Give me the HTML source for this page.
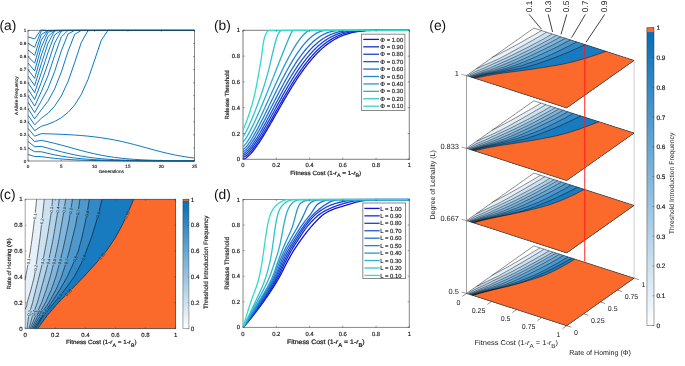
<!DOCTYPE html>
<html><head><meta charset="utf-8"><style>
html,body{margin:0;padding:0;background:#fff;}
svg{display:block;font-family:"Liberation Sans", sans-serif;will-change:transform;text-rendering:geometricPrecision;}
</style></head><body>
<svg width="685" height="366" viewBox="0 0 685 366" xmlns="http://www.w3.org/2000/svg">
<defs>
<clipPath id="clipa"><rect x="28" y="29.4" width="166.5" height="132.6"/></clipPath>
<clipPath id="clipb"><rect x="243" y="29.6" width="167" height="129.7"/></clipPath>
<clipPath id="clipd"><rect x="243" y="198.8" width="167" height="128.6"/></clipPath>
</defs>
<rect width="685" height="366" fill="#fff"/>
<text x="-0.5" y="29.8" font-size="13.8" text-anchor="start" fill="#111">(a)</text>
<g clip-path="url(#clipa)">
<path d="M28 154.47 L34.66 156.46 L41.32 156.62 L47.98 157.58 L54.64 158.36 L61.3 158.98 L67.96 159.46 L74.62 159.84 L81.28 160.13 L87.94 160.34 L94.6 160.51 L101.26 160.63 L107.92 160.73 L114.58 160.8 L121.24 160.85 L127.9 160.89 L134.56 160.92 L141.22 160.94 L147.88 160.95 L154.54 160.97 L161.2 160.97 L167.86 160.98 L174.52 160.99 L181.18 160.99 L187.84 160.99 L194.5 160.99" stroke="#0072bd" fill="none" stroke-width="0.95" stroke-linejoin="round"/>
<path d="M28 147.94 L34.66 151.7 L41.32 151.76 L47.98 153.38 L54.64 154.83 L61.3 156.09 L67.96 157.14 L74.62 158.01 L81.28 158.7 L87.94 159.25 L94.6 159.67 L101.26 160 L107.92 160.25 L114.58 160.44 L121.24 160.58 L127.9 160.69 L134.56 160.77 L141.22 160.83 L147.88 160.87 L154.54 160.9 L161.2 160.93 L167.86 160.95 L174.52 160.96 L181.18 160.97 L187.84 160.98 L194.5 160.98" stroke="#0072bd" fill="none" stroke-width="0.95" stroke-linejoin="round"/>
<path d="M28 141.41 L34.66 146.74 L41.32 146.35 L47.98 148.2 L54.64 150.02 L61.3 151.78 L67.96 153.4 L74.62 154.85 L81.28 156.1 L87.94 157.15 L94.6 158.02 L101.26 158.71 L107.92 159.25 L114.58 159.68 L121.24 160 L127.9 160.25 L134.56 160.44 L141.22 160.58 L147.88 160.69 L154.54 160.77 L161.2 160.83 L167.86 160.87 L174.52 160.9 L181.18 160.93 L187.84 160.95 L194.5 160.96" stroke="#0072bd" fill="none" stroke-width="0.95" stroke-linejoin="round"/>
<path d="M28 134.88 L34.66 141.57 L41.32 140.34 L47.98 141.77 L54.64 143.36 L61.3 145.08 L67.96 146.89 L74.62 148.73 L81.28 150.55 L87.94 152.27 L94.6 153.84 L101.26 155.23 L107.92 156.43 L114.58 157.42 L121.24 158.23 L127.9 158.88 L134.56 159.39 L141.22 159.78 L147.88 160.08 L154.54 160.31 L161.2 160.48 L167.86 160.61 L174.52 160.71 L181.18 160.79 L187.84 160.84 L194.5 160.88" stroke="#0072bd" fill="none" stroke-width="0.95" stroke-linejoin="round"/>
<path d="M28 128.35 L34.66 136.19 L41.32 133.65 L47.98 133.82 L54.64 134.04 L61.3 134.3 L67.96 134.63 L74.62 135.04 L81.28 135.53 L87.94 136.14 L94.6 136.87 L101.26 137.75 L107.92 138.79 L114.58 140 L121.24 141.39 L127.9 142.94 L134.56 144.63 L141.22 146.42 L147.88 148.26 L154.54 150.09 L161.2 151.84 L167.86 153.45 L174.52 154.9 L181.18 156.14 L187.84 157.19 L194.5 158.04" stroke="#0072bd" fill="none" stroke-width="0.95" stroke-linejoin="round"/>
<path d="M28 121.82 L34.66 130.6 L41.32 126.27 L47.98 124.23 L54.64 121.49 L61.3 117.73 L67.96 112.49 L74.62 105.07 L81.28 94.47 L87.94 79.56 L94.6 60.12 L101.26 40.27 L107.92 30.4 L114.58 30.4 L121.24 30.4 L127.9 30.4 L134.56 30.4 L141.22 30.4 L147.88 30.4 L154.54 30.4 L161.2 30.4 L167.86 30.4 L174.52 30.4 L181.18 30.4 L187.84 30.4 L194.5 30.4" stroke="#0072bd" fill="none" stroke-width="0.95" stroke-linejoin="round"/>
<path d="M28 115.29 L34.66 124.8 L41.32 118.28 L47.98 113.26 L54.64 106.17 L61.3 96.05 L67.96 81.74 L74.62 62.79 L81.28 42.5 L87.94 30.71 L94.6 30.4 L101.26 30.4 L107.92 30.4 L114.58 30.4 L121.24 30.4 L127.9 30.4 L134.56 30.4 L141.22 30.4 L147.88 30.4 L154.54 30.4 L161.2 30.4 L167.86 30.4 L174.52 30.4 L181.18 30.4 L187.84 30.4 L194.5 30.4" stroke="#0072bd" fill="none" stroke-width="0.95" stroke-linejoin="round"/>
<path d="M28 108.76 L34.66 118.79 L41.32 109.78 L47.98 101.21 L54.64 88.99 L61.3 72.12 L67.96 51.61 L74.62 34.45 L81.28 30.4 L87.94 30.4 L94.6 30.4 L101.26 30.4 L107.92 30.4 L114.58 30.4 L121.24 30.4 L127.9 30.4 L134.56 30.4 L141.22 30.4 L147.88 30.4 L154.54 30.4 L161.2 30.4 L167.86 30.4 L174.52 30.4 L181.18 30.4 L187.84 30.4 L194.5 30.4" stroke="#0072bd" fill="none" stroke-width="0.95" stroke-linejoin="round"/>
<path d="M28 102.23 L34.66 112.57 L41.32 100.87 L47.98 88.5 L54.64 71.47 L61.3 50.92 L67.96 34.07 L74.62 30.4 L81.28 30.4 L87.94 30.4 L94.6 30.4 L101.26 30.4 L107.92 30.4 L114.58 30.4 L121.24 30.4 L127.9 30.4 L134.56 30.4 L141.22 30.4 L147.88 30.4 L154.54 30.4 L161.2 30.4 L167.86 30.4 L174.52 30.4 L181.18 30.4 L187.84 30.4 L194.5 30.4" stroke="#0072bd" fill="none" stroke-width="0.95" stroke-linejoin="round"/>
<path d="M28 95.7 L34.66 106.15 L41.32 91.65 L47.98 75.69 L54.64 55.57 L61.3 36.9 L67.96 30.4 L74.62 30.4 L81.28 30.4 L87.94 30.4 L94.6 30.4 L101.26 30.4 L107.92 30.4 L114.58 30.4 L121.24 30.4 L127.9 30.4 L134.56 30.4 L141.22 30.4 L147.88 30.4 L154.54 30.4 L161.2 30.4 L167.86 30.4 L174.52 30.4 L181.18 30.4 L187.84 30.4 L194.5 30.4" stroke="#0072bd" fill="none" stroke-width="0.95" stroke-linejoin="round"/>
<path d="M28 89.17 L34.66 99.51 L41.32 82.26 L47.98 63.44 L54.64 43.07 L61.3 30.86 L67.96 30.4 L74.62 30.4 L81.28 30.4 L87.94 30.4 L94.6 30.4 L101.26 30.4 L107.92 30.4 L114.58 30.4 L121.24 30.4 L127.9 30.4 L134.56 30.4 L141.22 30.4 L147.88 30.4 L154.54 30.4 L161.2 30.4 L167.86 30.4 L174.52 30.4 L181.18 30.4 L187.84 30.4 L194.5 30.4" stroke="#0072bd" fill="none" stroke-width="0.95" stroke-linejoin="round"/>
<path d="M28 82.64 L34.66 92.67 L41.32 72.89 L47.98 52.44 L54.64 34.93 L61.3 30.4 L67.96 30.4 L74.62 30.4 L81.28 30.4 L87.94 30.4 L94.6 30.4 L101.26 30.4 L107.92 30.4 L114.58 30.4 L121.24 30.4 L127.9 30.4 L134.56 30.4 L141.22 30.4 L147.88 30.4 L154.54 30.4 L161.2 30.4 L167.86 30.4 L174.52 30.4 L181.18 30.4 L187.84 30.4 L194.5 30.4" stroke="#0072bd" fill="none" stroke-width="0.95" stroke-linejoin="round"/>
<path d="M28 76.11 L34.66 85.62 L41.32 63.73 L47.98 43.32 L54.64 30.93 L61.3 30.4 L67.96 30.4 L74.62 30.4 L81.28 30.4 L87.94 30.4 L94.6 30.4 L101.26 30.4 L107.92 30.4 L114.58 30.4 L121.24 30.4 L127.9 30.4 L134.56 30.4 L141.22 30.4 L147.88 30.4 L154.54 30.4 L161.2 30.4 L167.86 30.4 L174.52 30.4 L181.18 30.4 L187.84 30.4 L194.5 30.4" stroke="#0072bd" fill="none" stroke-width="0.95" stroke-linejoin="round"/>
<path d="M28 69.58 L34.66 78.36 L41.32 55.01 L47.98 36.53 L54.64 30.4 L61.3 30.4 L67.96 30.4 L74.62 30.4 L81.28 30.4 L87.94 30.4 L94.6 30.4 L101.26 30.4 L107.92 30.4 L114.58 30.4 L121.24 30.4 L127.9 30.4 L134.56 30.4 L141.22 30.4 L147.88 30.4 L154.54 30.4 L161.2 30.4 L167.86 30.4 L174.52 30.4 L181.18 30.4 L187.84 30.4 L194.5 30.4" stroke="#0072bd" fill="none" stroke-width="0.95" stroke-linejoin="round"/>
<path d="M28 63.05 L34.66 70.89 L41.32 47.02 L47.98 32.22 L54.64 30.4 L61.3 30.4 L67.96 30.4 L74.62 30.4 L81.28 30.4 L87.94 30.4 L94.6 30.4 L101.26 30.4 L107.92 30.4 L114.58 30.4 L121.24 30.4 L127.9 30.4 L134.56 30.4 L141.22 30.4 L147.88 30.4 L154.54 30.4 L161.2 30.4 L167.86 30.4 L174.52 30.4 L181.18 30.4 L187.84 30.4 L194.5 30.4" stroke="#0072bd" fill="none" stroke-width="0.95" stroke-linejoin="round"/>
<path d="M28 56.52 L34.66 63.21 L41.32 40.07 L47.98 30.4 L54.64 30.4 L61.3 30.4 L67.96 30.4 L74.62 30.4 L81.28 30.4 L87.94 30.4 L94.6 30.4 L101.26 30.4 L107.92 30.4 L114.58 30.4 L121.24 30.4 L127.9 30.4 L134.56 30.4 L141.22 30.4 L147.88 30.4 L154.54 30.4 L161.2 30.4 L167.86 30.4 L174.52 30.4 L181.18 30.4 L187.84 30.4 L194.5 30.4" stroke="#0072bd" fill="none" stroke-width="0.95" stroke-linejoin="round"/>
<path d="M28 49.99 L34.66 55.32 L41.32 34.5 L47.98 30.4 L54.64 30.4 L61.3 30.4 L67.96 30.4 L74.62 30.4 L81.28 30.4 L87.94 30.4 L94.6 30.4 L101.26 30.4 L107.92 30.4 L114.58 30.4 L121.24 30.4 L127.9 30.4 L134.56 30.4 L141.22 30.4 L147.88 30.4 L154.54 30.4 L161.2 30.4 L167.86 30.4 L174.52 30.4 L181.18 30.4 L187.84 30.4 L194.5 30.4" stroke="#0072bd" fill="none" stroke-width="0.95" stroke-linejoin="round"/>
<path d="M28 43.46 L34.66 47.22 L41.32 30.73 L47.98 30.4 L54.64 30.4 L61.3 30.4 L67.96 30.4 L74.62 30.4 L81.28 30.4 L87.94 30.4 L94.6 30.4 L101.26 30.4 L107.92 30.4 L114.58 30.4 L121.24 30.4 L127.9 30.4 L134.56 30.4 L141.22 30.4 L147.88 30.4 L154.54 30.4 L161.2 30.4 L167.86 30.4 L174.52 30.4 L181.18 30.4 L187.84 30.4 L194.5 30.4" stroke="#0072bd" fill="none" stroke-width="0.95" stroke-linejoin="round"/>
<path d="M28 36.93 L34.66 38.92 L41.32 29.2 L47.98 30.69 L54.64 30.4 L61.3 30.4 L67.96 30.4 L74.62 30.4 L81.28 30.4 L87.94 30.4 L94.6 30.4 L101.26 30.4 L107.92 30.4 L114.58 30.4 L121.24 30.4 L127.9 30.4 L134.56 30.4 L141.22 30.4 L147.88 30.4 L154.54 30.4 L161.2 30.4 L167.86 30.4 L174.52 30.4 L181.18 30.4 L187.84 30.4 L194.5 30.4" stroke="#0072bd" fill="none" stroke-width="0.95" stroke-linejoin="round"/>
</g>
<rect x="28" y="30.4" width="166.5" height="130.6" fill="none" stroke="#262626" stroke-opacity="0.55" stroke-width="1"/>
<line x1="28" y1="161" x2="28" y2="159.5" stroke="#262626" stroke-opacity="0.55" stroke-width="0.8"/>
<line x1="28" y1="30.4" x2="28" y2="31.9" stroke="#262626" stroke-opacity="0.55" stroke-width="0.8"/>
<text x="28" y="167.6" font-size="4.6" text-anchor="middle" fill="#1a1a1a" stroke="#1a1a1a" stroke-width="0.13">0</text>
<line x1="61.3" y1="161" x2="61.3" y2="159.5" stroke="#262626" stroke-opacity="0.55" stroke-width="0.8"/>
<line x1="61.3" y1="30.4" x2="61.3" y2="31.9" stroke="#262626" stroke-opacity="0.55" stroke-width="0.8"/>
<text x="61.3" y="167.6" font-size="4.6" text-anchor="middle" fill="#1a1a1a" stroke="#1a1a1a" stroke-width="0.13">5</text>
<line x1="94.6" y1="161" x2="94.6" y2="159.5" stroke="#262626" stroke-opacity="0.55" stroke-width="0.8"/>
<line x1="94.6" y1="30.4" x2="94.6" y2="31.9" stroke="#262626" stroke-opacity="0.55" stroke-width="0.8"/>
<text x="94.6" y="167.6" font-size="4.6" text-anchor="middle" fill="#1a1a1a" stroke="#1a1a1a" stroke-width="0.13">10</text>
<line x1="127.9" y1="161" x2="127.9" y2="159.5" stroke="#262626" stroke-opacity="0.55" stroke-width="0.8"/>
<line x1="127.9" y1="30.4" x2="127.9" y2="31.9" stroke="#262626" stroke-opacity="0.55" stroke-width="0.8"/>
<text x="127.9" y="167.6" font-size="4.6" text-anchor="middle" fill="#1a1a1a" stroke="#1a1a1a" stroke-width="0.13">15</text>
<line x1="161.2" y1="161" x2="161.2" y2="159.5" stroke="#262626" stroke-opacity="0.55" stroke-width="0.8"/>
<line x1="161.2" y1="30.4" x2="161.2" y2="31.9" stroke="#262626" stroke-opacity="0.55" stroke-width="0.8"/>
<text x="161.2" y="167.6" font-size="4.6" text-anchor="middle" fill="#1a1a1a" stroke="#1a1a1a" stroke-width="0.13">20</text>
<line x1="194.5" y1="161" x2="194.5" y2="159.5" stroke="#262626" stroke-opacity="0.55" stroke-width="0.8"/>
<line x1="194.5" y1="30.4" x2="194.5" y2="31.9" stroke="#262626" stroke-opacity="0.55" stroke-width="0.8"/>
<text x="194.5" y="167.6" font-size="4.6" text-anchor="middle" fill="#1a1a1a" stroke="#1a1a1a" stroke-width="0.13">25</text>
<line x1="28" y1="161" x2="29.5" y2="161" stroke="#262626" stroke-opacity="0.55" stroke-width="0.8"/>
<line x1="194.5" y1="161" x2="193" y2="161" stroke="#262626" stroke-opacity="0.55" stroke-width="0.8"/>
<text x="26.2" y="162.61" font-size="4.6" text-anchor="end" fill="#1a1a1a" stroke="#1a1a1a" stroke-width="0.13">0</text>
<line x1="28" y1="147.94" x2="29.5" y2="147.94" stroke="#262626" stroke-opacity="0.55" stroke-width="0.8"/>
<line x1="194.5" y1="147.94" x2="193" y2="147.94" stroke="#262626" stroke-opacity="0.55" stroke-width="0.8"/>
<text x="26.2" y="149.55" font-size="4.6" text-anchor="end" fill="#1a1a1a" stroke="#1a1a1a" stroke-width="0.13">0.1</text>
<line x1="28" y1="134.88" x2="29.5" y2="134.88" stroke="#262626" stroke-opacity="0.55" stroke-width="0.8"/>
<line x1="194.5" y1="134.88" x2="193" y2="134.88" stroke="#262626" stroke-opacity="0.55" stroke-width="0.8"/>
<text x="26.2" y="136.49" font-size="4.6" text-anchor="end" fill="#1a1a1a" stroke="#1a1a1a" stroke-width="0.13">0.2</text>
<line x1="28" y1="121.82" x2="29.5" y2="121.82" stroke="#262626" stroke-opacity="0.55" stroke-width="0.8"/>
<line x1="194.5" y1="121.82" x2="193" y2="121.82" stroke="#262626" stroke-opacity="0.55" stroke-width="0.8"/>
<text x="26.2" y="123.43" font-size="4.6" text-anchor="end" fill="#1a1a1a" stroke="#1a1a1a" stroke-width="0.13">0.3</text>
<line x1="28" y1="108.76" x2="29.5" y2="108.76" stroke="#262626" stroke-opacity="0.55" stroke-width="0.8"/>
<line x1="194.5" y1="108.76" x2="193" y2="108.76" stroke="#262626" stroke-opacity="0.55" stroke-width="0.8"/>
<text x="26.2" y="110.37" font-size="4.6" text-anchor="end" fill="#1a1a1a" stroke="#1a1a1a" stroke-width="0.13">0.4</text>
<line x1="28" y1="95.7" x2="29.5" y2="95.7" stroke="#262626" stroke-opacity="0.55" stroke-width="0.8"/>
<line x1="194.5" y1="95.7" x2="193" y2="95.7" stroke="#262626" stroke-opacity="0.55" stroke-width="0.8"/>
<text x="26.2" y="97.31" font-size="4.6" text-anchor="end" fill="#1a1a1a" stroke="#1a1a1a" stroke-width="0.13">0.5</text>
<line x1="28" y1="82.64" x2="29.5" y2="82.64" stroke="#262626" stroke-opacity="0.55" stroke-width="0.8"/>
<line x1="194.5" y1="82.64" x2="193" y2="82.64" stroke="#262626" stroke-opacity="0.55" stroke-width="0.8"/>
<text x="26.2" y="84.25" font-size="4.6" text-anchor="end" fill="#1a1a1a" stroke="#1a1a1a" stroke-width="0.13">0.6</text>
<line x1="28" y1="69.58" x2="29.5" y2="69.58" stroke="#262626" stroke-opacity="0.55" stroke-width="0.8"/>
<line x1="194.5" y1="69.58" x2="193" y2="69.58" stroke="#262626" stroke-opacity="0.55" stroke-width="0.8"/>
<text x="26.2" y="71.19" font-size="4.6" text-anchor="end" fill="#1a1a1a" stroke="#1a1a1a" stroke-width="0.13">0.7</text>
<line x1="28" y1="56.52" x2="29.5" y2="56.52" stroke="#262626" stroke-opacity="0.55" stroke-width="0.8"/>
<line x1="194.5" y1="56.52" x2="193" y2="56.52" stroke="#262626" stroke-opacity="0.55" stroke-width="0.8"/>
<text x="26.2" y="58.13" font-size="4.6" text-anchor="end" fill="#1a1a1a" stroke="#1a1a1a" stroke-width="0.13">0.8</text>
<line x1="28" y1="43.46" x2="29.5" y2="43.46" stroke="#262626" stroke-opacity="0.55" stroke-width="0.8"/>
<line x1="194.5" y1="43.46" x2="193" y2="43.46" stroke="#262626" stroke-opacity="0.55" stroke-width="0.8"/>
<text x="26.2" y="45.07" font-size="4.6" text-anchor="end" fill="#1a1a1a" stroke="#1a1a1a" stroke-width="0.13">0.9</text>
<line x1="28" y1="30.4" x2="29.5" y2="30.4" stroke="#262626" stroke-opacity="0.55" stroke-width="0.8"/>
<line x1="194.5" y1="30.4" x2="193" y2="30.4" stroke="#262626" stroke-opacity="0.55" stroke-width="0.8"/>
<text x="26.2" y="32.01" font-size="4.6" text-anchor="end" fill="#1a1a1a" stroke="#1a1a1a" stroke-width="0.13">1</text>
<text x="111.25" y="173.2" font-size="4.6" text-anchor="middle" fill="#1a1a1a" stroke="#1a1a1a" stroke-width="0.13">Generations</text>
<text x="17.6" y="95.7" font-size="4.7" text-anchor="middle" fill="#1a1a1a" transform="rotate(-90 17.6 95.7)" stroke="#1a1a1a" stroke-width="0.13">A Allele Frequency</text>
<text x="214" y="30" font-size="13.8" text-anchor="start" fill="#111">(b)</text>
<rect x="243" y="30.3" width="166.3" height="129" fill="none" stroke="#262626" stroke-opacity="0.6" stroke-width="1"/>
<g clip-path="url(#clipb)">
<path d="M243 159.28 L243.83 159.08 L244.66 158.73 L245.49 158.26 L246.33 157.7 L247.16 157.07 L247.99 156.36 L248.82 155.6 L249.65 154.78 L250.48 153.9 L251.31 152.98 L252.15 152.02 L252.98 151.01 L253.81 149.97 L254.64 148.89 L255.47 147.77 L256.3 146.63 L257.14 145.46 L257.97 144.25 L258.8 143.03 L259.63 141.78 L260.46 140.5 L261.29 139.21 L262.12 137.89 L262.96 136.56 L263.79 135.21 L264.62 133.85 L265.45 132.47 L266.28 131.08 L267.11 129.68 L267.94 128.26 L268.78 126.84 L269.61 125.41 L270.44 123.97 L271.27 122.52 L272.1 121.07 L272.93 119.62 L273.77 118.16 L274.6 116.7 L275.43 115.24 L276.26 113.77 L277.09 112.31 L277.92 110.85 L278.75 109.39 L279.59 107.93 L280.42 106.47 L281.25 105.02 L282.08 103.57 L282.91 102.13 L283.74 100.7 L284.57 99.27 L285.41 97.84 L286.24 96.43 L287.07 95.02 L287.9 93.62 L288.73 92.23 L289.56 90.86 L290.4 89.49 L291.23 88.13 L292.06 86.78 L292.89 85.45 L293.72 84.13 L294.55 82.82 L295.38 81.52 L296.22 80.24 L297.05 78.97 L297.88 77.71 L298.71 76.47 L299.54 75.25 L300.37 74.04 L301.21 72.85 L302.04 71.67 L302.87 70.5 L303.7 69.36 L304.53 68.23 L305.36 67.12 L306.19 66.02 L307.03 64.94 L307.86 63.88 L308.69 62.84 L309.52 61.81 L310.35 60.8 L311.18 59.81 L312.01 58.84 L312.85 57.89 L313.68 56.95 L314.51 56.03 L315.34 55.14 L316.17 54.25 L317 53.39 L317.84 52.55 L318.67 51.72 L319.5 50.92 L320.33 50.13 L321.16 49.36 L321.99 48.61 L322.82 47.88 L323.66 47.16 L324.49 46.47 L325.32 45.79 L326.15 45.13 L326.98 44.48 L327.81 43.86 L328.64 43.25 L329.48 42.66 L330.31 42.09 L331.14 41.54 L331.97 41 L332.8 40.48 L333.63 39.98 L334.47 39.49 L335.3 39.02 L336.13 38.56 L336.96 38.12 L337.79 37.7 L338.62 37.29 L339.45 36.9 L340.29 36.52 L341.12 36.16 L341.95 35.81 L342.78 35.48 L343.61 35.16 L344.44 34.85 L345.27 34.56 L346.11 34.28 L346.94 34.01 L347.77 33.76 L348.6 33.52 L349.43 33.29 L350.26 33.07 L351.1 32.86 L351.93 32.67 L352.76 32.48 L353.59 32.31 L354.42 32.14 L355.25 31.99 L356.08 31.84 L356.92 31.7 L357.75 31.58 L358.58 31.46 L359.41 31.35 L360.24 31.24 L361.07 31.15 L361.9 31.06 L362.74 30.98 L363.57 30.9 L364.4 30.83 L365.23 30.77 L366.06 30.71 L366.89 30.66 L367.73 30.61 L368.56 30.57 L369.39 30.53 L370.22 30.5 L371.05 30.47 L371.88 30.44 L372.71 30.42 L373.55 30.39 L374.38 30.38 L375.21 30.36 L376.04 30.35 L376.87 30.34 L377.7 30.33 L378.53 30.32 L379.37 30.32 L380.2 30.31 L381.03 30.31 L381.86 30.31 L382.69 30.3 L383.52 30.3 L384.36 30.3 L409.3 30.3" stroke="#1414d2" fill="none" stroke-width="1.3" stroke-linejoin="round"/>
<path d="M243 157.21 L243.83 157.01 L244.66 156.66 L245.49 156.19 L246.33 155.62 L247.16 154.98 L247.99 154.27 L248.82 153.49 L249.65 152.66 L250.48 151.77 L251.31 150.84 L252.15 149.86 L252.98 148.83 L253.81 147.77 L254.64 146.67 L255.47 145.54 L256.3 144.38 L257.14 143.18 L257.97 141.96 L258.8 140.71 L259.63 139.43 L260.46 138.14 L261.29 136.82 L262.12 135.48 L262.96 134.12 L263.79 132.75 L264.62 131.36 L265.45 129.96 L266.28 128.54 L267.11 127.11 L267.94 125.67 L268.78 124.22 L269.61 122.77 L270.44 121.3 L271.27 119.83 L272.1 118.36 L272.93 116.88 L273.77 115.4 L274.6 113.91 L275.43 112.42 L276.26 110.94 L277.09 109.45 L277.92 107.97 L278.75 106.48 L279.59 105 L280.42 103.53 L281.25 102.06 L282.08 100.59 L282.91 99.13 L283.74 97.68 L284.57 96.23 L285.41 94.79 L286.24 93.36 L287.07 91.94 L287.9 90.53 L288.73 89.12 L289.56 87.73 L290.4 86.36 L291.23 84.99 L292.06 83.63 L292.89 82.29 L293.72 80.96 L294.55 79.65 L295.38 78.35 L296.22 77.06 L297.05 75.79 L297.88 74.54 L298.71 73.3 L299.54 72.07 L300.37 70.87 L301.21 69.68 L302.04 68.5 L302.87 67.35 L303.7 66.21 L304.53 65.09 L305.36 63.99 L306.19 62.91 L307.03 61.84 L307.86 60.79 L308.69 59.77 L309.52 58.76 L310.35 57.77 L311.18 56.8 L312.01 55.85 L312.85 54.91 L313.68 54 L314.51 53.11 L315.34 52.24 L316.17 51.38 L317 50.55 L317.84 49.74 L318.67 48.94 L319.5 48.17 L320.33 47.41 L321.16 46.68 L321.99 45.96 L322.82 45.27 L323.66 44.59 L324.49 43.93 L325.32 43.29 L326.15 42.67 L326.98 42.07 L327.81 41.49 L328.64 40.92 L329.48 40.38 L330.31 39.85 L331.14 39.34 L331.97 38.85 L332.8 38.38 L333.63 37.92 L334.47 37.48 L335.3 37.06 L336.13 36.65 L336.96 36.27 L337.79 35.89 L338.62 35.53 L339.45 35.19 L340.29 34.87 L341.12 34.55 L341.95 34.26 L342.78 33.97 L343.61 33.7 L344.44 33.45 L345.27 33.21 L346.11 32.98 L346.94 32.76 L347.77 32.56 L348.6 32.37 L349.43 32.19 L350.26 32.02 L351.1 31.86 L351.93 31.71 L352.76 31.57 L353.59 31.44 L354.42 31.32 L355.25 31.21 L356.08 31.11 L356.92 31.02 L357.75 30.93 L358.58 30.86 L359.41 30.78 L360.24 30.72 L361.07 30.66 L361.9 30.61 L362.74 30.56 L363.57 30.52 L364.4 30.49 L365.23 30.45 L366.06 30.43 L366.89 30.4 L367.73 30.38 L368.56 30.36 L369.39 30.35 L370.22 30.34 L371.05 30.33 L371.88 30.32 L372.71 30.31 L373.55 30.31 L374.38 30.31 L375.21 30.3 L376.04 30.3 L376.87 30.3 L377.7 30.3 L378.53 30.3 L379.37 30.3 L380.2 30.3 L381.03 30.3 L381.86 30.3 L382.69 30.3 L383.52 30.3 L384.36 30.3 L409.3 30.3" stroke="#172ad2" fill="none" stroke-width="1.3" stroke-linejoin="round"/>
<path d="M243 155.27 L243.83 155.06 L244.66 154.68 L245.49 154.18 L246.33 153.57 L247.16 152.89 L247.99 152.13 L248.82 151.31 L249.65 150.43 L250.48 149.49 L251.31 148.51 L252.15 147.48 L252.98 146.4 L253.81 145.29 L254.64 144.14 L255.47 142.95 L256.3 141.73 L257.14 140.48 L257.97 139.21 L258.8 137.9 L259.63 136.58 L260.46 135.23 L261.29 133.86 L262.12 132.46 L262.96 131.06 L263.79 129.63 L264.62 128.19 L265.45 126.74 L266.28 125.27 L267.11 123.8 L267.94 122.31 L268.78 120.82 L269.61 119.31 L270.44 117.81 L271.27 116.29 L272.1 114.78 L272.93 113.26 L273.77 111.73 L274.6 110.21 L275.43 108.69 L276.26 107.17 L277.09 105.65 L277.92 104.13 L278.75 102.61 L279.59 101.11 L280.42 99.6 L281.25 98.1 L282.08 96.61 L282.91 95.13 L283.74 93.65 L284.57 92.18 L285.41 90.73 L286.24 89.28 L287.07 87.84 L287.9 86.42 L288.73 85.01 L289.56 83.61 L290.4 82.22 L291.23 80.85 L292.06 79.49 L292.89 78.14 L293.72 76.82 L294.55 75.5 L295.38 74.21 L296.22 72.92 L297.05 71.66 L297.88 70.41 L298.71 69.19 L299.54 67.97 L300.37 66.78 L301.21 65.61 L302.04 64.45 L302.87 63.32 L303.7 62.2 L304.53 61.1 L305.36 60.03 L306.19 58.97 L307.03 57.93 L307.86 56.92 L308.69 55.92 L309.52 54.94 L310.35 53.99 L311.18 53.06 L312.01 52.14 L312.85 51.25 L313.68 50.38 L314.51 49.53 L315.34 48.7 L316.17 47.9 L317 47.11 L317.84 46.35 L318.67 45.6 L319.5 44.88 L320.33 44.18 L321.16 43.5 L321.99 42.84 L322.82 42.2 L323.66 41.58 L324.49 40.98 L325.32 40.4 L326.15 39.84 L326.98 39.3 L327.81 38.78 L328.64 38.28 L329.48 37.8 L330.31 37.34 L331.14 36.9 L331.97 36.47 L332.8 36.06 L333.63 35.67 L334.47 35.3 L335.3 34.95 L336.13 34.61 L336.96 34.29 L337.79 33.98 L338.62 33.69 L339.45 33.42 L340.29 33.16 L341.12 32.92 L341.95 32.69 L342.78 32.47 L343.61 32.27 L344.44 32.08 L345.27 31.9 L346.11 31.74 L346.94 31.59 L347.77 31.45 L348.6 31.32 L349.43 31.2 L350.26 31.09 L351.1 30.99 L351.93 30.9 L352.76 30.81 L353.59 30.74 L354.42 30.67 L355.25 30.61 L356.08 30.56 L356.92 30.52 L357.75 30.48 L358.58 30.44 L359.41 30.41 L360.24 30.39 L361.07 30.37 L361.9 30.35 L362.74 30.34 L363.57 30.33 L364.4 30.32 L365.23 30.31 L366.06 30.31 L366.89 30.3 L367.73 30.3 L368.56 30.3 L369.39 30.3 L370.22 30.3 L371.05 30.3 L371.88 30.3 L372.71 30.3 L373.55 30.3 L374.38 30.3 L375.21 30.3 L376.04 30.3 L376.87 30.3 L377.7 30.3 L378.53 30.3 L379.37 30.3 L380.2 30.3 L381.03 30.3 L381.86 30.3 L382.69 30.3 L383.52 30.3 L384.36 30.3 L409.3 30.3" stroke="#1b40d1" fill="none" stroke-width="1.3" stroke-linejoin="round"/>
<path d="M243 153.47 L243.83 153.22 L244.66 152.8 L245.49 152.25 L246.33 151.59 L247.16 150.85 L247.99 150.03 L248.82 149.14 L249.65 148.19 L250.48 147.18 L251.31 146.13 L252.15 145.03 L252.98 143.88 L253.81 142.69 L254.64 141.46 L255.47 140.2 L256.3 138.91 L257.14 137.59 L257.97 136.24 L258.8 134.86 L259.63 133.46 L260.46 132.04 L261.29 130.59 L262.12 129.13 L262.96 127.65 L263.79 126.16 L264.62 124.65 L265.45 123.13 L266.28 121.6 L267.11 120.06 L267.94 118.51 L268.78 116.95 L269.61 115.39 L270.44 113.83 L271.27 112.26 L272.1 110.68 L272.93 109.11 L273.77 107.53 L274.6 105.96 L275.43 104.39 L276.26 102.82 L277.09 101.26 L277.92 99.7 L278.75 98.14 L279.59 96.59 L280.42 95.05 L281.25 93.52 L282.08 92 L282.91 90.48 L283.74 88.98 L284.57 87.48 L285.41 86 L286.24 84.53 L287.07 83.08 L287.9 81.64 L288.73 80.21 L289.56 78.8 L290.4 77.4 L291.23 76.02 L292.06 74.66 L292.89 73.31 L293.72 71.98 L294.55 70.67 L295.38 69.37 L296.22 68.1 L297.05 66.85 L297.88 65.61 L298.71 64.4 L299.54 63.2 L300.37 62.03 L301.21 60.87 L302.04 59.74 L302.87 58.63 L303.7 57.54 L304.53 56.48 L305.36 55.43 L306.19 54.41 L307.03 53.41 L307.86 52.44 L308.69 51.48 L309.52 50.55 L310.35 49.65 L311.18 48.76 L312.01 47.9 L312.85 47.06 L313.68 46.25 L314.51 45.46 L315.34 44.69 L316.17 43.94 L317 43.22 L317.84 42.52 L318.67 41.85 L319.5 41.19 L320.33 40.56 L321.16 39.95 L321.99 39.37 L322.82 38.8 L323.66 38.26 L324.49 37.74 L325.32 37.24 L326.15 36.76 L326.98 36.31 L327.81 35.87 L328.64 35.46 L329.48 35.06 L330.31 34.69 L331.14 34.33 L331.97 33.99 L332.8 33.67 L333.63 33.37 L334.47 33.09 L335.3 32.82 L336.13 32.58 L336.96 32.34 L337.79 32.13 L338.62 31.93 L339.45 31.74 L340.29 31.57 L341.12 31.41 L341.95 31.27 L342.78 31.14 L343.61 31.02 L344.44 30.91 L345.27 30.82 L346.11 30.73 L346.94 30.66 L347.77 30.59 L348.6 30.53 L349.43 30.48 L350.26 30.44 L351.1 30.41 L351.93 30.38 L352.76 30.36 L353.59 30.34 L354.42 30.33 L355.25 30.32 L356.08 30.31 L356.92 30.3 L357.75 30.3 L358.58 30.3 L359.41 30.3 L360.24 30.3 L361.07 30.3 L361.9 30.3 L362.74 30.3 L363.57 30.3 L364.4 30.3 L365.23 30.3 L366.06 30.3 L366.89 30.3 L367.73 30.3 L368.56 30.3 L369.39 30.3 L370.22 30.3 L371.05 30.3 L371.88 30.3 L372.71 30.3 L373.55 30.3 L374.38 30.3 L375.21 30.3 L376.04 30.3 L376.87 30.3 L377.7 30.3 L378.53 30.3 L379.37 30.3 L380.2 30.3 L381.03 30.3 L381.86 30.3 L382.69 30.3 L383.52 30.3 L384.36 30.3 L409.3 30.3" stroke="#1e56d1" fill="none" stroke-width="1.3" stroke-linejoin="round"/>
<path d="M243 151.52 L243.83 151.21 L244.66 150.7 L245.49 150.04 L246.33 149.27 L247.16 148.41 L247.99 147.48 L248.82 146.48 L249.65 145.41 L250.48 144.3 L251.31 143.13 L252.15 141.92 L252.98 140.66 L253.81 139.37 L254.64 138.04 L255.47 136.68 L256.3 135.29 L257.14 133.87 L257.97 132.43 L258.8 130.96 L259.63 129.48 L260.46 127.97 L261.29 126.44 L262.12 124.9 L262.96 123.34 L263.79 121.78 L264.62 120.2 L265.45 118.61 L266.28 117.01 L267.11 115.4 L267.94 113.79 L268.78 112.17 L269.61 110.55 L270.44 108.93 L271.27 107.3 L272.1 105.68 L272.93 104.06 L273.77 102.43 L274.6 100.82 L275.43 99.2 L276.26 97.59 L277.09 95.99 L277.92 94.39 L278.75 92.8 L279.59 91.22 L280.42 89.64 L281.25 88.08 L282.08 86.53 L282.91 84.99 L283.74 83.46 L284.57 81.94 L285.41 80.44 L286.24 78.96 L287.07 77.48 L287.9 76.03 L288.73 74.59 L289.56 73.16 L290.4 71.76 L291.23 70.37 L292.06 69 L292.89 67.65 L293.72 66.32 L294.55 65.01 L295.38 63.72 L296.22 62.45 L297.05 61.21 L297.88 59.98 L298.71 58.78 L299.54 57.6 L300.37 56.44 L301.21 55.31 L302.04 54.2 L302.87 53.12 L303.7 52.05 L304.53 51.02 L305.36 50.01 L306.19 49.02 L307.03 48.06 L307.86 47.13 L308.69 46.22 L309.52 45.34 L310.35 44.48 L311.18 43.65 L312.01 42.85 L312.85 42.07 L313.68 41.32 L314.51 40.59 L315.34 39.89 L316.17 39.22 L317 38.58 L317.84 37.96 L318.67 37.37 L319.5 36.8 L320.33 36.26 L321.16 35.75 L321.99 35.26 L322.82 34.8 L323.66 34.37 L324.49 33.96 L325.32 33.57 L326.15 33.21 L326.98 32.87 L327.81 32.56 L328.64 32.27 L329.48 32 L330.31 31.76 L331.14 31.54 L331.97 31.34 L332.8 31.16 L333.63 31 L334.47 30.86 L335.3 30.73 L336.13 30.63 L336.96 30.54 L337.79 30.47 L338.62 30.41 L339.45 30.37 L340.29 30.34 L341.12 30.32 L341.95 30.31 L342.78 30.3 L343.61 30.3 L344.44 30.3 L345.27 30.3 L346.11 30.3 L346.94 30.3 L347.77 30.3 L348.6 30.3 L349.43 30.3 L350.26 30.3 L351.1 30.3 L351.93 30.3 L352.76 30.3 L353.59 30.3 L354.42 30.3 L355.25 30.3 L356.08 30.3 L356.92 30.3 L357.75 30.3 L358.58 30.3 L359.41 30.3 L360.24 30.3 L361.07 30.3 L361.9 30.3 L362.74 30.3 L363.57 30.3 L364.4 30.3 L365.23 30.3 L366.06 30.3 L366.89 30.3 L367.73 30.3 L368.56 30.3 L369.39 30.3 L370.22 30.3 L371.05 30.3 L371.88 30.3 L372.71 30.3 L373.55 30.3 L374.38 30.3 L375.21 30.3 L376.04 30.3 L376.87 30.3 L377.7 30.3 L378.53 30.3 L379.37 30.3 L380.2 30.3 L381.03 30.3 L381.86 30.3 L382.69 30.3 L383.52 30.3 L384.36 30.3 L409.3 30.3" stroke="#216cd0" fill="none" stroke-width="1.3" stroke-linejoin="round"/>
<path d="M243 149.32 L243.83 148.93 L244.66 148.31 L245.49 147.53 L246.33 146.64 L247.16 145.65 L247.99 144.59 L248.82 143.46 L249.65 142.27 L250.48 141.03 L251.31 139.74 L252.15 138.4 L252.98 137.02 L253.81 135.61 L254.64 134.16 L255.47 132.68 L256.3 131.17 L257.14 129.64 L257.97 128.08 L258.8 126.5 L259.63 124.9 L260.46 123.28 L261.29 121.65 L262.12 120 L262.96 118.34 L263.79 116.67 L264.62 114.99 L265.45 113.3 L266.28 111.61 L267.11 109.91 L267.94 108.2 L268.78 106.49 L269.61 104.78 L270.44 103.07 L271.27 101.36 L272.1 99.65 L272.93 97.94 L273.77 96.24 L274.6 94.54 L275.43 92.85 L276.26 91.16 L277.09 89.48 L277.92 87.81 L278.75 86.15 L279.59 84.5 L280.42 82.86 L281.25 81.24 L282.08 79.62 L282.91 78.02 L283.74 76.44 L284.57 74.86 L285.41 73.31 L286.24 71.77 L287.07 70.26 L287.9 68.75 L288.73 67.27 L289.56 65.81 L290.4 64.37 L291.23 62.95 L292.06 61.56 L292.89 60.18 L293.72 58.83 L294.55 57.5 L295.38 56.2 L296.22 54.93 L297.05 53.68 L297.88 52.45 L298.71 51.26 L299.54 50.09 L300.37 48.95 L301.21 47.84 L302.04 46.76 L302.87 45.71 L303.7 44.69 L304.53 43.7 L305.36 42.74 L306.19 41.82 L307.03 40.93 L307.86 40.07 L308.69 39.24 L309.52 38.45 L310.35 37.7 L311.18 36.98 L312.01 36.29 L312.85 35.64 L313.68 35.03 L314.51 34.45 L315.34 33.91 L316.17 33.41 L317 32.94 L317.84 32.52 L318.67 32.13 L319.5 31.77 L320.33 31.46 L321.16 31.18 L321.99 30.95 L322.82 30.75 L323.66 30.59 L324.49 30.46 L325.32 30.37 L326.15 30.32 L326.98 30.3 L327.81 30.3 L328.64 30.3 L329.48 30.3 L330.31 30.3 L331.14 30.3 L331.97 30.3 L332.8 30.3 L333.63 30.3 L334.47 30.3 L335.3 30.3 L336.13 30.3 L336.96 30.3 L337.79 30.3 L338.62 30.3 L339.45 30.3 L340.29 30.3 L341.12 30.3 L341.95 30.3 L342.78 30.3 L343.61 30.3 L344.44 30.3 L345.27 30.3 L346.11 30.3 L346.94 30.3 L347.77 30.3 L348.6 30.3 L349.43 30.3 L350.26 30.3 L351.1 30.3 L351.93 30.3 L352.76 30.3 L353.59 30.3 L354.42 30.3 L355.25 30.3 L356.08 30.3 L356.92 30.3 L357.75 30.3 L358.58 30.3 L359.41 30.3 L360.24 30.3 L361.07 30.3 L361.9 30.3 L362.74 30.3 L363.57 30.3 L364.4 30.3 L365.23 30.3 L366.06 30.3 L366.89 30.3 L367.73 30.3 L368.56 30.3 L369.39 30.3 L370.22 30.3 L371.05 30.3 L371.88 30.3 L372.71 30.3 L373.55 30.3 L374.38 30.3 L375.21 30.3 L376.04 30.3 L376.87 30.3 L377.7 30.3 L378.53 30.3 L379.37 30.3 L380.2 30.3 L381.03 30.3 L381.86 30.3 L382.69 30.3 L383.52 30.3 L384.36 30.3 L409.3 30.3" stroke="#2582d0" fill="none" stroke-width="1.3" stroke-linejoin="round"/>
<path d="M243 146.48 L243.83 145.94 L244.66 145.13 L245.49 144.17 L246.33 143.1 L247.16 141.94 L247.99 140.7 L248.82 139.4 L249.65 138.04 L250.48 136.63 L251.31 135.18 L252.15 133.68 L252.98 132.15 L253.81 130.59 L254.64 128.99 L255.47 127.37 L256.3 125.72 L257.14 124.05 L257.97 122.36 L258.8 120.65 L259.63 118.92 L260.46 117.17 L261.29 115.42 L262.12 113.64 L262.96 111.86 L263.79 110.07 L264.62 108.27 L265.45 106.46 L266.28 104.64 L267.11 102.83 L267.94 101 L268.78 99.18 L269.61 97.35 L270.44 95.52 L271.27 93.7 L272.1 91.87 L272.93 90.05 L273.77 88.23 L274.6 86.42 L275.43 84.61 L276.26 82.81 L277.09 81.02 L277.92 79.23 L278.75 77.46 L279.59 75.7 L280.42 73.95 L281.25 72.21 L282.08 70.48 L282.91 68.77 L283.74 67.08 L284.57 65.4 L285.41 63.75 L286.24 62.11 L287.07 60.49 L287.9 58.89 L288.73 57.32 L289.56 55.77 L290.4 54.24 L291.23 52.74 L292.06 51.27 L292.89 49.83 L293.72 48.42 L294.55 47.04 L295.38 45.69 L296.22 44.38 L297.05 43.11 L297.88 41.87 L298.71 40.68 L299.54 39.53 L300.37 38.42 L301.21 37.36 L302.04 36.35 L302.87 35.4 L303.7 34.5 L304.53 33.67 L305.36 32.9 L306.19 32.21 L307.03 31.6 L307.86 31.07 L308.69 30.66 L309.52 30.4 L310.35 30.31 L311.18 30.3 L312.01 30.3 L312.85 30.3 L313.68 30.3 L314.51 30.3 L315.34 30.3 L316.17 30.3 L317 30.3 L317.84 30.3 L318.67 30.3 L319.5 30.3 L320.33 30.3 L321.16 30.3 L321.99 30.3 L322.82 30.3 L323.66 30.3 L324.49 30.3 L325.32 30.3 L326.15 30.3 L326.98 30.3 L327.81 30.3 L328.64 30.3 L329.48 30.3 L330.31 30.3 L331.14 30.3 L331.97 30.3 L332.8 30.3 L333.63 30.3 L334.47 30.3 L335.3 30.3 L336.13 30.3 L336.96 30.3 L337.79 30.3 L338.62 30.3 L339.45 30.3 L340.29 30.3 L341.12 30.3 L341.95 30.3 L342.78 30.3 L343.61 30.3 L344.44 30.3 L345.27 30.3 L346.11 30.3 L346.94 30.3 L347.77 30.3 L348.6 30.3 L349.43 30.3 L350.26 30.3 L351.1 30.3 L351.93 30.3 L352.76 30.3 L353.59 30.3 L354.42 30.3 L355.25 30.3 L356.08 30.3 L356.92 30.3 L357.75 30.3 L358.58 30.3 L359.41 30.3 L360.24 30.3 L361.07 30.3 L361.9 30.3 L362.74 30.3 L363.57 30.3 L364.4 30.3 L365.23 30.3 L366.06 30.3 L366.89 30.3 L367.73 30.3 L368.56 30.3 L369.39 30.3 L370.22 30.3 L371.05 30.3 L371.88 30.3 L372.71 30.3 L373.55 30.3 L374.38 30.3 L375.21 30.3 L376.04 30.3 L376.87 30.3 L377.7 30.3 L378.53 30.3 L379.37 30.3 L380.2 30.3 L381.03 30.3 L381.86 30.3 L382.69 30.3 L383.52 30.3 L384.36 30.3 L409.3 30.3" stroke="#2898cf" fill="none" stroke-width="1.3" stroke-linejoin="round"/>
<path d="M243 141.82 L243.83 141.08 L244.66 140.06 L245.49 138.89 L246.33 137.61 L247.16 136.25 L247.99 134.82 L248.82 133.33 L249.65 131.79 L250.48 130.2 L251.31 128.58 L252.15 126.91 L252.98 125.21 L253.81 123.47 L254.64 121.71 L255.47 119.91 L256.3 118.09 L257.14 116.25 L257.97 114.38 L258.8 112.5 L259.63 110.59 L260.46 108.66 L261.29 106.71 L262.12 104.75 L262.96 102.77 L263.79 100.78 L264.62 98.77 L265.45 96.75 L266.28 94.72 L267.11 92.68 L267.94 90.62 L268.78 88.56 L269.61 86.48 L270.44 84.4 L271.27 82.31 L272.1 80.22 L272.93 78.12 L273.77 76.01 L274.6 73.9 L275.43 71.79 L276.26 69.67 L277.09 67.56 L277.92 65.44 L278.75 63.32 L279.59 61.21 L280.42 59.1 L281.25 56.99 L282.08 54.89 L282.91 52.8 L283.74 50.71 L284.57 48.64 L285.41 46.58 L286.24 44.54 L287.07 42.52 L287.9 40.52 L288.73 38.56 L289.56 36.63 L290.4 34.76 L291.23 32.97 L292.06 31.37 L292.89 30.45 L293.72 30.3 L294.55 30.3 L295.38 30.3 L296.22 30.3 L297.05 30.3 L297.88 30.3 L298.71 30.3 L299.54 30.3 L300.37 30.3 L301.21 30.3 L302.04 30.3 L302.87 30.3 L303.7 30.3 L304.53 30.3 L305.36 30.3 L306.19 30.3 L307.03 30.3 L307.86 30.3 L308.69 30.3 L309.52 30.3 L310.35 30.3 L311.18 30.3 L312.01 30.3 L312.85 30.3 L313.68 30.3 L314.51 30.3 L315.34 30.3 L316.17 30.3 L317 30.3 L317.84 30.3 L318.67 30.3 L319.5 30.3 L320.33 30.3 L321.16 30.3 L321.99 30.3 L322.82 30.3 L323.66 30.3 L324.49 30.3 L325.32 30.3 L326.15 30.3 L326.98 30.3 L327.81 30.3 L328.64 30.3 L329.48 30.3 L330.31 30.3 L331.14 30.3 L331.97 30.3 L332.8 30.3 L333.63 30.3 L334.47 30.3 L335.3 30.3 L336.13 30.3 L336.96 30.3 L337.79 30.3 L338.62 30.3 L339.45 30.3 L340.29 30.3 L341.12 30.3 L341.95 30.3 L342.78 30.3 L343.61 30.3 L344.44 30.3 L345.27 30.3 L346.11 30.3 L346.94 30.3 L347.77 30.3 L348.6 30.3 L349.43 30.3 L350.26 30.3 L351.1 30.3 L351.93 30.3 L352.76 30.3 L353.59 30.3 L354.42 30.3 L355.25 30.3 L356.08 30.3 L356.92 30.3 L357.75 30.3 L358.58 30.3 L359.41 30.3 L360.24 30.3 L361.07 30.3 L361.9 30.3 L362.74 30.3 L363.57 30.3 L364.4 30.3 L365.23 30.3 L366.06 30.3 L366.89 30.3 L367.73 30.3 L368.56 30.3 L369.39 30.3 L370.22 30.3 L371.05 30.3 L371.88 30.3 L372.71 30.3 L373.55 30.3 L374.38 30.3 L375.21 30.3 L376.04 30.3 L376.87 30.3 L377.7 30.3 L378.53 30.3 L379.37 30.3 L380.2 30.3 L381.03 30.3 L381.86 30.3 L382.69 30.3 L383.52 30.3 L384.36 30.3 L409.3 30.3" stroke="#2baecf" fill="none" stroke-width="1.3" stroke-linejoin="round"/>
<path d="M243 136.69 L243.83 135.51 L244.66 134.22 L245.49 132.81 L246.33 131.27 L247.16 129.6 L247.99 127.83 L248.82 125.98 L249.65 124.08 L250.48 122.15 L251.31 120.2 L252.15 118.24 L252.98 116.25 L253.81 114.23 L254.64 112.18 L255.47 110.09 L256.3 107.97 L257.14 105.8 L257.97 103.59 L258.8 101.34 L259.63 99.04 L260.46 96.68 L261.29 94.28 L262.12 91.82 L262.96 89.3 L263.79 86.72 L264.62 84.07 L265.45 81.35 L266.28 78.54 L267.11 75.64 L267.94 72.64 L268.78 69.48 L269.61 66.14 L270.44 62.63 L271.27 59.03 L272.1 55.46 L272.93 51.95 L273.77 48.53 L274.6 45.21 L275.43 42.03 L276.26 39.11 L277.09 36.61 L277.92 34.59 L278.75 33.01 L279.59 31.8 L280.42 30.96 L281.25 30.51 L282.08 30.34 L282.91 30.31 L283.74 30.3 L284.57 30.3 L285.41 30.3 L286.24 30.3 L287.07 30.3 L287.9 30.3 L288.73 30.3 L289.56 30.3 L290.4 30.3 L291.23 30.3 L292.06 30.3 L292.89 30.3 L293.72 30.3 L294.55 30.3 L295.38 30.3 L296.22 30.3 L297.05 30.3 L297.88 30.3 L298.71 30.3 L299.54 30.3 L300.37 30.3 L301.21 30.3 L302.04 30.3 L302.87 30.3 L303.7 30.3 L304.53 30.3 L305.36 30.3 L306.19 30.3 L307.03 30.3 L307.86 30.3 L308.69 30.3 L309.52 30.3 L310.35 30.3 L311.18 30.3 L312.01 30.3 L312.85 30.3 L313.68 30.3 L314.51 30.3 L315.34 30.3 L316.17 30.3 L317 30.3 L317.84 30.3 L318.67 30.3 L319.5 30.3 L320.33 30.3 L321.16 30.3 L321.99 30.3 L322.82 30.3 L323.66 30.3 L324.49 30.3 L325.32 30.3 L326.15 30.3 L326.98 30.3 L327.81 30.3 L328.64 30.3 L329.48 30.3 L330.31 30.3 L331.14 30.3 L331.97 30.3 L332.8 30.3 L333.63 30.3 L334.47 30.3 L335.3 30.3 L336.13 30.3 L336.96 30.3 L337.79 30.3 L338.62 30.3 L339.45 30.3 L340.29 30.3 L341.12 30.3 L341.95 30.3 L342.78 30.3 L343.61 30.3 L344.44 30.3 L345.27 30.3 L346.11 30.3 L346.94 30.3 L347.77 30.3 L348.6 30.3 L349.43 30.3 L350.26 30.3 L351.1 30.3 L351.93 30.3 L352.76 30.3 L353.59 30.3 L354.42 30.3 L355.25 30.3 L356.08 30.3 L356.92 30.3 L357.75 30.3 L358.58 30.3 L359.41 30.3 L360.24 30.3 L361.07 30.3 L361.9 30.3 L362.74 30.3 L363.57 30.3 L364.4 30.3 L365.23 30.3 L366.06 30.3 L366.89 30.3 L367.73 30.3 L368.56 30.3 L369.39 30.3 L370.22 30.3 L371.05 30.3 L371.88 30.3 L372.71 30.3 L373.55 30.3 L374.38 30.3 L375.21 30.3 L376.04 30.3 L376.87 30.3 L377.7 30.3 L378.53 30.3 L379.37 30.3 L380.2 30.3 L381.03 30.3 L381.86 30.3 L382.69 30.3 L383.52 30.3 L384.36 30.3 L409.3 30.3" stroke="#2fc4ce" fill="none" stroke-width="1.3" stroke-linejoin="round"/>
<path d="M243 130.25 L243.83 128.29 L244.66 126.25 L245.49 124.13 L246.33 121.92 L247.16 119.62 L247.99 117.25 L248.82 114.82 L249.65 112.32 L250.48 109.72 L251.31 107.02 L252.15 104.18 L252.98 101.18 L253.81 97.98 L254.64 94.53 L255.47 90.73 L256.3 86.56 L257.14 82.09 L257.97 77.46 L258.8 72.83 L259.63 68.27 L260.46 63.59 L261.29 58.21 L262.12 51.85 L262.96 45.5 L263.79 40.54 L264.62 37.2 L265.45 34.9 L266.28 33.16 L267.11 31.85 L267.94 30.96 L268.78 30.5 L269.61 30.34 L270.44 30.3 L271.27 30.3 L272.1 30.3 L272.93 30.3 L273.77 30.3 L274.6 30.3 L275.43 30.3 L276.26 30.3 L277.09 30.3 L277.92 30.3 L278.75 30.3 L279.59 30.3 L280.42 30.3 L281.25 30.3 L282.08 30.3 L282.91 30.3 L283.74 30.3 L284.57 30.3 L285.41 30.3 L286.24 30.3 L287.07 30.3 L287.9 30.3 L288.73 30.3 L289.56 30.3 L290.4 30.3 L291.23 30.3 L292.06 30.3 L292.89 30.3 L293.72 30.3 L294.55 30.3 L295.38 30.3 L296.22 30.3 L297.05 30.3 L297.88 30.3 L298.71 30.3 L299.54 30.3 L300.37 30.3 L301.21 30.3 L302.04 30.3 L302.87 30.3 L303.7 30.3 L304.53 30.3 L305.36 30.3 L306.19 30.3 L307.03 30.3 L307.86 30.3 L308.69 30.3 L309.52 30.3 L310.35 30.3 L311.18 30.3 L312.01 30.3 L312.85 30.3 L313.68 30.3 L314.51 30.3 L315.34 30.3 L316.17 30.3 L317 30.3 L317.84 30.3 L318.67 30.3 L319.5 30.3 L320.33 30.3 L321.16 30.3 L321.99 30.3 L322.82 30.3 L323.66 30.3 L324.49 30.3 L325.32 30.3 L326.15 30.3 L326.98 30.3 L327.81 30.3 L328.64 30.3 L329.48 30.3 L330.31 30.3 L331.14 30.3 L331.97 30.3 L332.8 30.3 L333.63 30.3 L334.47 30.3 L335.3 30.3 L336.13 30.3 L336.96 30.3 L337.79 30.3 L338.62 30.3 L339.45 30.3 L340.29 30.3 L341.12 30.3 L341.95 30.3 L342.78 30.3 L343.61 30.3 L344.44 30.3 L345.27 30.3 L346.11 30.3 L346.94 30.3 L347.77 30.3 L348.6 30.3 L349.43 30.3 L350.26 30.3 L351.1 30.3 L351.93 30.3 L352.76 30.3 L353.59 30.3 L354.42 30.3 L355.25 30.3 L356.08 30.3 L356.92 30.3 L357.75 30.3 L358.58 30.3 L359.41 30.3 L360.24 30.3 L361.07 30.3 L361.9 30.3 L362.74 30.3 L363.57 30.3 L364.4 30.3 L365.23 30.3 L366.06 30.3 L366.89 30.3 L367.73 30.3 L368.56 30.3 L369.39 30.3 L370.22 30.3 L371.05 30.3 L371.88 30.3 L372.71 30.3 L373.55 30.3 L374.38 30.3 L375.21 30.3 L376.04 30.3 L376.87 30.3 L377.7 30.3 L378.53 30.3 L379.37 30.3 L380.2 30.3 L381.03 30.3 L381.86 30.3 L382.69 30.3 L383.52 30.3 L384.36 30.3 L409.3 30.3" stroke="#32dace" fill="none" stroke-width="1.3" stroke-linejoin="round"/>
</g>
<line x1="243" y1="159.3" x2="243" y2="157.7" stroke="#262626" stroke-opacity="0.6" stroke-width="0.8"/>
<line x1="243" y1="30.3" x2="243" y2="31.9" stroke="#262626" stroke-opacity="0.6" stroke-width="0.8"/>
<text x="243" y="166.6" font-size="5.9" text-anchor="middle" fill="#1a1a1a" stroke="#1a1a1a" stroke-width="0.17">0</text>
<line x1="276.26" y1="159.3" x2="276.26" y2="157.7" stroke="#262626" stroke-opacity="0.6" stroke-width="0.8"/>
<line x1="276.26" y1="30.3" x2="276.26" y2="31.9" stroke="#262626" stroke-opacity="0.6" stroke-width="0.8"/>
<text x="276.26" y="166.6" font-size="5.9" text-anchor="middle" fill="#1a1a1a" stroke="#1a1a1a" stroke-width="0.17">0.2</text>
<line x1="309.52" y1="159.3" x2="309.52" y2="157.7" stroke="#262626" stroke-opacity="0.6" stroke-width="0.8"/>
<line x1="309.52" y1="30.3" x2="309.52" y2="31.9" stroke="#262626" stroke-opacity="0.6" stroke-width="0.8"/>
<text x="309.52" y="166.6" font-size="5.9" text-anchor="middle" fill="#1a1a1a" stroke="#1a1a1a" stroke-width="0.17">0.4</text>
<line x1="342.78" y1="159.3" x2="342.78" y2="157.7" stroke="#262626" stroke-opacity="0.6" stroke-width="0.8"/>
<line x1="342.78" y1="30.3" x2="342.78" y2="31.9" stroke="#262626" stroke-opacity="0.6" stroke-width="0.8"/>
<text x="342.78" y="166.6" font-size="5.9" text-anchor="middle" fill="#1a1a1a" stroke="#1a1a1a" stroke-width="0.17">0.6</text>
<line x1="376.04" y1="159.3" x2="376.04" y2="157.7" stroke="#262626" stroke-opacity="0.6" stroke-width="0.8"/>
<line x1="376.04" y1="30.3" x2="376.04" y2="31.9" stroke="#262626" stroke-opacity="0.6" stroke-width="0.8"/>
<text x="376.04" y="166.6" font-size="5.9" text-anchor="middle" fill="#1a1a1a" stroke="#1a1a1a" stroke-width="0.17">0.8</text>
<line x1="409.3" y1="159.3" x2="409.3" y2="157.7" stroke="#262626" stroke-opacity="0.6" stroke-width="0.8"/>
<line x1="409.3" y1="30.3" x2="409.3" y2="31.9" stroke="#262626" stroke-opacity="0.6" stroke-width="0.8"/>
<text x="409.3" y="166.6" font-size="5.9" text-anchor="middle" fill="#1a1a1a" stroke="#1a1a1a" stroke-width="0.17">1</text>
<line x1="243" y1="159.3" x2="244.6" y2="159.3" stroke="#262626" stroke-opacity="0.6" stroke-width="0.8"/>
<line x1="409.3" y1="159.3" x2="407.7" y2="159.3" stroke="#262626" stroke-opacity="0.6" stroke-width="0.8"/>
<text x="240" y="161.37" font-size="5.9" text-anchor="end" fill="#1a1a1a" stroke="#1a1a1a" stroke-width="0.17">0</text>
<line x1="243" y1="133.5" x2="244.6" y2="133.5" stroke="#262626" stroke-opacity="0.6" stroke-width="0.8"/>
<line x1="409.3" y1="133.5" x2="407.7" y2="133.5" stroke="#262626" stroke-opacity="0.6" stroke-width="0.8"/>
<text x="240" y="135.56" font-size="5.9" text-anchor="end" fill="#1a1a1a" stroke="#1a1a1a" stroke-width="0.17">0.2</text>
<line x1="243" y1="107.7" x2="244.6" y2="107.7" stroke="#262626" stroke-opacity="0.6" stroke-width="0.8"/>
<line x1="409.3" y1="107.7" x2="407.7" y2="107.7" stroke="#262626" stroke-opacity="0.6" stroke-width="0.8"/>
<text x="240" y="109.77" font-size="5.9" text-anchor="end" fill="#1a1a1a" stroke="#1a1a1a" stroke-width="0.17">0.4</text>
<line x1="243" y1="81.9" x2="244.6" y2="81.9" stroke="#262626" stroke-opacity="0.6" stroke-width="0.8"/>
<line x1="409.3" y1="81.9" x2="407.7" y2="81.9" stroke="#262626" stroke-opacity="0.6" stroke-width="0.8"/>
<text x="240" y="83.97" font-size="5.9" text-anchor="end" fill="#1a1a1a" stroke="#1a1a1a" stroke-width="0.17">0.6</text>
<line x1="243" y1="56.1" x2="244.6" y2="56.1" stroke="#262626" stroke-opacity="0.6" stroke-width="0.8"/>
<line x1="409.3" y1="56.1" x2="407.7" y2="56.1" stroke="#262626" stroke-opacity="0.6" stroke-width="0.8"/>
<text x="240" y="58.17" font-size="5.9" text-anchor="end" fill="#1a1a1a" stroke="#1a1a1a" stroke-width="0.17">0.8</text>
<line x1="243" y1="30.3" x2="244.6" y2="30.3" stroke="#262626" stroke-opacity="0.6" stroke-width="0.8"/>
<line x1="409.3" y1="30.3" x2="407.7" y2="30.3" stroke="#262626" stroke-opacity="0.6" stroke-width="0.8"/>
<text x="240" y="32.37" font-size="5.9" text-anchor="end" fill="#1a1a1a" stroke="#1a1a1a" stroke-width="0.17">1</text>
<rect x="361.6" y="34.2" width="43.3" height="76.3" fill="#fff" stroke="#262626" stroke-opacity="0.6" stroke-width="0.9"/>
<line x1="363.3" y1="39.4" x2="379" y2="39.4" stroke="#1414d2" stroke-width="1.3"/>
<text x="380.3" y="41.52" font-size="5.9" text-anchor="start" fill="#222" stroke="#222" stroke-width="0.17">&#934; = 1.00</text>
<line x1="363.3" y1="46.82" x2="379" y2="46.82" stroke="#172ad2" stroke-width="1.3"/>
<text x="380.3" y="48.94" font-size="5.9" text-anchor="start" fill="#222" stroke="#222" stroke-width="0.17">&#934; = 0.90</text>
<line x1="363.3" y1="54.24" x2="379" y2="54.24" stroke="#1b40d1" stroke-width="1.3"/>
<text x="380.3" y="56.36" font-size="5.9" text-anchor="start" fill="#222" stroke="#222" stroke-width="0.17">&#934; = 0.80</text>
<line x1="363.3" y1="61.66" x2="379" y2="61.66" stroke="#1e56d1" stroke-width="1.3"/>
<text x="380.3" y="63.78" font-size="5.9" text-anchor="start" fill="#222" stroke="#222" stroke-width="0.17">&#934; = 0.70</text>
<line x1="363.3" y1="69.08" x2="379" y2="69.08" stroke="#216cd0" stroke-width="1.3"/>
<text x="380.3" y="71.2" font-size="5.9" text-anchor="start" fill="#222" stroke="#222" stroke-width="0.17">&#934; = 0.60</text>
<line x1="363.3" y1="76.5" x2="379" y2="76.5" stroke="#2582d0" stroke-width="1.3"/>
<text x="380.3" y="78.62" font-size="5.9" text-anchor="start" fill="#222" stroke="#222" stroke-width="0.17">&#934; = 0.50</text>
<line x1="363.3" y1="83.92" x2="379" y2="83.92" stroke="#2898cf" stroke-width="1.3"/>
<text x="380.3" y="86.04" font-size="5.9" text-anchor="start" fill="#222" stroke="#222" stroke-width="0.17">&#934; = 0.40</text>
<line x1="363.3" y1="91.34" x2="379" y2="91.34" stroke="#2baecf" stroke-width="1.3"/>
<text x="380.3" y="93.46" font-size="5.9" text-anchor="start" fill="#222" stroke="#222" stroke-width="0.17">&#934; = 0.30</text>
<line x1="363.3" y1="98.76" x2="379" y2="98.76" stroke="#2fc4ce" stroke-width="1.3"/>
<text x="380.3" y="100.88" font-size="5.9" text-anchor="start" fill="#222" stroke="#222" stroke-width="0.17">&#934; = 0.20</text>
<line x1="363.3" y1="106.18" x2="379" y2="106.18" stroke="#32dace" stroke-width="1.3"/>
<text x="380.3" y="108.3" font-size="5.9" text-anchor="start" fill="#222" stroke="#222" stroke-width="0.17">&#934; = 0.10</text>
<text x="228.8" y="94.8" font-size="5.9" text-anchor="middle" fill="#1a1a1a" transform="rotate(-90 228.8 94.8)" stroke="#1a1a1a" stroke-width="0.17">Release Threshold</text>
<text x="325.75" y="174.9" font-size="5.9" text-anchor="middle" fill="#1a1a1a" textLength="71" lengthAdjust="spacingAndGlyphs" stroke="#1a1a1a" stroke-width="0.21">Fitness Cost (1-<tspan font-style="italic">r</tspan><tspan font-size="5.02" dy="2.48">A</tspan><tspan dy="-2.48"> = 1-<tspan font-style="italic">r</tspan></tspan><tspan font-size="5.02" dy="2.48">B</tspan><tspan dy="-2.48">)</tspan></text>
<text x="-0.5" y="199" font-size="13.8" text-anchor="start" fill="#111">(c)</text>
<g transform="matrix(0.15040 0 0 0.12930 25.2 199.3)">
<rect x="0" y="0" width="1000" height="1000" fill="#ffffff"/>
<path d="M0 1000 L0 975 L0 950 L0 925 L0 900 L0 875 L0 850 L0 825 L0 800 L0 775 L0 750 L0 725 L0 700 L0 675 L0 650 L0 625 L1.3 600 L7 575 L11 550 L15 525 L19 500 L22.75 475 L26.5 450 L30.25 425 L34 400 L37 375 L40 350 L43 325 L46 300 L48.75 275 L51.5 250 L54.25 225 L57 200 L59.5 175 L62 150 L64.5 125 L67 100 L69.25 75 L71.5 50 L73.75 25 L76 0 L1000 0 L1000 1000Z" fill="#e6f0f8"/>
<path d="M0 1000 L0 975 L0 950 L0 925 L0 900 L0 875 L0 850 L9.75 825 L13 800 L19.25 775 L25.5 750 L31.75 725 L38 700 L43.5 675 L49 650 L54.5 625 L60 600 L63.5 575 L67 550 L70.5 525 L74 500 L77 475 L80 450 L83 425 L86 400 L89 375 L92 350 L95 325 L98 300 L100.5 275 L103 250 L105.5 225 L108 200 L110.5 175 L113 150 L115.5 125 L118 100 L120.25 75 L122.5 50 L124.75 25 L127 0 L1000 0 L1000 1000Z" fill="#cce2f1"/>
<path d="M12 1000 L14.75 975 L17.5 950 L20.25 925 L23 900 L29.5 875 L36 850 L42.5 825 L49 800 L54.25 775 L59.5 750 L64.75 725 L70 700 L75.5 675 L81 650 L86.5 625 L92 600 L97.25 575 L102.5 550 L107.75 525 L113 500 L117.25 475 L121.5 450 L125.75 425 L130 400 L134 375 L138 350 L142 325 L146 300 L149.5 275 L153 250 L156.5 225 L160 200 L163.25 175 L166.5 150 L169.75 125 L173 100 L175.25 75 L177.5 50 L179.75 25 L182 0 L1000 0 L1000 1000Z" fill="#b2d3ea"/>
<path d="M23.94 1000 L30.31 975 L36.59 950 L42.8 925 L48.93 900 L56.98 875 L65 850 L72.52 825 L80.69 800 L86.79 775 L92.87 750 L98.93 725 L104.95 700 L110.75 675 L116.55 650 L122.35 625 L128.16 600 L133.73 575 L139.29 550 L144.82 525 L150.35 500 L155.07 475 L159.79 450 L164.51 425 L169.22 400 L173.54 375 L177.86 350 L182.18 325 L186.49 300 L190.14 275 L193.78 250 L197.43 225 L201.07 200 L204.63 175 L208.19 150 L211.75 125 L215.31 100 L218.07 75 L220.83 50 L223.59 25 L226.35 0 L1000 0 L1000 1000Z" fill="#99c4e3"/>
<path d="M33 1000 L42.25 975 L51.5 950 L60.75 925 L70 900 L79.75 875 L89.5 850 L99.25 825 L109 800 L116.75 775 L124.5 750 L132.25 725 L140 700 L146.5 675 L153 650 L159.5 625 L166 600 L171.5 575 L177 550 L182.5 525 L188 500 L193 475 L198 450 L203 425 L208 400 L212.5 375 L217 350 L221.5 325 L226 300 L229.75 275 L233.5 250 L237.25 225 L241 200 L244.75 175 L248.5 150 L252.25 125 L256 100 L259.25 75 L262.5 50 L265.75 25 L269 0 L1000 0 L1000 1000Z" fill="#80b6dc"/>
<path d="M41.64 1000 L52.58 975 L63.5 950 L74.42 925 L85.33 900 L97.52 875 L109.71 850 L121.91 825 L134.11 800 L143.92 775 L153.73 750 L163.54 725 L173.33 700 L180.81 675 L188.31 650 L195.83 625 L203.37 600 L209.28 575 L215.2 550 L221.14 525 L227.1 500 L232.36 475 L237.63 450 L242.92 425 L248.22 400 L253.06 375 L257.91 350 L262.75 325 L267.6 300 L272.1 275 L276.6 250 L281.11 225 L285.62 200 L289.48 175 L293.34 150 L297.2 125 L301.06 100 L304.39 75 L307.71 50 L311.04 25 L314.36 0 L1000 0 L1000 1000Z" fill="#66a7d4"/>
<path d="M50 1000 L62.25 975 L74.5 950 L86.75 925 L99 900 L113.25 875 L127.5 850 L141.75 825 L156 800 L168 775 L180 750 L192 725 L204 700 L213.25 675 L222.5 650 L231.75 625 L241 600 L248 575 L255 550 L262 525 L269 500 L275 475 L281 450 L287 425 L293 400 L298.25 375 L303.5 350 L308.75 325 L314 300 L319.25 275 L324.5 250 L329.75 225 L335 200 L339 175 L343 150 L347 125 L351 100 L354.25 75 L357.5 50 L360.75 25 L364 0 L1000 0 L1000 1000Z" fill="#4d98cd"/>
<path d="M59 1000 L72.5 975 L86 950 L99.5 925 L113 900 L128.25 875 L143.5 850 L158.75 825 L174 800 L188 775 L202 750 L216 725 L230 700 L242.25 675 L254.5 650 L266.75 625 L279 600 L288.75 575 L298.5 550 L308.25 525 L318 500 L326.75 475 L335.5 450 L344.25 425 L353 400 L358.75 375 L364.5 350 L370.25 325 L376 300 L380.75 275 L385.5 250 L390.25 225 L395 200 L399.5 175 L404 150 L408.5 125 L413 100 L416.25 75 L419.5 50 L422.75 25 L426 0 L1000 0 L1000 1000Z" fill="#3389c6"/>
<path d="M68 1000 L81 975 L94 950 L107 925 L120 900 L138.25 875 L156.5 850 L174.75 825 L193 800 L210.5 775 L228 750 L245.5 725 L263 700 L278.5 675 L294 650 L309.5 625 L325 600 L336.5 575 L348 550 L359.5 525 L371 500 L379.75 475 L388.5 450 L397.25 425 L406 400 L414.25 375 L422.5 350 L430.75 325 L439 300 L445.75 275 L452.5 250 L459.25 225 L466 200 L472 175 L478 150 L484 125 L490 100 L495.25 75 L500.5 50 L505.75 25 L511 0 L1000 0 L1000 1000Z" fill="#197bbf"/>
<path d="M83 1000 L98.5 975 L114 950 L129.5 925 L145 900 L163.75 875 L182.5 850 L201.25 825 L220 800 L241.25 775 L262.5 750 L283.75 725 L305 700 L325.75 675 L346.5 650 L367.25 625 L388 600 L407.75 575 L427.5 550 L447.25 525 L467 500 L485.25 475 L503.5 450 L521.75 425 L540 400 L554.5 375 L569 350 L583.5 325 L598 300 L609.75 275 L621.5 250 L633.25 225 L645 200 L655 175 L665 150 L675 125 L685 100 L694 75 L703 50 L712 25 L721 0 L1000 0 L1000 1000Z" fill="#fb6a2a"/>
</g>
<defs><mask id="cmask" maskUnits="userSpaceOnUse" x="0" y="180" width="200" height="170"><rect x="0" y="180" width="200" height="170" fill="#fff"/><rect x="31.41" y="214.51" width="6.84" height="3.2" fill="#000" transform="rotate(-83.37 34.83 216.11)"/><rect x="38.48" y="219.68" width="6.84" height="3.2" fill="#000" transform="rotate(-83.37 41.89 221.28)"/><rect x="48.07" y="208.04" width="6.84" height="3.2" fill="#000" transform="rotate(-84.02 51.49 209.64)"/><rect x="54.5" y="208.04" width="6.84" height="3.2" fill="#000" transform="rotate(-82.68 57.91 209.64)"/><rect x="60.67" y="208.04" width="6.84" height="3.2" fill="#000" transform="rotate(-81.4 64.09 209.64)"/><rect x="67.26" y="209.34" width="6.84" height="3.2" fill="#000" transform="rotate(-80.86 70.68 210.94)"/><rect x="74.57" y="210.63" width="6.84" height="3.2" fill="#000" transform="rotate(-80.43 77.99 212.23)"/><rect x="83.63" y="211.92" width="6.84" height="3.2" fill="#000" transform="rotate(-78.97 87.04 213.52)"/><rect x="94.76" y="213.22" width="6.84" height="3.2" fill="#000" transform="rotate(-74.4 98.17 214.82)"/><rect x="122.43" y="213.22" width="9.17" height="3.2" fill="#000" transform="rotate(-65.05 127.02 214.82)"/><rect x="25.09" y="259.76" width="6.84" height="3.2" fill="#000" transform="rotate(-80.1 28.51 261.36)"/><rect x="32.28" y="266.23" width="6.84" height="3.2" fill="#000" transform="rotate(-80.75 35.7 267.83)"/><rect x="39.29" y="259.76" width="6.84" height="3.2" fill="#000" transform="rotate(-78.81 42.71 261.36)"/><rect x="44.96" y="259.76" width="6.84" height="3.2" fill="#000" transform="rotate(-77.61 48.38 261.36)"/><rect x="50.66" y="259.76" width="6.84" height="3.2" fill="#000" transform="rotate(-76.9 54.08 261.36)"/><rect x="56.57" y="259.76" width="6.84" height="3.2" fill="#000" transform="rotate(-76.23 59.99 261.36)"/><rect x="62.96" y="259.76" width="6.84" height="3.2" fill="#000" transform="rotate(-74.4 66.38 261.36)"/><rect x="71.71" y="257.18" width="6.84" height="3.2" fill="#000" transform="rotate(-67.85 75.13 258.78)"/><rect x="80.21" y="255.89" width="6.84" height="3.2" fill="#000" transform="rotate(-67.85 83.63 257.49)"/><rect x="97.44" y="254.59" width="9.17" height="3.2" fill="#000" transform="rotate(-49.66 102.02 256.19)"/><rect x="26.02" y="311.48" width="6.84" height="3.2" fill="#000" transform="rotate(-73.17 29.44 313.08)"/><rect x="30.11" y="311.48" width="6.84" height="3.2" fill="#000" transform="rotate(-69.49 33.53 313.08)"/><rect x="33.48" y="311.48" width="6.84" height="3.2" fill="#000" transform="rotate(-65.6 36.9 313.08)"/><rect x="36.08" y="311.48" width="6.84" height="3.2" fill="#000" transform="rotate(-60.44 39.5 313.08)"/><rect x="38.39" y="311.48" width="6.84" height="3.2" fill="#000" transform="rotate(-56.45 41.8 313.08)"/><rect x="41.53" y="310.19" width="6.84" height="3.2" fill="#000" transform="rotate(-54.64 44.95 311.79)"/><rect x="56.07" y="294.68" width="6.84" height="3.2" fill="#000" transform="rotate(-50.85 59.49 296.28)"/><rect x="63.93" y="290.8" width="9.17" height="3.2" fill="#000" transform="rotate(-45.33 68.52 292.4)"/></mask></defs>
<g mask="url(#cmask)"><g transform="matrix(0.15040 0 0 0.12930 25.2 199.3)">
<path d="M0 625 L1.3 600 L7 575 L11 550 L15 525 L19 500 L22.75 475 L26.5 450 L30.25 425 L34 400 L37 375 L40 350 L43 325 L46 300 L48.75 275 L51.5 250 L54.25 225 L57 200 L59.5 175 L62 150 L64.5 125 L67 100 L69.25 75 L71.5 50 L73.75 25 L76 0" fill="none" stroke="#000" stroke-width="0.55" vector-effect="non-scaling-stroke"/>
<path d="M0 850 L9.75 825 L13 800 L19.25 775 L25.5 750 L31.75 725 L38 700 L43.5 675 L49 650 L54.5 625 L60 600 L63.5 575 L67 550 L70.5 525 L74 500 L77 475 L80 450 L83 425 L86 400 L89 375 L92 350 L95 325 L98 300 L100.5 275 L103 250 L105.5 225 L108 200 L110.5 175 L113 150 L115.5 125 L118 100 L120.25 75 L122.5 50 L124.75 25 L127 0" fill="none" stroke="#000" stroke-width="0.55" vector-effect="non-scaling-stroke"/>
<path d="M12 1000 L14.75 975 L17.5 950 L20.25 925 L23 900 L29.5 875 L36 850 L42.5 825 L49 800 L54.25 775 L59.5 750 L64.75 725 L70 700 L75.5 675 L81 650 L86.5 625 L92 600 L97.25 575 L102.5 550 L107.75 525 L113 500 L117.25 475 L121.5 450 L125.75 425 L130 400 L134 375 L138 350 L142 325 L146 300 L149.5 275 L153 250 L156.5 225 L160 200 L163.25 175 L166.5 150 L169.75 125 L173 100 L175.25 75 L177.5 50 L179.75 25 L182 0" fill="none" stroke="#000" stroke-width="0.55" vector-effect="non-scaling-stroke"/>
<path d="M23.94 1000 L30.31 975 L36.59 950 L42.8 925 L48.93 900 L56.98 875 L65 850 L72.52 825 L80.69 800 L86.79 775 L92.87 750 L98.93 725 L104.95 700 L110.75 675 L116.55 650 L122.35 625 L128.16 600 L133.73 575 L139.29 550 L144.82 525 L150.35 500 L155.07 475 L159.79 450 L164.51 425 L169.22 400 L173.54 375 L177.86 350 L182.18 325 L186.49 300 L190.14 275 L193.78 250 L197.43 225 L201.07 200 L204.63 175 L208.19 150 L211.75 125 L215.31 100 L218.07 75 L220.83 50 L223.59 25 L226.35 0" fill="none" stroke="#000" stroke-width="0.55" vector-effect="non-scaling-stroke"/>
<path d="M33 1000 L42.25 975 L51.5 950 L60.75 925 L70 900 L79.75 875 L89.5 850 L99.25 825 L109 800 L116.75 775 L124.5 750 L132.25 725 L140 700 L146.5 675 L153 650 L159.5 625 L166 600 L171.5 575 L177 550 L182.5 525 L188 500 L193 475 L198 450 L203 425 L208 400 L212.5 375 L217 350 L221.5 325 L226 300 L229.75 275 L233.5 250 L237.25 225 L241 200 L244.75 175 L248.5 150 L252.25 125 L256 100 L259.25 75 L262.5 50 L265.75 25 L269 0" fill="none" stroke="#000" stroke-width="0.55" vector-effect="non-scaling-stroke"/>
<path d="M41.64 1000 L52.58 975 L63.5 950 L74.42 925 L85.33 900 L97.52 875 L109.71 850 L121.91 825 L134.11 800 L143.92 775 L153.73 750 L163.54 725 L173.33 700 L180.81 675 L188.31 650 L195.83 625 L203.37 600 L209.28 575 L215.2 550 L221.14 525 L227.1 500 L232.36 475 L237.63 450 L242.92 425 L248.22 400 L253.06 375 L257.91 350 L262.75 325 L267.6 300 L272.1 275 L276.6 250 L281.11 225 L285.62 200 L289.48 175 L293.34 150 L297.2 125 L301.06 100 L304.39 75 L307.71 50 L311.04 25 L314.36 0" fill="none" stroke="#000" stroke-width="0.55" vector-effect="non-scaling-stroke"/>
<path d="M50 1000 L62.25 975 L74.5 950 L86.75 925 L99 900 L113.25 875 L127.5 850 L141.75 825 L156 800 L168 775 L180 750 L192 725 L204 700 L213.25 675 L222.5 650 L231.75 625 L241 600 L248 575 L255 550 L262 525 L269 500 L275 475 L281 450 L287 425 L293 400 L298.25 375 L303.5 350 L308.75 325 L314 300 L319.25 275 L324.5 250 L329.75 225 L335 200 L339 175 L343 150 L347 125 L351 100 L354.25 75 L357.5 50 L360.75 25 L364 0" fill="none" stroke="#000" stroke-width="0.55" vector-effect="non-scaling-stroke"/>
<path d="M59 1000 L72.5 975 L86 950 L99.5 925 L113 900 L128.25 875 L143.5 850 L158.75 825 L174 800 L188 775 L202 750 L216 725 L230 700 L242.25 675 L254.5 650 L266.75 625 L279 600 L288.75 575 L298.5 550 L308.25 525 L318 500 L326.75 475 L335.5 450 L344.25 425 L353 400 L358.75 375 L364.5 350 L370.25 325 L376 300 L380.75 275 L385.5 250 L390.25 225 L395 200 L399.5 175 L404 150 L408.5 125 L413 100 L416.25 75 L419.5 50 L422.75 25 L426 0" fill="none" stroke="#000" stroke-width="0.55" vector-effect="non-scaling-stroke"/>
<path d="M68 1000 L81 975 L94 950 L107 925 L120 900 L138.25 875 L156.5 850 L174.75 825 L193 800 L210.5 775 L228 750 L245.5 725 L263 700 L278.5 675 L294 650 L309.5 625 L325 600 L336.5 575 L348 550 L359.5 525 L371 500 L379.75 475 L388.5 450 L397.25 425 L406 400 L414.25 375 L422.5 350 L430.75 325 L439 300 L445.75 275 L452.5 250 L459.25 225 L466 200 L472 175 L478 150 L484 125 L490 100 L495.25 75 L500.5 50 L505.75 25 L511 0" fill="none" stroke="#000" stroke-width="0.55" vector-effect="non-scaling-stroke"/>
<path d="M83 1000 L98.5 975 L114 950 L129.5 925 L145 900 L163.75 875 L182.5 850 L201.25 825 L220 800 L241.25 775 L262.5 750 L283.75 725 L305 700 L325.75 675 L346.5 650 L367.25 625 L388 600 L407.75 575 L427.5 550 L447.25 525 L467 500 L485.25 475 L503.5 450 L521.75 425 L540 400 L554.5 375 L569 350 L583.5 325 L598 300 L609.75 275 L621.5 250 L633.25 225 L645 200 L655 175 L665 150 L675 125 L685 100 L694 75 L703 50 L712 25 L721 0" fill="none" stroke="#000" stroke-width="0.55" vector-effect="non-scaling-stroke"/>
</g></g>
<text x="34.83" y="217.62" font-size="4.2" text-anchor="middle" fill="#1a1a1a" transform="rotate(-83.37 34.83 216.11)">0.1</text>
<text x="41.89" y="222.79" font-size="4.2" text-anchor="middle" fill="#1a1a1a" transform="rotate(-83.37 41.89 221.28)">0.2</text>
<text x="51.49" y="211.16" font-size="4.2" text-anchor="middle" fill="#1a1a1a" transform="rotate(-84.02 51.49 209.64)">0.3</text>
<text x="57.91" y="211.16" font-size="4.2" text-anchor="middle" fill="#1a1a1a" transform="rotate(-82.68 57.91 209.64)">0.4</text>
<text x="64.09" y="211.16" font-size="4.2" text-anchor="middle" fill="#1a1a1a" transform="rotate(-81.4 64.09 209.64)">0.5</text>
<text x="70.68" y="212.45" font-size="4.2" text-anchor="middle" fill="#1a1a1a" transform="rotate(-80.86 70.68 210.94)">0.6</text>
<text x="77.99" y="213.74" font-size="4.2" text-anchor="middle" fill="#1a1a1a" transform="rotate(-80.43 77.99 212.23)">0.7</text>
<text x="87.04" y="215.04" font-size="4.2" text-anchor="middle" fill="#1a1a1a" transform="rotate(-78.97 87.04 213.52)">0.8</text>
<text x="98.17" y="216.33" font-size="4.2" text-anchor="middle" fill="#1a1a1a" transform="rotate(-74.4 98.17 214.82)">0.9</text>
<text x="127.02" y="216.33" font-size="4.2" text-anchor="middle" fill="#1a1a1a" transform="rotate(-65.05 127.02 214.82)">0.99</text>
<text x="28.51" y="262.88" font-size="4.2" text-anchor="middle" fill="#1a1a1a" transform="rotate(-80.1 28.51 261.36)">0.1</text>
<text x="35.7" y="269.34" font-size="4.2" text-anchor="middle" fill="#1a1a1a" transform="rotate(-80.75 35.7 267.83)">0.2</text>
<text x="42.71" y="262.88" font-size="4.2" text-anchor="middle" fill="#1a1a1a" transform="rotate(-78.81 42.71 261.36)">0.3</text>
<text x="48.38" y="262.88" font-size="4.2" text-anchor="middle" fill="#1a1a1a" transform="rotate(-77.61 48.38 261.36)">0.4</text>
<text x="54.08" y="262.88" font-size="4.2" text-anchor="middle" fill="#1a1a1a" transform="rotate(-76.9 54.08 261.36)">0.5</text>
<text x="59.99" y="262.88" font-size="4.2" text-anchor="middle" fill="#1a1a1a" transform="rotate(-76.23 59.99 261.36)">0.6</text>
<text x="66.38" y="262.88" font-size="4.2" text-anchor="middle" fill="#1a1a1a" transform="rotate(-74.4 66.38 261.36)">0.7</text>
<text x="75.13" y="260.29" font-size="4.2" text-anchor="middle" fill="#1a1a1a" transform="rotate(-67.85 75.13 258.78)">0.8</text>
<text x="83.63" y="259" font-size="4.2" text-anchor="middle" fill="#1a1a1a" transform="rotate(-67.85 83.63 257.49)">0.9</text>
<text x="102.02" y="257.7" font-size="4.2" text-anchor="middle" fill="#1a1a1a" transform="rotate(-49.66 102.02 256.19)">0.99</text>
<text x="29.44" y="314.6" font-size="4.2" text-anchor="middle" fill="#1a1a1a" transform="rotate(-73.17 29.44 313.08)">0.3</text>
<text x="33.53" y="314.6" font-size="4.2" text-anchor="middle" fill="#1a1a1a" transform="rotate(-69.49 33.53 313.08)">0.4</text>
<text x="36.9" y="314.6" font-size="4.2" text-anchor="middle" fill="#1a1a1a" transform="rotate(-65.6 36.9 313.08)">0.5</text>
<text x="39.5" y="314.6" font-size="4.2" text-anchor="middle" fill="#1a1a1a" transform="rotate(-60.44 39.5 313.08)">0.6</text>
<text x="41.8" y="314.6" font-size="4.2" text-anchor="middle" fill="#1a1a1a" transform="rotate(-56.45 41.8 313.08)">0.7</text>
<text x="44.95" y="313.3" font-size="4.2" text-anchor="middle" fill="#1a1a1a" transform="rotate(-54.64 44.95 311.79)">0.8</text>
<text x="59.49" y="297.79" font-size="4.2" text-anchor="middle" fill="#1a1a1a" transform="rotate(-50.85 59.49 296.28)">0.9</text>
<text x="68.52" y="293.91" font-size="4.2" text-anchor="middle" fill="#1a1a1a" transform="rotate(-45.33 68.52 292.4)">0.99</text>
<rect x="25.2" y="199.3" width="150.4" height="129.3" fill="none" stroke="#262626" stroke-opacity="0.42" stroke-width="1"/>
<line x1="25.2" y1="328.6" x2="25.2" y2="327.1" stroke="#262626" stroke-opacity="0.42" stroke-width="0.8"/>
<line x1="25.2" y1="199.3" x2="25.2" y2="200.8" stroke="#262626" stroke-opacity="0.42" stroke-width="0.8"/>
<text x="25.2" y="337" font-size="6" text-anchor="middle" fill="#1a1a1a" stroke="#1a1a1a" stroke-width="0.17">0</text>
<line x1="55.28" y1="328.6" x2="55.28" y2="327.1" stroke="#262626" stroke-opacity="0.42" stroke-width="0.8"/>
<line x1="55.28" y1="199.3" x2="55.28" y2="200.8" stroke="#262626" stroke-opacity="0.42" stroke-width="0.8"/>
<text x="55.28" y="337" font-size="6" text-anchor="middle" fill="#1a1a1a" stroke="#1a1a1a" stroke-width="0.17">0.2</text>
<line x1="85.36" y1="328.6" x2="85.36" y2="327.1" stroke="#262626" stroke-opacity="0.42" stroke-width="0.8"/>
<line x1="85.36" y1="199.3" x2="85.36" y2="200.8" stroke="#262626" stroke-opacity="0.42" stroke-width="0.8"/>
<text x="85.36" y="337" font-size="6" text-anchor="middle" fill="#1a1a1a" stroke="#1a1a1a" stroke-width="0.17">0.4</text>
<line x1="115.44" y1="328.6" x2="115.44" y2="327.1" stroke="#262626" stroke-opacity="0.42" stroke-width="0.8"/>
<line x1="115.44" y1="199.3" x2="115.44" y2="200.8" stroke="#262626" stroke-opacity="0.42" stroke-width="0.8"/>
<text x="115.44" y="337" font-size="6" text-anchor="middle" fill="#1a1a1a" stroke="#1a1a1a" stroke-width="0.17">0.6</text>
<line x1="145.52" y1="328.6" x2="145.52" y2="327.1" stroke="#262626" stroke-opacity="0.42" stroke-width="0.8"/>
<line x1="145.52" y1="199.3" x2="145.52" y2="200.8" stroke="#262626" stroke-opacity="0.42" stroke-width="0.8"/>
<text x="145.52" y="337" font-size="6" text-anchor="middle" fill="#1a1a1a" stroke="#1a1a1a" stroke-width="0.17">0.8</text>
<line x1="175.6" y1="328.6" x2="175.6" y2="327.1" stroke="#262626" stroke-opacity="0.42" stroke-width="0.8"/>
<line x1="175.6" y1="199.3" x2="175.6" y2="200.8" stroke="#262626" stroke-opacity="0.42" stroke-width="0.8"/>
<text x="175.6" y="337" font-size="6" text-anchor="middle" fill="#1a1a1a" stroke="#1a1a1a" stroke-width="0.17">1</text>
<line x1="25.2" y1="328.6" x2="26.7" y2="328.6" stroke="#262626" stroke-opacity="0.42" stroke-width="0.8"/>
<line x1="175.6" y1="328.6" x2="174.1" y2="328.6" stroke="#262626" stroke-opacity="0.42" stroke-width="0.8"/>
<text x="22.6" y="330.7" font-size="6" text-anchor="end" fill="#1a1a1a" stroke="#1a1a1a" stroke-width="0.17">0</text>
<line x1="25.2" y1="302.74" x2="26.7" y2="302.74" stroke="#262626" stroke-opacity="0.42" stroke-width="0.8"/>
<line x1="175.6" y1="302.74" x2="174.1" y2="302.74" stroke="#262626" stroke-opacity="0.42" stroke-width="0.8"/>
<text x="22.6" y="304.84" font-size="6" text-anchor="end" fill="#1a1a1a" stroke="#1a1a1a" stroke-width="0.17">0.2</text>
<line x1="25.2" y1="276.88" x2="26.7" y2="276.88" stroke="#262626" stroke-opacity="0.42" stroke-width="0.8"/>
<line x1="175.6" y1="276.88" x2="174.1" y2="276.88" stroke="#262626" stroke-opacity="0.42" stroke-width="0.8"/>
<text x="22.6" y="278.98" font-size="6" text-anchor="end" fill="#1a1a1a" stroke="#1a1a1a" stroke-width="0.17">0.4</text>
<line x1="25.2" y1="251.02" x2="26.7" y2="251.02" stroke="#262626" stroke-opacity="0.42" stroke-width="0.8"/>
<line x1="175.6" y1="251.02" x2="174.1" y2="251.02" stroke="#262626" stroke-opacity="0.42" stroke-width="0.8"/>
<text x="22.6" y="253.12" font-size="6" text-anchor="end" fill="#1a1a1a" stroke="#1a1a1a" stroke-width="0.17">0.6</text>
<line x1="25.2" y1="225.16" x2="26.7" y2="225.16" stroke="#262626" stroke-opacity="0.42" stroke-width="0.8"/>
<line x1="175.6" y1="225.16" x2="174.1" y2="225.16" stroke="#262626" stroke-opacity="0.42" stroke-width="0.8"/>
<text x="22.6" y="227.26" font-size="6" text-anchor="end" fill="#1a1a1a" stroke="#1a1a1a" stroke-width="0.17">0.8</text>
<line x1="25.2" y1="199.3" x2="26.7" y2="199.3" stroke="#262626" stroke-opacity="0.42" stroke-width="0.8"/>
<line x1="175.6" y1="199.3" x2="174.1" y2="199.3" stroke="#262626" stroke-opacity="0.42" stroke-width="0.8"/>
<text x="22.6" y="201.4" font-size="6" text-anchor="end" fill="#1a1a1a" stroke="#1a1a1a" stroke-width="0.17">1</text>
<text x="10.8" y="263.95" font-size="5.9" text-anchor="middle" fill="#1a1a1a" transform="rotate(-90 10.8 263.95)" stroke="#1a1a1a" stroke-width="0.17">Rate of Homing (&#934;)</text>
<text x="101.25" y="344.4" font-size="5.95" text-anchor="middle" fill="#1a1a1a" textLength="70.7" lengthAdjust="spacingAndGlyphs" stroke="#1a1a1a" stroke-width="0.21">Fitness Cost (1-<tspan font-style="italic">r</tspan><tspan font-size="5.06" dy="2.5">A</tspan><tspan dy="-2.5"> = 1-<tspan font-style="italic">r</tspan></tspan><tspan font-size="5.06" dy="2.5">B</tspan><tspan dy="-2.5">)</tspan></text>
<defs><linearGradient id="cbg" x1="0" y1="1" x2="0" y2="0"><stop offset="0" stop-color="#ffffff"/><stop offset="1" stop-color="#006cb8"/></linearGradient></defs>
<rect x="182.9" y="199.3" width="6" height="129.3" fill="url(#cbg)"/>
<rect x="182.9" y="199.3" width="6" height="1.6" fill="#fb6a2a"/>
<rect x="182.9" y="199.3" width="6" height="129.3" fill="none" stroke="#262626" stroke-opacity="0.45" stroke-width="0.9"/>
<line x1="188.9" y1="328.6" x2="187.7" y2="328.6" stroke="#262626" stroke-opacity="0.42" stroke-width="0.8"/>
<text x="190.8" y="330.83" font-size="6.2" text-anchor="start" fill="#1a1a1a" stroke="#1a1a1a" stroke-width="0.17">0</text>
<line x1="188.9" y1="302.74" x2="187.7" y2="302.74" stroke="#262626" stroke-opacity="0.42" stroke-width="0.8"/>
<text x="190.8" y="304.97" font-size="6.2" text-anchor="start" fill="#1a1a1a" stroke="#1a1a1a" stroke-width="0.17">0.2</text>
<line x1="188.9" y1="276.88" x2="187.7" y2="276.88" stroke="#262626" stroke-opacity="0.42" stroke-width="0.8"/>
<text x="190.8" y="279.11" font-size="6.2" text-anchor="start" fill="#1a1a1a" stroke="#1a1a1a" stroke-width="0.17">0.4</text>
<line x1="188.9" y1="251.02" x2="187.7" y2="251.02" stroke="#262626" stroke-opacity="0.42" stroke-width="0.8"/>
<text x="190.8" y="253.25" font-size="6.2" text-anchor="start" fill="#1a1a1a" stroke="#1a1a1a" stroke-width="0.17">0.6</text>
<line x1="188.9" y1="225.16" x2="187.7" y2="225.16" stroke="#262626" stroke-opacity="0.42" stroke-width="0.8"/>
<text x="190.8" y="227.39" font-size="6.2" text-anchor="start" fill="#1a1a1a" stroke="#1a1a1a" stroke-width="0.17">0.8</text>
<line x1="188.9" y1="199.3" x2="187.7" y2="199.3" stroke="#262626" stroke-opacity="0.42" stroke-width="0.8"/>
<text x="190.8" y="201.53" font-size="6.2" text-anchor="start" fill="#1a1a1a" stroke="#1a1a1a" stroke-width="0.17">1</text>
<text x="207.6" y="262.3" font-size="6.25" text-anchor="middle" fill="#1a1a1a" transform="rotate(-90 207.6 262.3)" stroke="#1a1a1a" stroke-width="0.18">Threshold Introduction Frequency</text>
<text x="214" y="198.9" font-size="13.8" text-anchor="start" fill="#111">(d)</text>
<rect x="243" y="199.5" width="166.3" height="127.9" fill="none" stroke="#262626" stroke-opacity="0.55" stroke-width="1"/>
<g clip-path="url(#clipd)">
<path d="M243 327.39 L243.83 326.48 L244.65 325.56 L245.48 324.63 L246.31 323.69 L247.13 322.74 L247.96 321.78 L248.79 320.81 L249.61 319.82 L250.44 318.82 L251.27 317.81 L252.09 316.79 L252.92 315.77 L253.75 314.72 L254.57 313.67 L255.4 312.61 L256.23 311.54 L257.05 310.46 L257.88 309.38 L258.71 308.28 L259.53 307.17 L260.36 306.06 L261.18 304.93 L262.01 303.8 L262.84 302.66 L263.66 301.51 L264.49 300.35 L265.32 299.18 L266.14 298 L266.97 296.81 L267.8 295.61 L268.62 294.4 L269.45 293.17 L270.28 291.93 L271.1 290.67 L271.93 289.4 L272.76 288.11 L273.58 286.81 L274.41 285.49 L275.24 284.15 L276.06 282.79 L276.89 281.41 L277.72 280.01 L278.54 278.59 L279.37 277.13 L280.2 275.63 L281.02 274.09 L281.85 272.5 L282.68 270.88 L283.5 269.23 L284.33 267.58 L285.16 265.94 L285.98 264.33 L286.81 262.74 L287.64 261.18 L288.46 259.64 L289.29 258.12 L290.12 256.62 L290.94 255.16 L291.77 253.72 L292.59 252.32 L293.42 250.95 L294.25 249.63 L295.07 248.33 L295.9 247.07 L296.73 245.83 L297.55 244.61 L298.38 243.42 L299.21 242.25 L300.03 241.09 L300.86 239.94 L301.69 238.81 L302.51 237.68 L303.34 236.57 L304.17 235.45 L304.99 234.35 L305.82 233.26 L306.65 232.17 L307.47 231.11 L308.3 230.06 L309.13 229.04 L309.95 228.04 L310.78 227.07 L311.61 226.13 L312.43 225.21 L313.26 224.3 L314.09 223.41 L314.91 222.53 L315.74 221.66 L316.57 220.8 L317.39 219.96 L318.22 219.13 L319.05 218.31 L319.87 217.53 L320.7 216.77 L321.53 216.03 L322.35 215.34 L323.18 214.68 L324 214.06 L324.83 213.48 L325.66 212.95 L326.48 212.45 L327.31 211.99 L328.14 211.56 L328.96 211.16 L329.79 210.77 L330.62 210.39 L331.44 210.03 L332.27 209.69 L333.1 209.35 L333.92 209.03 L334.75 208.72 L335.58 208.42 L336.4 208.12 L337.23 207.84 L338.06 207.56 L338.88 207.29 L339.71 207.03 L340.54 206.77 L341.36 206.52 L342.19 206.27 L343.02 206.02 L343.84 205.77 L344.67 205.53 L345.5 205.29 L346.32 205.04 L347.15 204.8 L347.98 204.55 L348.8 204.31 L349.63 204.06 L350.46 203.81 L351.28 203.57 L352.11 203.33 L352.94 203.09 L353.76 202.85 L354.59 202.62 L355.41 202.39 L356.24 202.18 L357.07 201.96 L357.89 201.76 L358.72 201.57 L359.55 201.39 L360.37 201.22 L361.2 201.06 L362.03 200.91 L362.85 200.77 L363.68 200.64 L364.51 200.51 L365.33 200.38 L366.16 200.26 L366.99 200.14 L367.81 200.03 L368.64 199.93 L369.47 199.83 L370.29 199.75 L371.12 199.67 L371.95 199.61 L372.77 199.57 L373.6 199.54 L374.43 199.52 L375.25 199.51 L376.08 199.5 L376.91 199.5 L377.73 199.5 L378.56 199.5 L379.39 199.5 L380.21 199.5 L381.04 199.5 L381.87 199.5 L382.69 199.5 L409.3 199.5" stroke="#1414d2" fill="none" stroke-width="1.3" stroke-linejoin="round"/>
<path d="M243 327.39 L243.78 326.51 L244.55 325.62 L245.33 324.72 L246.11 323.82 L246.89 322.9 L247.66 321.97 L248.44 321.02 L249.22 320.07 L250 319.1 L250.77 318.13 L251.55 317.14 L252.33 316.14 L253.11 315.13 L253.88 314.12 L254.66 313.09 L255.44 312.05 L256.22 311 L256.99 309.95 L257.77 308.88 L258.55 307.81 L259.32 306.73 L260.1 305.64 L260.88 304.54 L261.66 303.43 L262.43 302.31 L263.21 301.19 L263.99 300.06 L264.77 298.92 L265.54 297.77 L266.32 296.61 L267.1 295.44 L267.88 294.26 L268.65 293.06 L269.43 291.85 L270.21 290.62 L270.99 289.38 L271.76 288.12 L272.54 286.84 L273.32 285.55 L274.1 284.23 L274.87 282.89 L275.65 281.53 L276.43 280.14 L277.2 278.73 L277.98 277.27 L278.76 275.77 L279.54 274.22 L280.31 272.62 L281.09 270.97 L281.87 269.3 L282.65 267.62 L283.42 265.96 L284.2 264.31 L284.98 262.7 L285.76 261.11 L286.53 259.55 L287.31 258.02 L288.09 256.51 L288.87 255.03 L289.64 253.59 L290.42 252.18 L291.2 250.8 L291.97 249.46 L292.75 248.15 L293.53 246.88 L294.31 245.63 L295.08 244.4 L295.86 243.19 L296.64 242 L297.42 240.82 L298.19 239.64 L298.97 238.47 L299.75 237.3 L300.53 236.12 L301.3 234.94 L302.08 233.77 L302.86 232.6 L303.64 231.45 L304.41 230.33 L305.19 229.23 L305.97 228.17 L306.75 227.15 L307.52 226.17 L308.3 225.23 L309.08 224.33 L309.85 223.46 L310.63 222.61 L311.41 221.78 L312.19 220.97 L312.96 220.18 L313.74 219.4 L314.52 218.65 L315.3 217.91 L316.07 217.2 L316.85 216.52 L317.63 215.85 L318.41 215.22 L319.18 214.61 L319.96 214.03 L320.74 213.48 L321.52 212.96 L322.29 212.47 L323.07 211.99 L323.85 211.54 L324.62 211.11 L325.4 210.69 L326.18 210.29 L326.96 209.89 L327.73 209.51 L328.51 209.14 L329.29 208.78 L330.07 208.44 L330.84 208.1 L331.62 207.77 L332.4 207.45 L333.18 207.14 L333.95 206.84 L334.73 206.54 L335.51 206.25 L336.29 205.97 L337.06 205.7 L337.84 205.43 L338.62 205.17 L339.39 204.91 L340.17 204.66 L340.95 204.41 L341.73 204.17 L342.5 203.93 L343.28 203.69 L344.06 203.46 L344.84 203.23 L345.61 203 L346.39 202.79 L347.17 202.57 L347.95 202.37 L348.72 202.17 L349.5 201.97 L350.28 201.79 L351.06 201.61 L351.83 201.44 L352.61 201.28 L353.39 201.13 L354.17 200.98 L354.94 200.84 L355.72 200.71 L356.5 200.58 L357.27 200.45 L358.05 200.33 L358.83 200.21 L359.61 200.09 L360.38 199.98 L361.16 199.88 L361.94 199.79 L362.72 199.71 L363.49 199.64 L364.27 199.59 L365.05 199.55 L365.83 199.53 L366.6 199.51 L367.38 199.51 L368.16 199.5 L368.94 199.5 L369.71 199.5 L370.49 199.5 L371.27 199.5 L372.04 199.5 L372.82 199.5 L373.6 199.5 L374.38 199.5 L409.3 199.5" stroke="#172ad2" fill="none" stroke-width="1.3" stroke-linejoin="round"/>
<path d="M243 327.39 L243.72 326.53 L244.44 325.66 L245.16 324.78 L245.87 323.9 L246.59 323 L247.31 322.1 L248.03 321.18 L248.75 320.26 L249.47 319.33 L250.18 318.39 L250.9 317.44 L251.62 316.48 L252.34 315.51 L253.06 314.54 L253.78 313.55 L254.49 312.56 L255.21 311.56 L255.93 310.55 L256.65 309.53 L257.37 308.51 L258.09 307.48 L258.8 306.44 L259.52 305.4 L260.24 304.35 L260.96 303.29 L261.68 302.23 L262.4 301.16 L263.11 300.08 L263.83 299 L264.55 297.92 L265.27 296.83 L265.99 295.73 L266.71 294.62 L267.42 293.5 L268.14 292.37 L268.86 291.23 L269.58 290.07 L270.3 288.9 L271.02 287.71 L271.73 286.51 L272.45 285.28 L273.17 284.03 L273.89 282.77 L274.61 281.47 L275.33 280.15 L276.04 278.79 L276.76 277.4 L277.48 275.95 L278.2 274.46 L278.92 272.91 L279.64 271.31 L280.35 269.68 L281.07 268.05 L281.79 266.42 L282.51 264.82 L283.23 263.25 L283.95 261.71 L284.66 260.21 L285.38 258.74 L286.1 257.29 L286.82 255.88 L287.54 254.49 L288.26 253.14 L288.97 251.82 L289.69 250.53 L290.41 249.27 L291.13 248.04 L291.85 246.84 L292.57 245.67 L293.28 244.52 L294 243.38 L294.72 242.25 L295.44 241.13 L296.16 240.01 L296.88 238.9 L297.59 237.77 L298.31 236.65 L299.03 235.52 L299.75 234.39 L300.47 233.26 L301.19 232.14 L301.9 231.03 L302.62 229.94 L303.34 228.87 L304.06 227.83 L304.78 226.83 L305.5 225.86 L306.21 224.92 L306.93 224 L307.65 223.11 L308.37 222.23 L309.09 221.37 L309.81 220.53 L310.52 219.7 L311.24 218.89 L311.96 218.1 L312.68 217.34 L313.4 216.59 L314.12 215.87 L314.83 215.18 L315.55 214.52 L316.27 213.89 L316.99 213.29 L317.71 212.71 L318.43 212.16 L319.14 211.63 L319.86 211.12 L320.58 210.62 L321.3 210.14 L322.02 209.67 L322.74 209.22 L323.45 208.78 L324.17 208.35 L324.89 207.94 L325.61 207.54 L326.33 207.15 L327.05 206.78 L327.76 206.43 L328.48 206.08 L329.2 205.76 L329.92 205.45 L330.64 205.16 L331.36 204.88 L332.07 204.61 L332.79 204.36 L333.51 204.11 L334.23 203.88 L334.95 203.65 L335.67 203.43 L336.38 203.22 L337.1 203.01 L337.82 202.81 L338.54 202.62 L339.26 202.43 L339.98 202.25 L340.69 202.08 L341.41 201.91 L342.13 201.75 L342.85 201.59 L343.57 201.44 L344.29 201.29 L345 201.15 L345.72 201.01 L346.44 200.87 L347.16 200.74 L347.88 200.6 L348.6 200.47 L349.31 200.34 L350.03 200.21 L350.75 200.09 L351.47 199.97 L352.19 199.86 L352.91 199.77 L353.62 199.69 L354.34 199.62 L355.06 199.58 L355.78 199.54 L356.5 199.52 L357.22 199.51 L357.93 199.5 L358.65 199.5 L359.37 199.5 L360.09 199.5 L360.81 199.5 L361.53 199.5 L362.24 199.5 L362.96 199.5 L363.68 199.5 L364.4 199.5 L409.3 199.5" stroke="#1b40d1" fill="none" stroke-width="1.3" stroke-linejoin="round"/>
<path d="M243 327.39 L243.62 326.57 L244.25 325.75 L244.87 324.93 L245.5 324.1 L246.12 323.27 L246.75 322.43 L247.37 321.58 L248 320.73 L248.62 319.87 L249.25 319 L249.87 318.13 L250.5 317.25 L251.12 316.37 L251.75 315.49 L252.37 314.59 L253 313.69 L253.62 312.79 L254.25 311.88 L254.87 310.97 L255.5 310.05 L256.12 309.12 L256.75 308.19 L257.37 307.26 L258 306.32 L258.62 305.38 L259.25 304.43 L259.87 303.48 L260.5 302.53 L261.12 301.57 L261.75 300.62 L262.37 299.66 L263 298.7 L263.62 297.74 L264.25 296.78 L264.87 295.82 L265.49 294.85 L266.12 293.88 L266.74 292.9 L267.37 291.91 L267.99 290.92 L268.62 289.91 L269.24 288.89 L269.87 287.85 L270.49 286.8 L271.12 285.73 L271.74 284.65 L272.37 283.54 L272.99 282.42 L273.62 281.27 L274.24 280.09 L274.87 278.87 L275.49 277.62 L276.12 276.32 L276.74 274.97 L277.37 273.57 L277.99 272.13 L278.62 270.65 L279.24 269.14 L279.87 267.64 L280.49 266.15 L281.12 264.68 L281.74 263.25 L282.37 261.85 L282.99 260.49 L283.62 259.15 L284.24 257.85 L284.87 256.57 L285.49 255.32 L286.11 254.1 L286.74 252.91 L287.36 251.74 L287.99 250.61 L288.61 249.5 L289.24 248.42 L289.86 247.36 L290.49 246.32 L291.11 245.31 L291.74 244.31 L292.36 243.32 L292.99 242.34 L293.61 241.37 L294.24 240.4 L294.86 239.44 L295.49 238.47 L296.11 237.5 L296.74 236.52 L297.36 235.55 L297.99 234.57 L298.61 233.59 L299.24 232.62 L299.86 231.66 L300.49 230.7 L301.11 229.76 L301.74 228.84 L302.36 227.93 L302.99 227.04 L303.61 226.17 L304.24 225.32 L304.86 224.48 L305.49 223.66 L306.11 222.86 L306.74 222.06 L307.36 221.28 L307.98 220.51 L308.61 219.75 L309.23 219.01 L309.86 218.27 L310.48 217.55 L311.11 216.85 L311.73 216.16 L312.36 215.49 L312.98 214.83 L313.61 214.19 L314.23 213.56 L314.86 212.96 L315.48 212.37 L316.11 211.79 L316.73 211.23 L317.36 210.68 L317.98 210.15 L318.61 209.63 L319.23 209.12 L319.86 208.62 L320.48 208.13 L321.11 207.66 L321.73 207.19 L322.36 206.74 L322.98 206.3 L323.61 205.87 L324.23 205.45 L324.86 205.04 L325.48 204.64 L326.11 204.24 L326.73 203.85 L327.36 203.47 L327.98 203.1 L328.61 202.73 L329.23 202.39 L329.85 202.06 L330.48 201.76 L331.1 201.48 L331.73 201.23 L332.35 201 L332.98 200.8 L333.6 200.62 L334.23 200.45 L334.85 200.3 L335.48 200.16 L336.1 200.03 L336.73 199.91 L337.35 199.81 L337.98 199.73 L338.6 199.65 L339.23 199.6 L339.85 199.56 L340.48 199.53 L341.1 199.52 L341.73 199.51 L342.35 199.5 L342.98 199.5 L343.6 199.5 L344.23 199.5 L344.85 199.5 L345.48 199.5 L346.1 199.5 L346.73 199.5 L347.35 199.5 L347.98 199.5 L348.6 199.5 L409.3 199.5" stroke="#1e56d1" fill="none" stroke-width="1.3" stroke-linejoin="round"/>
<path d="M243 327.39 L243.56 326.62 L244.12 325.85 L244.68 325.08 L245.24 324.3 L245.8 323.52 L246.37 322.73 L246.93 321.94 L247.49 321.14 L248.05 320.34 L248.61 319.53 L249.17 318.73 L249.73 317.91 L250.29 317.09 L250.85 316.27 L251.41 315.44 L251.97 314.61 L252.54 313.77 L253.1 312.93 L253.66 312.09 L254.22 311.24 L254.78 310.39 L255.34 309.53 L255.9 308.67 L256.46 307.81 L257.02 306.94 L257.58 306.07 L258.14 305.2 L258.71 304.32 L259.27 303.44 L259.83 302.56 L260.39 301.68 L260.95 300.8 L261.51 299.92 L262.07 299.04 L262.63 298.16 L263.19 297.28 L263.75 296.4 L264.31 295.52 L264.87 294.64 L265.44 293.76 L266 292.86 L266.56 291.97 L267.12 291.06 L267.68 290.14 L268.24 289.21 L268.8 288.27 L269.36 287.32 L269.92 286.35 L270.48 285.37 L271.04 284.36 L271.61 283.34 L272.17 282.3 L272.73 281.23 L273.29 280.13 L273.85 279 L274.41 277.83 L274.97 276.62 L275.53 275.36 L276.09 274.06 L276.65 272.7 L277.21 271.31 L277.78 269.88 L278.34 268.45 L278.9 267.01 L279.46 265.59 L280.02 264.18 L280.58 262.81 L281.14 261.46 L281.7 260.13 L282.26 258.84 L282.82 257.57 L283.38 256.33 L283.95 255.12 L284.51 253.94 L285.07 252.79 L285.63 251.68 L286.19 250.6 L286.75 249.55 L287.31 248.54 L287.87 247.55 L288.43 246.59 L288.99 245.65 L289.55 244.72 L290.12 243.82 L290.68 242.92 L291.24 242.03 L291.8 241.15 L292.36 240.26 L292.92 239.38 L293.48 238.49 L294.04 237.6 L294.6 236.7 L295.16 235.8 L295.72 234.9 L296.28 234 L296.85 233.1 L297.41 232.2 L297.97 231.31 L298.53 230.42 L299.09 229.55 L299.65 228.68 L300.21 227.83 L300.77 226.99 L301.33 226.17 L301.89 225.37 L302.45 224.58 L303.02 223.82 L303.58 223.07 L304.14 222.33 L304.7 221.61 L305.26 220.9 L305.82 220.2 L306.38 219.5 L306.94 218.81 L307.5 218.12 L308.06 217.42 L308.62 216.72 L309.19 216.01 L309.75 215.28 L310.31 214.53 L310.87 213.75 L311.43 212.95 L311.99 212.11 L312.55 211.24 L313.11 210.35 L313.67 209.44 L314.23 208.54 L314.79 207.67 L315.36 206.85 L315.92 206.1 L316.48 205.43 L317.04 204.83 L317.6 204.31 L318.16 203.85 L318.72 203.45 L319.28 203.09 L319.84 202.77 L320.4 202.47 L320.96 202.19 L321.53 201.94 L322.09 201.7 L322.65 201.47 L323.21 201.25 L323.77 201.05 L324.33 200.85 L324.89 200.65 L325.45 200.47 L326.01 200.29 L326.57 200.13 L327.13 199.98 L327.69 199.85 L328.26 199.75 L328.82 199.67 L329.38 199.6 L329.94 199.56 L330.5 199.53 L331.06 199.52 L331.62 199.51 L332.18 199.5 L332.74 199.5 L333.3 199.5 L333.86 199.5 L334.43 199.5 L334.99 199.5 L335.55 199.5 L336.11 199.5 L336.67 199.5 L337.23 199.5 L337.79 199.5 L409.3 199.5" stroke="#216cd0" fill="none" stroke-width="1.3" stroke-linejoin="round"/>
<path d="M243 327.39 L243.51 326.65 L244.01 325.91 L244.52 325.16 L245.03 324.41 L245.53 323.66 L246.04 322.91 L246.55 322.15 L247.05 321.39 L247.56 320.63 L248.07 319.86 L248.57 319.09 L249.08 318.32 L249.59 317.54 L250.09 316.76 L250.6 315.98 L251.11 315.19 L251.62 314.4 L252.12 313.61 L252.63 312.81 L253.14 312.01 L253.64 311.21 L254.15 310.41 L254.66 309.6 L255.16 308.79 L255.67 307.98 L256.18 307.16 L256.68 306.35 L257.19 305.53 L257.7 304.7 L258.2 303.88 L258.71 303.06 L259.22 302.23 L259.72 301.41 L260.23 300.59 L260.74 299.77 L261.24 298.96 L261.75 298.15 L262.26 297.34 L262.76 296.53 L263.27 295.72 L263.78 294.91 L264.28 294.1 L264.79 293.28 L265.3 292.46 L265.8 291.64 L266.31 290.81 L266.82 289.96 L267.33 289.11 L267.83 288.25 L268.34 287.37 L268.85 286.48 L269.35 285.58 L269.86 284.65 L270.37 283.71 L270.87 282.75 L271.38 281.76 L271.89 280.75 L272.39 279.71 L272.9 278.63 L273.41 277.51 L273.91 276.35 L274.42 275.14 L274.93 273.89 L275.43 272.58 L275.94 271.25 L276.45 269.88 L276.95 268.5 L277.46 267.12 L277.97 265.74 L278.47 264.39 L278.98 263.06 L279.49 261.76 L279.99 260.48 L280.5 259.24 L281.01 258.02 L281.51 256.82 L282.02 255.65 L282.53 254.5 L283.04 253.38 L283.54 252.28 L284.05 251.21 L284.56 250.16 L285.06 249.14 L285.57 248.14 L286.08 247.16 L286.58 246.21 L287.09 245.26 L287.6 244.33 L288.1 243.42 L288.61 242.51 L289.12 241.6 L289.62 240.71 L290.13 239.81 L290.64 238.92 L291.14 238.03 L291.65 237.14 L292.16 236.25 L292.66 235.37 L293.17 234.49 L293.68 233.61 L294.18 232.74 L294.69 231.86 L295.2 230.98 L295.7 230.1 L296.21 229.21 L296.72 228.32 L297.22 227.42 L297.73 226.51 L298.24 225.59 L298.74 224.66 L299.25 223.73 L299.76 222.78 L300.27 221.83 L300.77 220.86 L301.28 219.88 L301.79 218.89 L302.29 217.88 L302.8 216.85 L303.31 215.8 L303.81 214.71 L304.32 213.6 L304.83 212.46 L305.33 211.3 L305.84 210.14 L306.35 209 L306.85 207.91 L307.36 206.9 L307.87 205.98 L308.37 205.17 L308.88 204.46 L309.39 203.86 L309.89 203.34 L310.4 202.89 L310.91 202.51 L311.41 202.17 L311.92 201.87 L312.43 201.6 L312.93 201.35 L313.44 201.14 L313.95 200.94 L314.45 200.75 L314.96 200.58 L315.47 200.43 L315.98 200.28 L316.48 200.15 L316.99 200.03 L317.5 199.92 L318 199.82 L318.51 199.74 L319.02 199.67 L319.52 199.62 L320.03 199.58 L320.54 199.55 L321.04 199.53 L321.55 199.52 L322.06 199.51 L322.56 199.5 L323.07 199.5 L323.58 199.5 L324.08 199.5 L324.59 199.5 L325.1 199.5 L325.6 199.5 L326.11 199.5 L326.62 199.5 L327.12 199.5 L327.63 199.5 L328.14 199.5 L328.64 199.5 L409.3 199.5" stroke="#2582d0" fill="none" stroke-width="1.3" stroke-linejoin="round"/>
<path d="M243 327.39 L243.45 326.68 L243.91 325.97 L244.36 325.26 L244.81 324.55 L245.26 323.83 L245.72 323.12 L246.17 322.4 L246.62 321.68 L247.07 320.95 L247.53 320.23 L247.98 319.5 L248.43 318.77 L248.88 318.04 L249.34 317.31 L249.79 316.57 L250.24 315.83 L250.7 315.09 L251.15 314.35 L251.6 313.61 L252.05 312.86 L252.51 312.12 L252.96 311.37 L253.41 310.61 L253.86 309.86 L254.32 309.11 L254.77 308.35 L255.22 307.59 L255.67 306.83 L256.13 306.07 L256.58 305.3 L257.03 304.54 L257.48 303.77 L257.94 303.01 L258.39 302.25 L258.84 301.49 L259.3 300.73 L259.75 299.98 L260.2 299.23 L260.65 298.49 L261.11 297.75 L261.56 297.01 L262.01 296.27 L262.46 295.54 L262.92 294.8 L263.37 294.07 L263.82 293.33 L264.27 292.59 L264.73 291.85 L265.18 291.09 L265.63 290.34 L266.09 289.57 L266.54 288.79 L266.99 288 L267.44 287.2 L267.9 286.39 L268.35 285.56 L268.8 284.72 L269.25 283.85 L269.71 282.97 L270.16 282.07 L270.61 281.14 L271.06 280.18 L271.52 279.19 L271.97 278.17 L272.42 277.11 L272.87 276 L273.33 274.85 L273.78 273.65 L274.23 272.41 L274.69 271.14 L275.14 269.83 L275.59 268.51 L276.04 267.18 L276.5 265.85 L276.95 264.53 L277.4 263.23 L277.85 261.94 L278.31 260.67 L278.76 259.42 L279.21 258.19 L279.66 256.98 L280.12 255.78 L280.57 254.6 L281.02 253.43 L281.48 252.28 L281.93 251.14 L282.38 250.02 L282.83 248.92 L283.29 247.82 L283.74 246.74 L284.19 245.67 L284.64 244.61 L285.1 243.56 L285.55 242.52 L286 241.48 L286.45 240.46 L286.91 239.44 L287.36 238.44 L287.81 237.44 L288.27 236.46 L288.72 235.48 L289.17 234.5 L289.62 233.52 L290.08 232.52 L290.53 231.5 L290.98 230.44 L291.43 229.31 L291.89 228.12 L292.34 226.85 L292.79 225.48 L293.24 224.01 L293.7 222.44 L294.15 220.8 L294.6 219.09 L295.05 217.35 L295.51 215.61 L295.96 213.9 L296.41 212.26 L296.87 210.73 L297.32 209.31 L297.77 208.04 L298.22 206.92 L298.68 205.96 L299.13 205.13 L299.58 204.45 L300.03 203.87 L300.49 203.39 L300.94 202.99 L301.39 202.65 L301.84 202.35 L302.3 202.08 L302.75 201.85 L303.2 201.64 L303.66 201.44 L304.11 201.26 L304.56 201.09 L305.01 200.93 L305.47 200.78 L305.92 200.63 L306.37 200.49 L306.82 200.36 L307.28 200.23 L307.73 200.11 L308.18 200 L308.63 199.91 L309.09 199.82 L309.54 199.74 L309.99 199.68 L310.44 199.63 L310.9 199.59 L311.35 199.56 L311.8 199.54 L312.26 199.52 L312.71 199.51 L313.16 199.51 L313.61 199.5 L314.07 199.5 L314.52 199.5 L314.97 199.5 L315.42 199.5 L315.88 199.5 L316.33 199.5 L316.78 199.5 L317.23 199.5 L317.69 199.5 L318.14 199.5 L318.59 199.5 L319.05 199.5 L319.5 199.5 L409.3 199.5" stroke="#2898cf" fill="none" stroke-width="1.3" stroke-linejoin="round"/>
<path d="M243 327.39 L243.38 326.72 L243.76 326.05 L244.14 325.38 L244.52 324.71 L244.89 324.04 L245.27 323.36 L245.65 322.68 L246.03 322.01 L246.41 321.33 L246.79 320.65 L247.17 319.96 L247.55 319.28 L247.93 318.6 L248.3 317.91 L248.68 317.22 L249.06 316.53 L249.44 315.84 L249.82 315.15 L250.2 314.45 L250.58 313.76 L250.96 313.06 L251.33 312.36 L251.71 311.66 L252.09 310.96 L252.47 310.26 L252.85 309.55 L253.23 308.85 L253.61 308.14 L253.99 307.43 L254.37 306.72 L254.74 306.01 L255.12 305.3 L255.5 304.59 L255.88 303.88 L256.26 303.17 L256.64 302.46 L257.02 301.75 L257.4 301.04 L257.78 300.34 L258.15 299.63 L258.53 298.93 L258.91 298.24 L259.29 297.54 L259.67 296.84 L260.05 296.15 L260.43 295.46 L260.81 294.77 L261.18 294.07 L261.56 293.38 L261.94 292.68 L262.32 291.98 L262.7 291.28 L263.08 290.57 L263.46 289.85 L263.84 289.14 L264.22 288.41 L264.59 287.67 L264.97 286.93 L265.35 286.18 L265.73 285.42 L266.11 284.65 L266.49 283.86 L266.87 283.06 L267.25 282.25 L267.63 281.42 L268 280.58 L268.38 279.72 L268.76 278.83 L269.14 277.92 L269.52 276.99 L269.9 276.04 L270.28 275.05 L270.66 274.04 L271.03 273.01 L271.41 271.95 L271.79 270.87 L272.17 269.77 L272.55 268.66 L272.93 267.54 L273.31 266.42 L273.69 265.29 L274.07 264.17 L274.44 263.05 L274.82 261.94 L275.2 260.82 L275.58 259.71 L275.96 258.58 L276.34 257.45 L276.72 256.29 L277.1 255.11 L277.48 253.89 L277.85 252.64 L278.23 251.33 L278.61 249.97 L278.99 248.55 L279.37 247.06 L279.75 245.49 L280.13 243.85 L280.51 242.12 L280.88 240.31 L281.26 238.42 L281.64 236.46 L282.02 234.45 L282.4 232.41 L282.78 230.35 L283.16 228.31 L283.54 226.3 L283.92 224.34 L284.29 222.47 L284.67 220.69 L285.05 219.01 L285.43 217.44 L285.81 215.98 L286.19 214.63 L286.57 213.39 L286.95 212.26 L287.33 211.22 L287.7 210.26 L288.08 209.39 L288.46 208.59 L288.84 207.85 L289.22 207.17 L289.6 206.55 L289.98 205.96 L290.36 205.43 L290.73 204.93 L291.11 204.46 L291.49 204.03 L291.87 203.62 L292.25 203.25 L292.63 202.89 L293.01 202.56 L293.39 202.25 L293.77 201.96 L294.14 201.68 L294.52 201.42 L294.9 201.18 L295.28 200.96 L295.66 200.75 L296.04 200.55 L296.42 200.38 L296.8 200.22 L297.18 200.07 L297.55 199.95 L297.93 199.85 L298.31 199.76 L298.69 199.69 L299.07 199.63 L299.45 199.59 L299.83 199.56 L300.21 199.54 L300.59 199.52 L300.96 199.51 L301.34 199.51 L301.72 199.5 L302.1 199.5 L302.48 199.5 L302.86 199.5 L303.24 199.5 L303.62 199.5 L303.99 199.5 L304.37 199.5 L304.75 199.5 L305.13 199.5 L305.51 199.5 L305.89 199.5 L306.27 199.5 L306.65 199.5 L307.03 199.5 L409.3 199.5" stroke="#2baecf" fill="none" stroke-width="1.3" stroke-linejoin="round"/>
<path d="M243 327.38 L243.34 326.71 L243.69 326.03 L244.03 325.35 L244.38 324.67 L244.72 323.99 L245.07 323.3 L245.41 322.61 L245.76 321.92 L246.1 321.23 L246.44 320.53 L246.79 319.83 L247.13 319.13 L247.48 318.43 L247.82 317.72 L248.17 317.02 L248.51 316.31 L248.85 315.59 L249.2 314.88 L249.54 314.16 L249.89 313.44 L250.23 312.71 L250.58 311.99 L250.92 311.26 L251.27 310.53 L251.61 309.8 L251.95 309.06 L252.3 308.33 L252.64 307.59 L252.99 306.85 L253.33 306.11 L253.68 305.36 L254.02 304.62 L254.37 303.88 L254.71 303.13 L255.05 302.39 L255.4 301.65 L255.74 300.91 L256.09 300.17 L256.43 299.43 L256.78 298.7 L257.12 297.96 L257.47 297.23 L257.81 296.5 L258.15 295.77 L258.5 295.04 L258.84 294.31 L259.19 293.57 L259.53 292.83 L259.88 292.09 L260.22 291.34 L260.56 290.58 L260.91 289.81 L261.25 289.04 L261.6 288.25 L261.94 287.46 L262.29 286.65 L262.63 285.82 L262.98 284.98 L263.32 284.12 L263.66 283.24 L264.01 282.34 L264.35 281.42 L264.7 280.48 L265.04 279.5 L265.39 278.49 L265.73 277.46 L266.08 276.38 L266.42 275.27 L266.76 274.12 L267.11 272.94 L267.45 271.71 L267.8 270.46 L268.14 269.16 L268.49 267.83 L268.83 266.46 L269.18 265.05 L269.52 263.6 L269.86 262.08 L270.21 260.49 L270.55 258.81 L270.9 257.03 L271.24 255.12 L271.59 253.09 L271.93 250.91 L272.27 248.61 L272.62 246.19 L272.96 243.68 L273.31 241.1 L273.65 238.49 L274 235.88 L274.34 233.32 L274.69 230.84 L275.03 228.45 L275.37 226.19 L275.72 224.06 L276.06 222.08 L276.41 220.24 L276.75 218.55 L277.1 217.01 L277.44 215.61 L277.79 214.34 L278.13 213.2 L278.47 212.17 L278.82 211.24 L279.16 210.41 L279.51 209.65 L279.85 208.97 L280.2 208.34 L280.54 207.77 L280.88 207.25 L281.23 206.76 L281.57 206.31 L281.92 205.89 L282.26 205.5 L282.61 205.12 L282.95 204.77 L283.3 204.44 L283.64 204.12 L283.98 203.82 L284.33 203.54 L284.67 203.26 L285.02 203 L285.36 202.76 L285.71 202.52 L286.05 202.29 L286.4 202.08 L286.74 201.87 L287.08 201.67 L287.43 201.48 L287.77 201.3 L288.12 201.13 L288.46 200.97 L288.81 200.81 L289.15 200.66 L289.5 200.52 L289.84 200.39 L290.18 200.26 L290.53 200.14 L290.87 200.04 L291.22 199.94 L291.56 199.86 L291.91 199.78 L292.25 199.72 L292.59 199.66 L292.94 199.62 L293.28 199.59 L293.63 199.56 L293.97 199.54 L294.32 199.53 L294.66 199.52 L295.01 199.51 L295.35 199.51 L295.69 199.5 L296.04 199.5 L296.38 199.5 L296.73 199.5 L297.07 199.5 L297.42 199.5 L297.76 199.5 L298.11 199.5 L298.45 199.5 L298.79 199.5 L299.14 199.5 L299.48 199.5 L299.83 199.5 L300.17 199.5 L300.52 199.5 L300.86 199.5 L301.2 199.5 L409.3 199.5" stroke="#2fc4ce" fill="none" stroke-width="1.3" stroke-linejoin="round"/>
<path d="M243 327.43 L243.31 326.37 L243.62 325.31 L243.93 324.26 L244.24 323.21 L244.55 322.16 L244.86 321.12 L245.17 320.08 L245.48 319.04 L245.79 318.01 L246.1 316.98 L246.41 315.95 L246.72 314.93 L247.03 313.92 L247.34 312.91 L247.65 311.9 L247.96 310.9 L248.27 309.91 L248.58 308.92 L248.89 307.94 L249.2 306.96 L249.51 306 L249.82 305.04 L250.13 304.09 L250.44 303.15 L250.75 302.23 L251.06 301.31 L251.37 300.41 L251.68 299.52 L251.99 298.65 L252.3 297.78 L252.61 296.93 L252.92 296.09 L253.23 295.25 L253.54 294.43 L253.85 293.6 L254.16 292.78 L254.47 291.96 L254.78 291.13 L255.09 290.3 L255.4 289.46 L255.71 288.6 L256.02 287.73 L256.33 286.84 L256.64 285.93 L256.95 284.99 L257.26 284.01 L257.57 283.01 L257.88 281.96 L258.19 280.87 L258.5 279.73 L258.81 278.53 L259.12 277.27 L259.43 275.95 L259.74 274.56 L260.05 273.1 L260.36 271.57 L260.67 269.97 L260.98 268.29 L261.29 266.53 L261.6 264.71 L261.91 262.82 L262.22 260.87 L262.53 258.86 L262.84 256.79 L263.15 254.68 L263.46 252.53 L263.77 250.35 L264.08 248.14 L264.39 245.93 L264.7 243.72 L265.01 241.51 L265.32 239.34 L265.63 237.2 L265.94 235.11 L266.25 233.09 L266.56 231.13 L266.87 229.26 L267.18 227.48 L267.49 225.8 L267.8 224.21 L268.11 222.72 L268.42 221.33 L268.73 220.03 L269.04 218.81 L269.35 217.69 L269.66 216.65 L269.97 215.68 L270.28 214.79 L270.59 213.96 L270.9 213.19 L271.21 212.47 L271.52 211.81 L271.83 211.19 L272.14 210.62 L272.45 210.08 L272.76 209.57 L273.07 209.1 L273.38 208.64 L273.69 208.22 L274 207.81 L274.31 207.43 L274.62 207.06 L274.93 206.7 L275.24 206.36 L275.55 206.04 L275.86 205.73 L276.17 205.43 L276.48 205.13 L276.79 204.85 L277.1 204.58 L277.41 204.32 L277.72 204.06 L278.03 203.82 L278.34 203.58 L278.65 203.34 L278.96 203.12 L279.27 202.9 L279.58 202.69 L279.89 202.49 L280.2 202.29 L280.51 202.1 L280.82 201.92 L281.13 201.74 L281.44 201.57 L281.75 201.41 L282.06 201.25 L282.37 201.1 L282.68 200.95 L282.99 200.81 L283.3 200.68 L283.61 200.55 L283.92 200.43 L284.23 200.31 L284.54 200.2 L284.85 200.1 L285.16 200.01 L285.47 199.92 L285.78 199.85 L286.09 199.78 L286.4 199.72 L286.71 199.67 L287.02 199.63 L287.33 199.6 L287.64 199.57 L287.95 199.55 L288.26 199.54 L288.57 199.53 L288.88 199.52 L289.19 199.51 L289.5 199.51 L289.81 199.5 L290.12 199.5 L290.43 199.5 L290.73 199.5 L291.04 199.5 L291.35 199.5 L291.66 199.5 L291.97 199.5 L292.28 199.5 L292.59 199.5 L292.9 199.5 L293.21 199.5 L293.52 199.5 L293.83 199.5 L294.14 199.5 L294.45 199.5 L294.76 199.5 L295.07 199.5 L295.38 199.5 L409.3 199.5" stroke="#32dace" fill="none" stroke-width="1.3" stroke-linejoin="round"/>
</g>
<line x1="243" y1="327.4" x2="243" y2="325.8" stroke="#262626" stroke-opacity="0.55" stroke-width="0.8"/>
<line x1="243" y1="199.5" x2="243" y2="201.1" stroke="#262626" stroke-opacity="0.55" stroke-width="0.8"/>
<text x="243" y="335.6" font-size="5.9" text-anchor="middle" fill="#1a1a1a" stroke="#1a1a1a" stroke-width="0.17">0</text>
<line x1="276.26" y1="327.4" x2="276.26" y2="325.8" stroke="#262626" stroke-opacity="0.55" stroke-width="0.8"/>
<line x1="276.26" y1="199.5" x2="276.26" y2="201.1" stroke="#262626" stroke-opacity="0.55" stroke-width="0.8"/>
<text x="276.26" y="335.6" font-size="5.9" text-anchor="middle" fill="#1a1a1a" stroke="#1a1a1a" stroke-width="0.17">0.2</text>
<line x1="309.52" y1="327.4" x2="309.52" y2="325.8" stroke="#262626" stroke-opacity="0.55" stroke-width="0.8"/>
<line x1="309.52" y1="199.5" x2="309.52" y2="201.1" stroke="#262626" stroke-opacity="0.55" stroke-width="0.8"/>
<text x="309.52" y="335.6" font-size="5.9" text-anchor="middle" fill="#1a1a1a" stroke="#1a1a1a" stroke-width="0.17">0.4</text>
<line x1="342.78" y1="327.4" x2="342.78" y2="325.8" stroke="#262626" stroke-opacity="0.55" stroke-width="0.8"/>
<line x1="342.78" y1="199.5" x2="342.78" y2="201.1" stroke="#262626" stroke-opacity="0.55" stroke-width="0.8"/>
<text x="342.78" y="335.6" font-size="5.9" text-anchor="middle" fill="#1a1a1a" stroke="#1a1a1a" stroke-width="0.17">0.6</text>
<line x1="376.04" y1="327.4" x2="376.04" y2="325.8" stroke="#262626" stroke-opacity="0.55" stroke-width="0.8"/>
<line x1="376.04" y1="199.5" x2="376.04" y2="201.1" stroke="#262626" stroke-opacity="0.55" stroke-width="0.8"/>
<text x="376.04" y="335.6" font-size="5.9" text-anchor="middle" fill="#1a1a1a" stroke="#1a1a1a" stroke-width="0.17">0.8</text>
<line x1="409.3" y1="327.4" x2="409.3" y2="325.8" stroke="#262626" stroke-opacity="0.55" stroke-width="0.8"/>
<line x1="409.3" y1="199.5" x2="409.3" y2="201.1" stroke="#262626" stroke-opacity="0.55" stroke-width="0.8"/>
<text x="409.3" y="335.6" font-size="5.9" text-anchor="middle" fill="#1a1a1a" stroke="#1a1a1a" stroke-width="0.17">1</text>
<line x1="243" y1="327.4" x2="244.6" y2="327.4" stroke="#262626" stroke-opacity="0.55" stroke-width="0.8"/>
<line x1="409.3" y1="327.4" x2="407.7" y2="327.4" stroke="#262626" stroke-opacity="0.55" stroke-width="0.8"/>
<text x="240" y="329.46" font-size="5.9" text-anchor="end" fill="#1a1a1a" stroke="#1a1a1a" stroke-width="0.17">0</text>
<line x1="243" y1="301.82" x2="244.6" y2="301.82" stroke="#262626" stroke-opacity="0.55" stroke-width="0.8"/>
<line x1="409.3" y1="301.82" x2="407.7" y2="301.82" stroke="#262626" stroke-opacity="0.55" stroke-width="0.8"/>
<text x="240" y="303.88" font-size="5.9" text-anchor="end" fill="#1a1a1a" stroke="#1a1a1a" stroke-width="0.17">0.2</text>
<line x1="243" y1="276.24" x2="244.6" y2="276.24" stroke="#262626" stroke-opacity="0.55" stroke-width="0.8"/>
<line x1="409.3" y1="276.24" x2="407.7" y2="276.24" stroke="#262626" stroke-opacity="0.55" stroke-width="0.8"/>
<text x="240" y="278.31" font-size="5.9" text-anchor="end" fill="#1a1a1a" stroke="#1a1a1a" stroke-width="0.17">0.4</text>
<line x1="243" y1="250.66" x2="244.6" y2="250.66" stroke="#262626" stroke-opacity="0.55" stroke-width="0.8"/>
<line x1="409.3" y1="250.66" x2="407.7" y2="250.66" stroke="#262626" stroke-opacity="0.55" stroke-width="0.8"/>
<text x="240" y="252.72" font-size="5.9" text-anchor="end" fill="#1a1a1a" stroke="#1a1a1a" stroke-width="0.17">0.6</text>
<line x1="243" y1="225.08" x2="244.6" y2="225.08" stroke="#262626" stroke-opacity="0.55" stroke-width="0.8"/>
<line x1="409.3" y1="225.08" x2="407.7" y2="225.08" stroke="#262626" stroke-opacity="0.55" stroke-width="0.8"/>
<text x="240" y="227.14" font-size="5.9" text-anchor="end" fill="#1a1a1a" stroke="#1a1a1a" stroke-width="0.17">0.8</text>
<line x1="243" y1="199.5" x2="244.6" y2="199.5" stroke="#262626" stroke-opacity="0.55" stroke-width="0.8"/>
<line x1="409.3" y1="199.5" x2="407.7" y2="199.5" stroke="#262626" stroke-opacity="0.55" stroke-width="0.8"/>
<text x="240" y="201.56" font-size="5.9" text-anchor="end" fill="#1a1a1a" stroke="#1a1a1a" stroke-width="0.17">1</text>
<rect x="362.8" y="203" width="42.8" height="75.5" fill="#fff" stroke="#262626" stroke-opacity="0.6" stroke-width="0.9"/>
<line x1="364.4" y1="208.4" x2="379.7" y2="208.4" stroke="#1414d2" stroke-width="1.3"/>
<text x="380.3" y="210.52" font-size="5.9" text-anchor="start" fill="#222" stroke="#222" stroke-width="0.17">L = 1.00</text>
<line x1="364.4" y1="215.85" x2="379.7" y2="215.85" stroke="#172ad2" stroke-width="1.3"/>
<text x="380.3" y="217.97" font-size="5.9" text-anchor="start" fill="#222" stroke="#222" stroke-width="0.17">L = 0.90</text>
<line x1="364.4" y1="223.3" x2="379.7" y2="223.3" stroke="#1b40d1" stroke-width="1.3"/>
<text x="380.3" y="225.42" font-size="5.9" text-anchor="start" fill="#222" stroke="#222" stroke-width="0.17">L = 0.80</text>
<line x1="364.4" y1="230.75" x2="379.7" y2="230.75" stroke="#1e56d1" stroke-width="1.3"/>
<text x="380.3" y="232.87" font-size="5.9" text-anchor="start" fill="#222" stroke="#222" stroke-width="0.17">L = 0.70</text>
<line x1="364.4" y1="238.2" x2="379.7" y2="238.2" stroke="#216cd0" stroke-width="1.3"/>
<text x="380.3" y="240.32" font-size="5.9" text-anchor="start" fill="#222" stroke="#222" stroke-width="0.17">L = 0.60</text>
<line x1="364.4" y1="245.65" x2="379.7" y2="245.65" stroke="#2582d0" stroke-width="1.3"/>
<text x="380.3" y="247.77" font-size="5.9" text-anchor="start" fill="#222" stroke="#222" stroke-width="0.17">L = 0.50</text>
<line x1="364.4" y1="253.1" x2="379.7" y2="253.1" stroke="#2898cf" stroke-width="1.3"/>
<text x="380.3" y="255.22" font-size="5.9" text-anchor="start" fill="#222" stroke="#222" stroke-width="0.17">L = 0.40</text>
<line x1="364.4" y1="260.55" x2="379.7" y2="260.55" stroke="#2baecf" stroke-width="1.3"/>
<text x="380.3" y="262.67" font-size="5.9" text-anchor="start" fill="#222" stroke="#222" stroke-width="0.17">L = 0.30</text>
<line x1="364.4" y1="268" x2="379.7" y2="268" stroke="#2fc4ce" stroke-width="1.3"/>
<text x="380.3" y="270.12" font-size="5.9" text-anchor="start" fill="#222" stroke="#222" stroke-width="0.17">L = 0.20</text>
<line x1="364.4" y1="275.45" x2="379.7" y2="275.45" stroke="#32dace" stroke-width="1.3"/>
<text x="380.3" y="277.57" font-size="5.9" text-anchor="start" fill="#222" stroke="#222" stroke-width="0.17">L = 0.10</text>
<text x="228.8" y="263.45" font-size="6.3" text-anchor="middle" fill="#1a1a1a" transform="rotate(-90 228.8 263.45)" stroke="#1a1a1a" stroke-width="0.18">Release Threshold</text>
<text x="325.85" y="344.2" font-size="6.5" text-anchor="middle" fill="#1a1a1a" textLength="77.7" lengthAdjust="spacingAndGlyphs" stroke="#1a1a1a" stroke-width="0.23">Fitness Cost (1-<tspan font-style="italic">r</tspan><tspan font-size="5.52" dy="2.73">A</tspan><tspan dy="-2.73"> = 1-<tspan font-style="italic">r</tspan></tspan><tspan font-size="5.52" dy="2.73">B</tspan><tspan dy="-2.73">)</tspan></text>
<text x="429.3" y="29.9" font-size="13.8" text-anchor="start" fill="#111">(e)</text>
<line x1="466.5" y1="75.6" x2="466.5" y2="293.4" stroke="#777" stroke-width="0.7"/>
<line x1="634.1" y1="60.4" x2="634.1" y2="278.2" stroke="#bbb" stroke-width="0.7"/>
<g transform="matrix(0.10020 0.03230 -0.06740 0.04750 533.90000 245.90000)">
<rect x="0" y="0" width="1000" height="1000" fill="#ffffff"/>
<path d="M0 1000 L0 975 L0 950 L0 925 L0 900 L0 875 L0 850 L0 825 L0 800 L0 775 L0 750 L0 725 L0 700 L0 675 L0 650 L0 625 L1.05 600 L5.67 575 L8.91 550 L12.15 525 L15.38 500 L18.41 475 L21.44 450 L24.47 425 L27.49 400 L29.91 375 L32.32 350 L34.74 325 L37.15 300 L39.36 275 L41.57 250 L43.78 225 L45.98 200 L47.99 175 L49.99 150 L51.99 125 L53.99 100 L55.79 75 L57.58 50 L59.38 25 L61.17 0 L1000 0 L1000 1000Z" fill="#e6f0f8"/>
<path d="M0 1000 L0 975 L0 950 L0 925 L0 900 L0 875 L0 850 L7.99 825 L10.65 800 L15.77 775 L20.88 750 L25.98 725 L31.07 700 L35.55 675 L40.02 650 L44.49 625 L48.95 600 L51.78 575 L54.6 550 L57.42 525 L60.24 500 L62.65 475 L65.05 450 L67.45 425 L69.85 400 L72.25 375 L74.64 350 L77.03 325 L79.42 300 L81.4 275 L83.37 250 L85.35 225 L87.32 200 L89.29 175 L91.26 150 L93.23 125 L95.19 100 L96.95 75 L98.71 50 L100.47 25 L102.22 0 L1000 0 L1000 1000Z" fill="#cce2f1"/>
<path d="M10.24 1000 L12.57 975 L14.91 950 L17.24 925 L19.57 900 L25.08 875 L30.58 850 L36.08 825 L41.57 800 L45.99 775 L50.4 750 L54.81 725 L59.21 700 L63.82 675 L68.42 650 L73.01 625 L77.6 600 L81.97 575 L86.33 550 L90.69 525 L95.04 500 L98.54 475 L102.04 450 L105.53 425 L109.02 400 L112.3 375 L115.56 350 L118.83 325 L122.09 300 L124.92 275 L127.76 250 L130.59 225 L133.41 200 L136.02 175 L138.63 150 L141.23 125 L143.83 100 L145.6 75 L147.36 50 L149.12 25 L150.88 0 L1000 0 L1000 1000Z" fill="#b2d3ea"/>
<path d="M20.87 1000 L26.4 975 L31.86 950 L37.23 925 L42.52 900 L49.48 875 L56.39 850 L62.86 825 L69.88 800 L75.1 775 L80.29 750 L85.46 725 L90.58 700 L95.5 675 L100.42 650 L105.33 625 L110.23 600 L114.93 575 L119.6 550 L124.25 525 L128.87 500 L132.81 475 L136.73 450 L140.64 425 L144.55 400 L148.11 375 L151.66 350 L155.21 325 L158.75 300 L161.71 275 L164.67 250 L167.62 225 L170.56 200 L173.43 175 L176.29 150 L179.15 125 L182 100 L184.17 75 L186.34 50 L188.5 25 L190.66 0 L1000 0 L1000 1000Z" fill="#99c4e3"/>
<path d="M28.55 1000 L36.51 975 L44.45 950 L52.37 925 L60.27 900 L68.58 875 L76.88 850 L85.15 825 L93.4 800 L99.92 775 L106.42 750 L112.91 725 L119.38 700 L124.78 675 L130.15 650 L135.52 625 L140.87 600 L145.36 575 L149.84 550 L154.3 525 L158.76 500 L162.78 475 L166.79 450 L170.8 425 L174.79 400 L178.35 375 L181.9 350 L185.44 325 L188.98 300 L191.87 275 L194.76 250 L197.65 225 L200.52 200 L203.39 175 L206.25 150 L209.1 125 L211.94 100 L214.36 75 L216.78 50 L219.19 25 L221.59 0 L1000 0 L1000 1000Z" fill="#80b6dc"/>
<path d="M36.14 1000 L45.56 975 L54.94 950 L64.29 925 L73.6 900 L83.99 875 L94.34 850 L104.68 825 L114.98 800 L123.21 775 L131.4 750 L139.57 725 L147.71 700 L153.84 675 L159.98 650 L166.12 625 L172.24 600 L176.98 575 L181.71 550 L186.44 525 L191.16 500 L195.29 475 L199.41 450 L203.54 425 L207.65 400 L211.38 375 L215.09 350 L218.79 325 L222.47 300 L225.86 275 L229.24 250 L232.61 225 L235.98 200 L238.79 175 L241.59 150 L244.38 125 L247.17 100 L249.5 75 L251.83 50 L254.14 25 L256.45 0 L1000 0 L1000 1000Z" fill="#66a7d4"/>
<path d="M43.7 1000 L54.32 975 L64.89 950 L75.42 925 L85.92 900 L98.11 875 L110.26 850 L122.37 825 L134.43 800 L144.51 775 L154.55 750 L164.56 725 L174.53 700 L182.12 675 L189.67 650 L197.2 625 L204.7 600 L210.26 575 L215.8 550 L221.32 525 L226.82 500 L231.45 475 L236.07 450 L240.67 425 L245.25 400 L249.18 375 L253.1 350 L257 325 L260.89 300 L264.76 275 L268.61 250 L272.45 225 L276.27 200 L279.04 175 L281.8 150 L284.55 125 L287.29 100 L289.41 75 L291.51 50 L293.6 25 L295.69 0 L1000 0 L1000 1000Z" fill="#4d98cd"/>
<path d="M51.6 1000 L63.27 975 L74.89 950 L86.46 925 L97.98 900 L110.95 875 L123.88 850 L136.74 825 L149.55 800 L161.23 775 L172.85 750 L184.43 725 L195.95 700 L205.92 675 L215.86 650 L225.74 625 L235.58 600 L243.27 575 L250.92 550 L258.53 525 L266.11 500 L272.81 475 L279.49 450 L286.13 425 L292.73 400 L296.82 375 L300.89 350 L304.94 325 L308.96 300 L312.15 275 L315.31 250 L318.46 225 L321.59 200 L324.5 175 L327.39 150 L330.27 125 L333.13 100 L334.96 75 L336.78 50 L338.59 25 L340.39 0 L1000 0 L1000 1000Z" fill="#3389c6"/>
<path d="M57.86 1000 L68.7 975 L79.47 950 L90.17 925 L100.79 900 L115.75 875 L130.6 850 L145.35 825 L160 800 L173.93 775 L187.77 750 L201.51 725 L215.15 700 L227.07 675 L238.91 650 L250.66 625 L262.32 600 L270.68 575 L278.98 550 L287.22 525 L295.39 500 L301.32 475 L307.21 450 L313.04 425 L318.82 400 L324.17 375 L329.47 350 L334.73 325 L339.94 300 L343.95 275 L347.92 250 L351.85 225 L355.75 200 L359.04 175 L362.3 150 L365.52 125 L368.72 100 L371.31 75 L373.88 50 L376.42 25 L378.93 0 L1000 0 L1000 1000Z" fill="#197bbf"/>
<path d="M63.78 1000 L75.2 975 L86.46 950 L97.56 925 L108.51 900 L121.71 875 L134.73 850 L147.56 825 L160.2 800 L174.46 775 L188.5 750 L202.33 725 L215.95 700 L229 675 L241.84 650 L254.48 625 L266.9 600 L278.43 575 L289.76 550 L300.9 525 L311.83 500 L321.58 475 L331.13 450 L340.51 425 L349.7 400 L356.3 375 L362.75 350 L369.05 325 L375.21 300 L379.51 275 L383.69 250 L387.76 225 L391.71 200 L394.48 175 L397.15 150 L399.72 125 L402.2 100 L403.98 75 L405.68 50 L407.29 25 L408.81 0 L1000 0 L1000 1000Z" fill="#fb6a2a"/>
<path d="M0 625 L1.05 600 L5.67 575 L8.91 550 L12.15 525 L15.38 500 L18.41 475 L21.44 450 L24.47 425 L27.49 400 L29.91 375 L32.32 350 L34.74 325 L37.15 300 L39.36 275 L41.57 250 L43.78 225 L45.98 200 L47.99 175 L49.99 150 L51.99 125 L53.99 100 L55.79 75 L57.58 50 L59.38 25 L61.17 0" fill="none" stroke="#000" stroke-width="0.45" vector-effect="non-scaling-stroke"/>
<path d="M0 850 L7.99 825 L10.65 800 L15.77 775 L20.88 750 L25.98 725 L31.07 700 L35.55 675 L40.02 650 L44.49 625 L48.95 600 L51.78 575 L54.6 550 L57.42 525 L60.24 500 L62.65 475 L65.05 450 L67.45 425 L69.85 400 L72.25 375 L74.64 350 L77.03 325 L79.42 300 L81.4 275 L83.37 250 L85.35 225 L87.32 200 L89.29 175 L91.26 150 L93.23 125 L95.19 100 L96.95 75 L98.71 50 L100.47 25 L102.22 0" fill="none" stroke="#000" stroke-width="0.45" vector-effect="non-scaling-stroke"/>
<path d="M10.24 1000 L12.57 975 L14.91 950 L17.24 925 L19.57 900 L25.08 875 L30.58 850 L36.08 825 L41.57 800 L45.99 775 L50.4 750 L54.81 725 L59.21 700 L63.82 675 L68.42 650 L73.01 625 L77.6 600 L81.97 575 L86.33 550 L90.69 525 L95.04 500 L98.54 475 L102.04 450 L105.53 425 L109.02 400 L112.3 375 L115.56 350 L118.83 325 L122.09 300 L124.92 275 L127.76 250 L130.59 225 L133.41 200 L136.02 175 L138.63 150 L141.23 125 L143.83 100 L145.6 75 L147.36 50 L149.12 25 L150.88 0" fill="none" stroke="#000" stroke-width="0.45" vector-effect="non-scaling-stroke"/>
<path d="M20.87 1000 L26.4 975 L31.86 950 L37.23 925 L42.52 900 L49.48 875 L56.39 850 L62.86 825 L69.88 800 L75.1 775 L80.29 750 L85.46 725 L90.58 700 L95.5 675 L100.42 650 L105.33 625 L110.23 600 L114.93 575 L119.6 550 L124.25 525 L128.87 500 L132.81 475 L136.73 450 L140.64 425 L144.55 400 L148.11 375 L151.66 350 L155.21 325 L158.75 300 L161.71 275 L164.67 250 L167.62 225 L170.56 200 L173.43 175 L176.29 150 L179.15 125 L182 100 L184.17 75 L186.34 50 L188.5 25 L190.66 0" fill="none" stroke="#000" stroke-width="0.45" vector-effect="non-scaling-stroke"/>
<path d="M28.55 1000 L36.51 975 L44.45 950 L52.37 925 L60.27 900 L68.58 875 L76.88 850 L85.15 825 L93.4 800 L99.92 775 L106.42 750 L112.91 725 L119.38 700 L124.78 675 L130.15 650 L135.52 625 L140.87 600 L145.36 575 L149.84 550 L154.3 525 L158.76 500 L162.78 475 L166.79 450 L170.8 425 L174.79 400 L178.35 375 L181.9 350 L185.44 325 L188.98 300 L191.87 275 L194.76 250 L197.65 225 L200.52 200 L203.39 175 L206.25 150 L209.1 125 L211.94 100 L214.36 75 L216.78 50 L219.19 25 L221.59 0" fill="none" stroke="#000" stroke-width="0.45" vector-effect="non-scaling-stroke"/>
<path d="M36.14 1000 L45.56 975 L54.94 950 L64.29 925 L73.6 900 L83.99 875 L94.34 850 L104.68 825 L114.98 800 L123.21 775 L131.4 750 L139.57 725 L147.71 700 L153.84 675 L159.98 650 L166.12 625 L172.24 600 L176.98 575 L181.71 550 L186.44 525 L191.16 500 L195.29 475 L199.41 450 L203.54 425 L207.65 400 L211.38 375 L215.09 350 L218.79 325 L222.47 300 L225.86 275 L229.24 250 L232.61 225 L235.98 200 L238.79 175 L241.59 150 L244.38 125 L247.17 100 L249.5 75 L251.83 50 L254.14 25 L256.45 0" fill="none" stroke="#000" stroke-width="0.45" vector-effect="non-scaling-stroke"/>
<path d="M43.7 1000 L54.32 975 L64.89 950 L75.42 925 L85.92 900 L98.11 875 L110.26 850 L122.37 825 L134.43 800 L144.51 775 L154.55 750 L164.56 725 L174.53 700 L182.12 675 L189.67 650 L197.2 625 L204.7 600 L210.26 575 L215.8 550 L221.32 525 L226.82 500 L231.45 475 L236.07 450 L240.67 425 L245.25 400 L249.18 375 L253.1 350 L257 325 L260.89 300 L264.76 275 L268.61 250 L272.45 225 L276.27 200 L279.04 175 L281.8 150 L284.55 125 L287.29 100 L289.41 75 L291.51 50 L293.6 25 L295.69 0" fill="none" stroke="#000" stroke-width="0.45" vector-effect="non-scaling-stroke"/>
<path d="M51.6 1000 L63.27 975 L74.89 950 L86.46 925 L97.98 900 L110.95 875 L123.88 850 L136.74 825 L149.55 800 L161.23 775 L172.85 750 L184.43 725 L195.95 700 L205.92 675 L215.86 650 L225.74 625 L235.58 600 L243.27 575 L250.92 550 L258.53 525 L266.11 500 L272.81 475 L279.49 450 L286.13 425 L292.73 400 L296.82 375 L300.89 350 L304.94 325 L308.96 300 L312.15 275 L315.31 250 L318.46 225 L321.59 200 L324.5 175 L327.39 150 L330.27 125 L333.13 100 L334.96 75 L336.78 50 L338.59 25 L340.39 0" fill="none" stroke="#000" stroke-width="0.45" vector-effect="non-scaling-stroke"/>
<path d="M57.86 1000 L68.7 975 L79.47 950 L90.17 925 L100.79 900 L115.75 875 L130.6 850 L145.35 825 L160 800 L173.93 775 L187.77 750 L201.51 725 L215.15 700 L227.07 675 L238.91 650 L250.66 625 L262.32 600 L270.68 575 L278.98 550 L287.22 525 L295.39 500 L301.32 475 L307.21 450 L313.04 425 L318.82 400 L324.17 375 L329.47 350 L334.73 325 L339.94 300 L343.95 275 L347.92 250 L351.85 225 L355.75 200 L359.04 175 L362.3 150 L365.52 125 L368.72 100 L371.31 75 L373.88 50 L376.42 25 L378.93 0" fill="none" stroke="#000" stroke-width="0.45" vector-effect="non-scaling-stroke"/>
<path d="M63.78 1000 L75.2 975 L86.46 950 L97.56 925 L108.51 900 L121.71 875 L134.73 850 L147.56 825 L160.2 800 L174.46 775 L188.5 750 L202.33 725 L215.95 700 L229 675 L241.84 650 L254.48 625 L266.9 600 L278.43 575 L289.76 550 L300.9 525 L311.83 500 L321.58 475 L331.13 450 L340.51 425 L349.7 400 L356.3 375 L362.75 350 L369.05 325 L375.21 300 L379.51 275 L383.69 250 L387.76 225 L391.71 200 L394.48 175 L397.15 150 L399.72 125 L402.2 100 L403.98 75 L405.68 50 L407.29 25 L408.81 0" fill="none" stroke="#000" stroke-width="0.45" vector-effect="non-scaling-stroke"/>
<rect x="0" y="0" width="1000" height="1000" fill="none" stroke="#222" stroke-width="0.5" vector-effect="non-scaling-stroke"/>
</g>
<g transform="matrix(0.10020 0.03230 -0.06740 0.04750 533.90000 173.10000)">
<rect x="0" y="0" width="1000" height="1000" fill="#ffffff"/>
<path d="M0 1000 L0 975 L0 950 L0 925 L0 900 L0 875 L0 850 L0 825 L0 800 L0 775 L0 750 L0 725 L0 700 L0 675 L0 650 L0 625 L1.13 600 L6.1 575 L9.58 550 L13.06 525 L16.54 500 L19.8 475 L23.06 450 L26.32 425 L29.57 400 L32.18 375 L34.78 350 L37.38 325 L39.98 300 L42.36 275 L44.75 250 L47.13 225 L49.51 200 L51.67 175 L53.83 150 L55.99 125 L58.15 100 L60.09 75 L62.04 50 L63.98 25 L65.92 0 L1000 0 L1000 1000Z" fill="#e6f0f8"/>
<path d="M0 1000 L0 975 L0 950 L0 925 L0 900 L0 875 L0 850 L8.55 825 L11.4 800 L16.88 775 L22.36 750 L27.82 725 L33.29 700 L38.09 675 L42.9 650 L47.69 625 L52.49 600 L55.53 575 L58.57 550 L61.61 525 L64.64 500 L67.24 475 L69.83 450 L72.43 425 L75.02 400 L77.61 375 L80.19 350 L82.78 325 L85.36 300 L87.51 275 L89.65 250 L91.8 225 L93.94 200 L96.08 175 L98.22 150 L100.36 125 L102.49 100 L104.41 75 L106.32 50 L108.24 25 L110.15 0 L1000 0 L1000 1000Z" fill="#cce2f1"/>
<path d="M10.8 1000 L13.26 975 L15.73 950 L18.19 925 L20.65 900 L26.48 875 L32.3 850 L38.11 825 L43.92 800 L48.61 775 L53.28 750 L57.96 725 L62.63 700 L67.52 675 L72.41 650 L77.29 625 L82.16 600 L86.81 575 L91.46 550 L96.1 525 L100.73 500 L104.47 475 L108.21 450 L111.94 425 L115.67 400 L119.17 375 L122.68 350 L126.17 325 L129.67 300 L132.71 275 L135.76 250 L138.8 225 L141.84 200 L144.65 175 L147.46 150 L150.27 125 L153.08 100 L154.99 75 L156.91 50 L158.83 25 L160.74 0 L1000 0 L1000 1000Z" fill="#b2d3ea"/>
<path d="M21.84 1000 L27.63 975 L33.35 950 L38.98 925 L44.54 900 L51.84 875 L59.1 850 L65.91 825 L73.29 800 L78.78 775 L84.25 750 L89.7 725 L95.11 700 L100.3 675 L105.5 650 L110.69 625 L115.87 600 L120.85 575 L125.8 550 L130.73 525 L135.64 500 L139.82 475 L143.99 450 L148.16 425 L152.32 400 L156.12 375 L159.91 350 L163.7 325 L167.48 300 L170.66 275 L173.84 250 L177.01 225 L180.17 200 L183.26 175 L186.34 150 L189.41 125 L192.49 100 L194.84 75 L197.2 50 L199.55 25 L201.9 0 L1000 0 L1000 1000Z" fill="#99c4e3"/>
<path d="M29.94 1000 L38.3 975 L46.65 950 L54.99 925 L63.31 900 L72.07 875 L80.82 850 L89.55 825 L98.27 800 L105.17 775 L112.07 750 L118.95 725 L125.82 700 L131.56 675 L137.29 650 L143 625 L148.71 600 L153.52 575 L158.32 550 L163.11 525 L167.89 500 L172.22 475 L176.54 450 L180.85 425 L185.16 400 L189.01 375 L192.86 350 L196.7 325 L200.53 300 L203.7 275 L206.86 250 L210.01 225 L213.16 200 L216.3 175 L219.44 150 L222.57 125 L225.7 100 L228.38 75 L231.05 50 L233.72 25 L236.39 0 L1000 0 L1000 1000Z" fill="#80b6dc"/>
<path d="M37.94 1000 L47.86 975 L57.75 950 L67.61 925 L77.45 900 L88.43 875 L99.39 850 L110.33 825 L121.25 800 L130 775 L138.73 750 L147.43 725 L156.11 700 L162.69 675 L169.27 650 L175.86 625 L182.45 600 L187.57 575 L192.7 550 L197.82 525 L202.95 500 L207.45 475 L211.95 450 L216.46 425 L220.96 400 L225.05 375 L229.13 350 L233.21 325 L237.27 300 L241.03 275 L244.78 250 L248.52 225 L252.26 200 L255.42 175 L258.57 150 L261.71 125 L264.85 100 L267.51 75 L270.16 50 L272.81 25 L275.45 0 L1000 0 L1000 1000Z" fill="#66a7d4"/>
<path d="M45.96 1000 L57.16 975 L68.34 950 L79.49 925 L90.61 900 L103.55 875 L116.45 850 L129.32 825 L142.17 800 L152.94 775 L163.68 750 L174.41 725 L185.1 700 L193.29 675 L201.45 650 L209.6 625 L217.72 600 L223.8 575 L229.87 550 L235.92 525 L241.95 500 L247.08 475 L252.19 450 L257.29 425 L262.38 400 L266.79 375 L271.18 350 L275.57 325 L279.94 300 L284.31 275 L288.66 250 L293.01 225 L297.34 200 L300.55 175 L303.76 150 L306.96 125 L310.15 100 L312.67 75 L315.19 50 L317.7 25 L320.2 0 L1000 0 L1000 1000Z" fill="#4d98cd"/>
<path d="M54.28 1000 L66.61 975 L78.91 950 L91.18 925 L103.41 900 L117.21 875 L130.98 850 L144.7 825 L158.39 800 L170.91 775 L183.4 750 L195.85 725 L208.26 700 L219.06 675 L229.83 650 L240.57 625 L251.28 600 L259.72 575 L268.13 550 L276.51 525 L284.88 500 L292.32 475 L299.74 450 L307.15 425 L314.53 400 L319.22 375 L323.9 350 L328.56 325 L333.21 300 L336.96 275 L340.7 250 L344.42 225 L348.14 200 L351.63 175 L355.1 150 L358.56 125 L362.01 100 L364.36 75 L366.7 50 L369.03 25 L371.35 0 L1000 0 L1000 1000Z" fill="#3389c6"/>
<path d="M62.23 1000 L74 975 L85.74 950 L97.43 925 L109.08 900 L125.46 875 L141.77 850 L158.03 825 L174.23 800 L189.7 775 L205.12 750 L220.48 725 L235.79 700 L249.25 675 L262.67 650 L276.04 625 L289.36 600 L299.07 575 L308.75 550 L318.4 525 L328 500 L335.15 475 L342.27 450 L349.36 425 L356.42 400 L363.02 375 L369.6 350 L376.14 325 L382.66 300 L387.86 275 L393.03 250 L398.18 225 L403.3 200 L407.76 175 L412.2 150 L416.62 125 L421.03 100 L424.77 75 L428.49 50 L432.2 25 L435.89 0 L1000 0 L1000 1000Z" fill="#197bbf"/>
<path d="M69.69 1000 L82.36 975 L94.92 950 L107.37 925 L119.72 900 L134.63 875 L149.4 850 L164.05 825 L178.57 800 L194.97 775 L211.23 750 L227.34 725 L243.3 700 L258.72 675 L273.99 650 L289.12 625 L304.1 600 L318.15 575 L332.07 550 L345.85 525 L359.49 500 L371.85 475 L384.08 450 L396.18 425 L408.15 400 L417.18 375 L426.1 350 L434.92 325 L443.64 300 L450.23 275 L456.74 250 L463.16 225 L469.51 200 L474.5 175 L479.42 150 L484.28 125 L489.06 100 L493.07 75 L497.01 50 L500.88 25 L504.7 0 L1000 0 L1000 1000Z" fill="#fb6a2a"/>
<path d="M0 625 L1.13 600 L6.1 575 L9.58 550 L13.06 525 L16.54 500 L19.8 475 L23.06 450 L26.32 425 L29.57 400 L32.18 375 L34.78 350 L37.38 325 L39.98 300 L42.36 275 L44.75 250 L47.13 225 L49.51 200 L51.67 175 L53.83 150 L55.99 125 L58.15 100 L60.09 75 L62.04 50 L63.98 25 L65.92 0" fill="none" stroke="#000" stroke-width="0.45" vector-effect="non-scaling-stroke"/>
<path d="M0 850 L8.55 825 L11.4 800 L16.88 775 L22.36 750 L27.82 725 L33.29 700 L38.09 675 L42.9 650 L47.69 625 L52.49 600 L55.53 575 L58.57 550 L61.61 525 L64.64 500 L67.24 475 L69.83 450 L72.43 425 L75.02 400 L77.61 375 L80.19 350 L82.78 325 L85.36 300 L87.51 275 L89.65 250 L91.8 225 L93.94 200 L96.08 175 L98.22 150 L100.36 125 L102.49 100 L104.41 75 L106.32 50 L108.24 25 L110.15 0" fill="none" stroke="#000" stroke-width="0.45" vector-effect="non-scaling-stroke"/>
<path d="M10.8 1000 L13.26 975 L15.73 950 L18.19 925 L20.65 900 L26.48 875 L32.3 850 L38.11 825 L43.92 800 L48.61 775 L53.28 750 L57.96 725 L62.63 700 L67.52 675 L72.41 650 L77.29 625 L82.16 600 L86.81 575 L91.46 550 L96.1 525 L100.73 500 L104.47 475 L108.21 450 L111.94 425 L115.67 400 L119.17 375 L122.68 350 L126.17 325 L129.67 300 L132.71 275 L135.76 250 L138.8 225 L141.84 200 L144.65 175 L147.46 150 L150.27 125 L153.08 100 L154.99 75 L156.91 50 L158.83 25 L160.74 0" fill="none" stroke="#000" stroke-width="0.45" vector-effect="non-scaling-stroke"/>
<path d="M21.84 1000 L27.63 975 L33.35 950 L38.98 925 L44.54 900 L51.84 875 L59.1 850 L65.91 825 L73.29 800 L78.78 775 L84.25 750 L89.7 725 L95.11 700 L100.3 675 L105.5 650 L110.69 625 L115.87 600 L120.85 575 L125.8 550 L130.73 525 L135.64 500 L139.82 475 L143.99 450 L148.16 425 L152.32 400 L156.12 375 L159.91 350 L163.7 325 L167.48 300 L170.66 275 L173.84 250 L177.01 225 L180.17 200 L183.26 175 L186.34 150 L189.41 125 L192.49 100 L194.84 75 L197.2 50 L199.55 25 L201.9 0" fill="none" stroke="#000" stroke-width="0.45" vector-effect="non-scaling-stroke"/>
<path d="M29.94 1000 L38.3 975 L46.65 950 L54.99 925 L63.31 900 L72.07 875 L80.82 850 L89.55 825 L98.27 800 L105.17 775 L112.07 750 L118.95 725 L125.82 700 L131.56 675 L137.29 650 L143 625 L148.71 600 L153.52 575 L158.32 550 L163.11 525 L167.89 500 L172.22 475 L176.54 450 L180.85 425 L185.16 400 L189.01 375 L192.86 350 L196.7 325 L200.53 300 L203.7 275 L206.86 250 L210.01 225 L213.16 200 L216.3 175 L219.44 150 L222.57 125 L225.7 100 L228.38 75 L231.05 50 L233.72 25 L236.39 0" fill="none" stroke="#000" stroke-width="0.45" vector-effect="non-scaling-stroke"/>
<path d="M37.94 1000 L47.86 975 L57.75 950 L67.61 925 L77.45 900 L88.43 875 L99.39 850 L110.33 825 L121.25 800 L130 775 L138.73 750 L147.43 725 L156.11 700 L162.69 675 L169.27 650 L175.86 625 L182.45 600 L187.57 575 L192.7 550 L197.82 525 L202.95 500 L207.45 475 L211.95 450 L216.46 425 L220.96 400 L225.05 375 L229.13 350 L233.21 325 L237.27 300 L241.03 275 L244.78 250 L248.52 225 L252.26 200 L255.42 175 L258.57 150 L261.71 125 L264.85 100 L267.51 75 L270.16 50 L272.81 25 L275.45 0" fill="none" stroke="#000" stroke-width="0.45" vector-effect="non-scaling-stroke"/>
<path d="M45.96 1000 L57.16 975 L68.34 950 L79.49 925 L90.61 900 L103.55 875 L116.45 850 L129.32 825 L142.17 800 L152.94 775 L163.68 750 L174.41 725 L185.1 700 L193.29 675 L201.45 650 L209.6 625 L217.72 600 L223.8 575 L229.87 550 L235.92 525 L241.95 500 L247.08 475 L252.19 450 L257.29 425 L262.38 400 L266.79 375 L271.18 350 L275.57 325 L279.94 300 L284.31 275 L288.66 250 L293.01 225 L297.34 200 L300.55 175 L303.76 150 L306.96 125 L310.15 100 L312.67 75 L315.19 50 L317.7 25 L320.2 0" fill="none" stroke="#000" stroke-width="0.45" vector-effect="non-scaling-stroke"/>
<path d="M54.28 1000 L66.61 975 L78.91 950 L91.18 925 L103.41 900 L117.21 875 L130.98 850 L144.7 825 L158.39 800 L170.91 775 L183.4 750 L195.85 725 L208.26 700 L219.06 675 L229.83 650 L240.57 625 L251.28 600 L259.72 575 L268.13 550 L276.51 525 L284.88 500 L292.32 475 L299.74 450 L307.15 425 L314.53 400 L319.22 375 L323.9 350 L328.56 325 L333.21 300 L336.96 275 L340.7 250 L344.42 225 L348.14 200 L351.63 175 L355.1 150 L358.56 125 L362.01 100 L364.36 75 L366.7 50 L369.03 25 L371.35 0" fill="none" stroke="#000" stroke-width="0.45" vector-effect="non-scaling-stroke"/>
<path d="M62.23 1000 L74 975 L85.74 950 L97.43 925 L109.08 900 L125.46 875 L141.77 850 L158.03 825 L174.23 800 L189.7 775 L205.12 750 L220.48 725 L235.79 700 L249.25 675 L262.67 650 L276.04 625 L289.36 600 L299.07 575 L308.75 550 L318.4 525 L328 500 L335.15 475 L342.27 450 L349.36 425 L356.42 400 L363.02 375 L369.6 350 L376.14 325 L382.66 300 L387.86 275 L393.03 250 L398.18 225 L403.3 200 L407.76 175 L412.2 150 L416.62 125 L421.03 100 L424.77 75 L428.49 50 L432.2 25 L435.89 0" fill="none" stroke="#000" stroke-width="0.45" vector-effect="non-scaling-stroke"/>
<path d="M69.69 1000 L82.36 975 L94.92 950 L107.37 925 L119.72 900 L134.63 875 L149.4 850 L164.05 825 L178.57 800 L194.97 775 L211.23 750 L227.34 725 L243.3 700 L258.72 675 L273.99 650 L289.12 625 L304.1 600 L318.15 575 L332.07 550 L345.85 525 L359.49 500 L371.85 475 L384.08 450 L396.18 425 L408.15 400 L417.18 375 L426.1 350 L434.92 325 L443.64 300 L450.23 275 L456.74 250 L463.16 225 L469.51 200 L474.5 175 L479.42 150 L484.28 125 L489.06 100 L493.07 75 L497.01 50 L500.88 25 L504.7 0" fill="none" stroke="#000" stroke-width="0.45" vector-effect="non-scaling-stroke"/>
<rect x="0" y="0" width="1000" height="1000" fill="none" stroke="#222" stroke-width="0.5" vector-effect="non-scaling-stroke"/>
</g>
<g transform="matrix(0.10020 0.03230 -0.06740 0.04750 533.90000 100.80000)">
<rect x="0" y="0" width="1000" height="1000" fill="#ffffff"/>
<path d="M0 1000 L0 975 L0 950 L0 925 L0 900 L0 875 L0 850 L0 825 L0 800 L0 775 L0 750 L0 725 L0 700 L0 675 L0 650 L0 625 L1.22 600 L6.59 575 L10.36 550 L14.13 525 L17.89 500 L21.42 475 L24.95 450 L28.48 425 L32.01 400 L34.83 375 L37.65 350 L40.47 325 L43.29 300 L45.87 275 L48.46 250 L51.04 225 L53.63 200 L55.97 175 L58.32 150 L60.67 125 L63.02 100 L65.13 75 L67.24 50 L69.35 25 L71.46 0 L1000 0 L1000 1000Z" fill="#e6f0f8"/>
<path d="M0 1000 L0 975 L0 950 L0 925 L0 900 L0 875 L0 850 L9.21 825 L12.28 800 L18.18 775 L24.08 750 L29.98 725 L35.88 700 L41.07 675 L46.25 650 L51.43 625 L56.62 600 L59.91 575 L63.2 550 L66.5 525 L69.79 500 L72.6 475 L75.42 450 L78.24 425 L81.05 400 L83.87 375 L86.68 350 L89.5 325 L92.31 300 L94.65 275 L96.99 250 L99.33 225 L101.67 200 L104.01 175 L106.34 150 L108.68 125 L111.02 100 L113.12 75 L115.21 50 L117.31 25 L119.41 0 L1000 0 L1000 1000Z" fill="#cce2f1"/>
<path d="M11.4 1000 L14.01 975 L16.62 950 L19.23 925 L21.83 900 L28 875 L34.16 850 L40.32 825 L46.47 800 L51.44 775 L56.41 750 L61.37 725 L66.34 700 L71.53 675 L76.73 650 L81.92 625 L87.11 600 L92.06 575 L97.01 550 L101.95 525 L106.9 500 L110.9 475 L114.89 450 L118.88 425 L122.87 400 L126.63 375 L130.38 350 L134.13 325 L137.88 300 L141.15 275 L144.43 250 L147.7 225 L150.97 200 L154 175 L157.03 150 L160.06 125 L163.09 100 L165.18 75 L167.26 50 L169.35 25 L171.43 0 L1000 0 L1000 1000Z" fill="#b2d3ea"/>
<path d="M22.83 1000 L28.89 975 L34.88 950 L40.78 925 L46.6 900 L54.26 875 L61.87 850 L69.02 825 L76.77 800 L82.55 775 L88.31 750 L94.04 725 L99.74 700 L105.22 675 L110.7 650 L116.18 625 L121.66 600 L126.91 575 L132.15 550 L137.36 525 L142.56 500 L147 475 L151.43 450 L155.85 425 L160.27 400 L164.32 375 L168.36 350 L172.4 325 L176.43 300 L179.83 275 L183.23 250 L186.62 225 L190.01 200 L193.32 175 L196.63 150 L199.93 125 L203.23 100 L205.78 75 L208.32 50 L210.87 25 L213.41 0 L1000 0 L1000 1000Z" fill="#99c4e3"/>
<path d="M31.35 1000 L40.12 975 L48.89 950 L57.65 925 L66.4 900 L75.62 875 L84.83 850 L94.03 825 L103.22 800 L110.52 775 L117.81 750 L125.09 725 L132.37 700 L138.46 675 L144.54 650 L150.62 625 L156.7 600 L161.82 575 L166.94 550 L172.06 525 L177.17 500 L181.81 475 L186.45 450 L191.08 425 L195.7 400 L199.86 375 L204.01 350 L208.15 325 L212.29 300 L215.73 275 L219.16 250 L222.59 225 L226.01 200 L229.44 175 L232.86 150 L236.27 125 L239.69 100 L242.63 75 L245.57 50 L248.51 25 L251.45 0 L1000 0 L1000 1000Z" fill="#80b6dc"/>
<path d="M39.61 1000 L49.98 975 L60.34 950 L70.67 925 L81 900 L92.52 875 L104.03 850 L115.54 825 L127.04 800 L136.27 775 L145.48 750 L154.68 725 L163.86 700 L170.84 675 L177.84 650 L184.85 625 L191.86 600 L197.34 575 L202.82 550 L208.31 525 L213.81 500 L218.66 475 L223.51 450 L228.36 425 L233.23 400 L237.66 375 L242.08 350 L246.5 325 L250.92 300 L255.01 275 L259.1 250 L263.18 225 L267.27 200 L270.74 175 L274.21 150 L277.68 125 L281.14 100 L284.1 75 L287.06 50 L290.01 25 L292.95 0 L1000 0 L1000 1000Z" fill="#66a7d4"/>
<path d="M47.62 1000 L59.25 975 L70.86 950 L82.46 925 L94.05 900 L107.52 875 L120.97 850 L134.41 825 L147.83 800 L159.11 775 L170.36 750 L181.61 725 L192.84 700 L201.46 675 L210.07 650 L218.67 625 L227.25 600 L233.71 575 L240.16 550 L246.6 525 L253.03 500 L258.51 475 L263.99 450 L269.46 425 L274.92 400 L279.67 375 L284.42 350 L289.16 325 L293.89 300 L298.62 275 L303.34 250 L308.05 225 L312.76 200 L316.3 175 L319.83 150 L323.35 125 L326.88 100 L329.7 75 L332.51 50 L335.32 25 L338.13 0 L1000 0 L1000 1000Z" fill="#4d98cd"/>
<path d="M55.97 1000 L68.72 975 L81.45 950 L94.16 925 L106.85 900 L121.17 875 L135.47 850 L149.74 825 L163.99 800 L177.04 775 L190.07 750 L203.08 725 L216.06 700 L227.38 675 L238.68 650 L249.97 625 L261.23 600 L270.14 575 L279.03 550 L287.9 525 L296.76 500 L304.67 475 L312.57 450 L320.46 425 L328.33 400 L333.4 375 L338.47 350 L343.52 325 L348.56 300 L352.67 275 L356.77 250 L360.87 225 L364.95 200 L368.8 175 L372.65 150 L376.48 125 L380.31 100 L382.98 75 L385.65 50 L388.31 25 L390.96 0 L1000 0 L1000 1000Z" fill="#3389c6"/>
<path d="M64.69 1000 L76.99 975 L89.26 950 L101.51 925 L113.73 900 L130.91 875 L148.05 850 L165.16 825 L182.23 800 L198.57 775 L214.87 750 L231.15 725 L247.39 700 L261.72 675 L276.02 650 L290.3 625 L304.55 600 L315.02 575 L325.48 550 L335.91 525 L346.33 500 L354.16 475 L361.97 450 L369.77 425 L377.55 400 L384.86 375 L392.14 350 L399.42 325 L406.68 300 L412.53 275 L418.37 250 L424.21 225 L430.03 200 L435.14 175 L440.25 150 L445.34 125 L450.42 100 L454.81 75 L459.18 50 L463.55 25 L467.91 0 L1000 0 L1000 1000Z" fill="#197bbf"/>
<path d="M78.52 1000 L93.06 975 L107.58 950 L122.05 925 L136.49 900 L153.94 875 L171.36 850 L188.73 825 L206.05 800 L225.67 775 L245.24 750 L264.76 725 L284.23 700 L303.18 675 L322.09 650 L340.94 625 L359.75 600 L377.59 575 L395.37 550 L413.11 525 L430.81 500 L447.07 475 L463.29 450 L479.47 425 L495.61 400 L508.27 375 L520.89 350 L533.48 325 L546.03 300 L556.05 275 L566.03 250 L575.99 225 L585.92 200 L594.23 175 L602.52 150 L610.79 125 L619.03 100 L626.35 75 L633.65 50 L640.92 25 L648.18 0 L1000 0 L1000 1000Z" fill="#fb6a2a"/>
<path d="M0 625 L1.22 600 L6.59 575 L10.36 550 L14.13 525 L17.89 500 L21.42 475 L24.95 450 L28.48 425 L32.01 400 L34.83 375 L37.65 350 L40.47 325 L43.29 300 L45.87 275 L48.46 250 L51.04 225 L53.63 200 L55.97 175 L58.32 150 L60.67 125 L63.02 100 L65.13 75 L67.24 50 L69.35 25 L71.46 0" fill="none" stroke="#000" stroke-width="0.45" vector-effect="non-scaling-stroke"/>
<path d="M0 850 L9.21 825 L12.28 800 L18.18 775 L24.08 750 L29.98 725 L35.88 700 L41.07 675 L46.25 650 L51.43 625 L56.62 600 L59.91 575 L63.2 550 L66.5 525 L69.79 500 L72.6 475 L75.42 450 L78.24 425 L81.05 400 L83.87 375 L86.68 350 L89.5 325 L92.31 300 L94.65 275 L96.99 250 L99.33 225 L101.67 200 L104.01 175 L106.34 150 L108.68 125 L111.02 100 L113.12 75 L115.21 50 L117.31 25 L119.41 0" fill="none" stroke="#000" stroke-width="0.45" vector-effect="non-scaling-stroke"/>
<path d="M11.4 1000 L14.01 975 L16.62 950 L19.23 925 L21.83 900 L28 875 L34.16 850 L40.32 825 L46.47 800 L51.44 775 L56.41 750 L61.37 725 L66.34 700 L71.53 675 L76.73 650 L81.92 625 L87.11 600 L92.06 575 L97.01 550 L101.95 525 L106.9 500 L110.9 475 L114.89 450 L118.88 425 L122.87 400 L126.63 375 L130.38 350 L134.13 325 L137.88 300 L141.15 275 L144.43 250 L147.7 225 L150.97 200 L154 175 L157.03 150 L160.06 125 L163.09 100 L165.18 75 L167.26 50 L169.35 25 L171.43 0" fill="none" stroke="#000" stroke-width="0.45" vector-effect="non-scaling-stroke"/>
<path d="M22.83 1000 L28.89 975 L34.88 950 L40.78 925 L46.6 900 L54.26 875 L61.87 850 L69.02 825 L76.77 800 L82.55 775 L88.31 750 L94.04 725 L99.74 700 L105.22 675 L110.7 650 L116.18 625 L121.66 600 L126.91 575 L132.15 550 L137.36 525 L142.56 500 L147 475 L151.43 450 L155.85 425 L160.27 400 L164.32 375 L168.36 350 L172.4 325 L176.43 300 L179.83 275 L183.23 250 L186.62 225 L190.01 200 L193.32 175 L196.63 150 L199.93 125 L203.23 100 L205.78 75 L208.32 50 L210.87 25 L213.41 0" fill="none" stroke="#000" stroke-width="0.45" vector-effect="non-scaling-stroke"/>
<path d="M31.35 1000 L40.12 975 L48.89 950 L57.65 925 L66.4 900 L75.62 875 L84.83 850 L94.03 825 L103.22 800 L110.52 775 L117.81 750 L125.09 725 L132.37 700 L138.46 675 L144.54 650 L150.62 625 L156.7 600 L161.82 575 L166.94 550 L172.06 525 L177.17 500 L181.81 475 L186.45 450 L191.08 425 L195.7 400 L199.86 375 L204.01 350 L208.15 325 L212.29 300 L215.73 275 L219.16 250 L222.59 225 L226.01 200 L229.44 175 L232.86 150 L236.27 125 L239.69 100 L242.63 75 L245.57 50 L248.51 25 L251.45 0" fill="none" stroke="#000" stroke-width="0.45" vector-effect="non-scaling-stroke"/>
<path d="M39.61 1000 L49.98 975 L60.34 950 L70.67 925 L81 900 L92.52 875 L104.03 850 L115.54 825 L127.04 800 L136.27 775 L145.48 750 L154.68 725 L163.86 700 L170.84 675 L177.84 650 L184.85 625 L191.86 600 L197.34 575 L202.82 550 L208.31 525 L213.81 500 L218.66 475 L223.51 450 L228.36 425 L233.23 400 L237.66 375 L242.08 350 L246.5 325 L250.92 300 L255.01 275 L259.1 250 L263.18 225 L267.27 200 L270.74 175 L274.21 150 L277.68 125 L281.14 100 L284.1 75 L287.06 50 L290.01 25 L292.95 0" fill="none" stroke="#000" stroke-width="0.45" vector-effect="non-scaling-stroke"/>
<path d="M47.62 1000 L59.25 975 L70.86 950 L82.46 925 L94.05 900 L107.52 875 L120.97 850 L134.41 825 L147.83 800 L159.11 775 L170.36 750 L181.61 725 L192.84 700 L201.46 675 L210.07 650 L218.67 625 L227.25 600 L233.71 575 L240.16 550 L246.6 525 L253.03 500 L258.51 475 L263.99 450 L269.46 425 L274.92 400 L279.67 375 L284.42 350 L289.16 325 L293.89 300 L298.62 275 L303.34 250 L308.05 225 L312.76 200 L316.3 175 L319.83 150 L323.35 125 L326.88 100 L329.7 75 L332.51 50 L335.32 25 L338.13 0" fill="none" stroke="#000" stroke-width="0.45" vector-effect="non-scaling-stroke"/>
<path d="M55.97 1000 L68.72 975 L81.45 950 L94.16 925 L106.85 900 L121.17 875 L135.47 850 L149.74 825 L163.99 800 L177.04 775 L190.07 750 L203.08 725 L216.06 700 L227.38 675 L238.68 650 L249.97 625 L261.23 600 L270.14 575 L279.03 550 L287.9 525 L296.76 500 L304.67 475 L312.57 450 L320.46 425 L328.33 400 L333.4 375 L338.47 350 L343.52 325 L348.56 300 L352.67 275 L356.77 250 L360.87 225 L364.95 200 L368.8 175 L372.65 150 L376.48 125 L380.31 100 L382.98 75 L385.65 50 L388.31 25 L390.96 0" fill="none" stroke="#000" stroke-width="0.45" vector-effect="non-scaling-stroke"/>
<path d="M64.69 1000 L76.99 975 L89.26 950 L101.51 925 L113.73 900 L130.91 875 L148.05 850 L165.16 825 L182.23 800 L198.57 775 L214.87 750 L231.15 725 L247.39 700 L261.72 675 L276.02 650 L290.3 625 L304.55 600 L315.02 575 L325.48 550 L335.91 525 L346.33 500 L354.16 475 L361.97 450 L369.77 425 L377.55 400 L384.86 375 L392.14 350 L399.42 325 L406.68 300 L412.53 275 L418.37 250 L424.21 225 L430.03 200 L435.14 175 L440.25 150 L445.34 125 L450.42 100 L454.81 75 L459.18 50 L463.55 25 L467.91 0" fill="none" stroke="#000" stroke-width="0.45" vector-effect="non-scaling-stroke"/>
<path d="M78.52 1000 L93.06 975 L107.58 950 L122.05 925 L136.49 900 L153.94 875 L171.36 850 L188.73 825 L206.05 800 L225.67 775 L245.24 750 L264.76 725 L284.23 700 L303.18 675 L322.09 650 L340.94 625 L359.75 600 L377.59 575 L395.37 550 L413.11 525 L430.81 500 L447.07 475 L463.29 450 L479.47 425 L495.61 400 L508.27 375 L520.89 350 L533.48 325 L546.03 300 L556.05 275 L566.03 250 L575.99 225 L585.92 200 L594.23 175 L602.52 150 L610.79 125 L619.03 100 L626.35 75 L633.65 50 L640.92 25 L648.18 0" fill="none" stroke="#000" stroke-width="0.45" vector-effect="non-scaling-stroke"/>
<rect x="0" y="0" width="1000" height="1000" fill="none" stroke="#222" stroke-width="0.5" vector-effect="non-scaling-stroke"/>
</g>
<g transform="matrix(0.10020 0.03230 -0.06740 0.04750 533.90000 28.10000)">
<rect x="0" y="0" width="1000" height="1000" fill="#ffffff"/>
<path d="M0 1000 L0 975 L0 950 L0 925 L0 900 L0 875 L0 850 L0 825 L0 800 L0 775 L0 750 L0 725 L0 700 L0 675 L0 650 L0 625 L1.3 600 L7 575 L11 550 L15 525 L19 500 L22.75 475 L26.5 450 L30.25 425 L34 400 L37 375 L40 350 L43 325 L46 300 L48.75 275 L51.5 250 L54.25 225 L57 200 L59.5 175 L62 150 L64.5 125 L67 100 L69.25 75 L71.5 50 L73.75 25 L76 0 L1000 0 L1000 1000Z" fill="#e6f0f8"/>
<path d="M0 1000 L0 975 L0 950 L0 925 L0 900 L0 875 L0 850 L9.75 825 L13 800 L19.25 775 L25.5 750 L31.75 725 L38 700 L43.5 675 L49 650 L54.5 625 L60 600 L63.5 575 L67 550 L70.5 525 L74 500 L77 475 L80 450 L83 425 L86 400 L89 375 L92 350 L95 325 L98 300 L100.5 275 L103 250 L105.5 225 L108 200 L110.5 175 L113 150 L115.5 125 L118 100 L120.25 75 L122.5 50 L124.75 25 L127 0 L1000 0 L1000 1000Z" fill="#cce2f1"/>
<path d="M12 1000 L14.75 975 L17.5 950 L20.25 925 L23 900 L29.5 875 L36 850 L42.5 825 L49 800 L54.25 775 L59.5 750 L64.75 725 L70 700 L75.5 675 L81 650 L86.5 625 L92 600 L97.25 575 L102.5 550 L107.75 525 L113 500 L117.25 475 L121.5 450 L125.75 425 L130 400 L134 375 L138 350 L142 325 L146 300 L149.5 275 L153 250 L156.5 225 L160 200 L163.25 175 L166.5 150 L169.75 125 L173 100 L175.25 75 L177.5 50 L179.75 25 L182 0 L1000 0 L1000 1000Z" fill="#b2d3ea"/>
<path d="M23.94 1000 L30.31 975 L36.59 950 L42.8 925 L48.93 900 L56.98 875 L65 850 L72.52 825 L80.69 800 L86.79 775 L92.87 750 L98.93 725 L104.95 700 L110.75 675 L116.55 650 L122.35 625 L128.16 600 L133.73 575 L139.29 550 L144.82 525 L150.35 500 L155.07 475 L159.79 450 L164.51 425 L169.22 400 L173.54 375 L177.86 350 L182.18 325 L186.49 300 L190.14 275 L193.78 250 L197.43 225 L201.07 200 L204.63 175 L208.19 150 L211.75 125 L215.31 100 L218.07 75 L220.83 50 L223.59 25 L226.35 0 L1000 0 L1000 1000Z" fill="#99c4e3"/>
<path d="M33 1000 L42.25 975 L51.5 950 L60.75 925 L70 900 L79.75 875 L89.5 850 L99.25 825 L109 800 L116.75 775 L124.5 750 L132.25 725 L140 700 L146.5 675 L153 650 L159.5 625 L166 600 L171.5 575 L177 550 L182.5 525 L188 500 L193 475 L198 450 L203 425 L208 400 L212.5 375 L217 350 L221.5 325 L226 300 L229.75 275 L233.5 250 L237.25 225 L241 200 L244.75 175 L248.5 150 L252.25 125 L256 100 L259.25 75 L262.5 50 L265.75 25 L269 0 L1000 0 L1000 1000Z" fill="#80b6dc"/>
<path d="M41.64 1000 L52.58 975 L63.5 950 L74.42 925 L85.33 900 L97.52 875 L109.71 850 L121.91 825 L134.11 800 L143.92 775 L153.73 750 L163.54 725 L173.33 700 L180.81 675 L188.31 650 L195.83 625 L203.37 600 L209.28 575 L215.2 550 L221.14 525 L227.1 500 L232.36 475 L237.63 450 L242.92 425 L248.22 400 L253.06 375 L257.91 350 L262.75 325 L267.6 300 L272.1 275 L276.6 250 L281.11 225 L285.62 200 L289.48 175 L293.34 150 L297.2 125 L301.06 100 L304.39 75 L307.71 50 L311.04 25 L314.36 0 L1000 0 L1000 1000Z" fill="#66a7d4"/>
<path d="M50 1000 L62.25 975 L74.5 950 L86.75 925 L99 900 L113.25 875 L127.5 850 L141.75 825 L156 800 L168 775 L180 750 L192 725 L204 700 L213.25 675 L222.5 650 L231.75 625 L241 600 L248 575 L255 550 L262 525 L269 500 L275 475 L281 450 L287 425 L293 400 L298.25 375 L303.5 350 L308.75 325 L314 300 L319.25 275 L324.5 250 L329.75 225 L335 200 L339 175 L343 150 L347 125 L351 100 L354.25 75 L357.5 50 L360.75 25 L364 0 L1000 0 L1000 1000Z" fill="#4d98cd"/>
<path d="M59 1000 L72.5 975 L86 950 L99.5 925 L113 900 L128.25 875 L143.5 850 L158.75 825 L174 800 L188 775 L202 750 L216 725 L230 700 L242.25 675 L254.5 650 L266.75 625 L279 600 L288.75 575 L298.5 550 L308.25 525 L318 500 L326.75 475 L335.5 450 L344.25 425 L353 400 L358.75 375 L364.5 350 L370.25 325 L376 300 L380.75 275 L385.5 250 L390.25 225 L395 200 L399.5 175 L404 150 L408.5 125 L413 100 L416.25 75 L419.5 50 L422.75 25 L426 0 L1000 0 L1000 1000Z" fill="#3389c6"/>
<path d="M68 1000 L81 975 L94 950 L107 925 L120 900 L138.25 875 L156.5 850 L174.75 825 L193 800 L210.5 775 L228 750 L245.5 725 L263 700 L278.5 675 L294 650 L309.5 625 L325 600 L336.5 575 L348 550 L359.5 525 L371 500 L379.75 475 L388.5 450 L397.25 425 L406 400 L414.25 375 L422.5 350 L430.75 325 L439 300 L445.75 275 L452.5 250 L459.25 225 L466 200 L472 175 L478 150 L484 125 L490 100 L495.25 75 L500.5 50 L505.75 25 L511 0 L1000 0 L1000 1000Z" fill="#197bbf"/>
<path d="M83 1000 L98.5 975 L114 950 L129.5 925 L145 900 L163.75 875 L182.5 850 L201.25 825 L220 800 L241.25 775 L262.5 750 L283.75 725 L305 700 L325.75 675 L346.5 650 L367.25 625 L388 600 L407.75 575 L427.5 550 L447.25 525 L467 500 L485.25 475 L503.5 450 L521.75 425 L540 400 L554.5 375 L569 350 L583.5 325 L598 300 L609.75 275 L621.5 250 L633.25 225 L645 200 L655 175 L665 150 L675 125 L685 100 L694 75 L703 50 L712 25 L721 0 L1000 0 L1000 1000Z" fill="#fb6a2a"/>
<path d="M0 625 L1.3 600 L7 575 L11 550 L15 525 L19 500 L22.75 475 L26.5 450 L30.25 425 L34 400 L37 375 L40 350 L43 325 L46 300 L48.75 275 L51.5 250 L54.25 225 L57 200 L59.5 175 L62 150 L64.5 125 L67 100 L69.25 75 L71.5 50 L73.75 25 L76 0" fill="none" stroke="#000" stroke-width="0.45" vector-effect="non-scaling-stroke"/>
<path d="M0 850 L9.75 825 L13 800 L19.25 775 L25.5 750 L31.75 725 L38 700 L43.5 675 L49 650 L54.5 625 L60 600 L63.5 575 L67 550 L70.5 525 L74 500 L77 475 L80 450 L83 425 L86 400 L89 375 L92 350 L95 325 L98 300 L100.5 275 L103 250 L105.5 225 L108 200 L110.5 175 L113 150 L115.5 125 L118 100 L120.25 75 L122.5 50 L124.75 25 L127 0" fill="none" stroke="#000" stroke-width="0.45" vector-effect="non-scaling-stroke"/>
<path d="M12 1000 L14.75 975 L17.5 950 L20.25 925 L23 900 L29.5 875 L36 850 L42.5 825 L49 800 L54.25 775 L59.5 750 L64.75 725 L70 700 L75.5 675 L81 650 L86.5 625 L92 600 L97.25 575 L102.5 550 L107.75 525 L113 500 L117.25 475 L121.5 450 L125.75 425 L130 400 L134 375 L138 350 L142 325 L146 300 L149.5 275 L153 250 L156.5 225 L160 200 L163.25 175 L166.5 150 L169.75 125 L173 100 L175.25 75 L177.5 50 L179.75 25 L182 0" fill="none" stroke="#000" stroke-width="0.45" vector-effect="non-scaling-stroke"/>
<path d="M23.94 1000 L30.31 975 L36.59 950 L42.8 925 L48.93 900 L56.98 875 L65 850 L72.52 825 L80.69 800 L86.79 775 L92.87 750 L98.93 725 L104.95 700 L110.75 675 L116.55 650 L122.35 625 L128.16 600 L133.73 575 L139.29 550 L144.82 525 L150.35 500 L155.07 475 L159.79 450 L164.51 425 L169.22 400 L173.54 375 L177.86 350 L182.18 325 L186.49 300 L190.14 275 L193.78 250 L197.43 225 L201.07 200 L204.63 175 L208.19 150 L211.75 125 L215.31 100 L218.07 75 L220.83 50 L223.59 25 L226.35 0" fill="none" stroke="#000" stroke-width="0.45" vector-effect="non-scaling-stroke"/>
<path d="M33 1000 L42.25 975 L51.5 950 L60.75 925 L70 900 L79.75 875 L89.5 850 L99.25 825 L109 800 L116.75 775 L124.5 750 L132.25 725 L140 700 L146.5 675 L153 650 L159.5 625 L166 600 L171.5 575 L177 550 L182.5 525 L188 500 L193 475 L198 450 L203 425 L208 400 L212.5 375 L217 350 L221.5 325 L226 300 L229.75 275 L233.5 250 L237.25 225 L241 200 L244.75 175 L248.5 150 L252.25 125 L256 100 L259.25 75 L262.5 50 L265.75 25 L269 0" fill="none" stroke="#000" stroke-width="0.45" vector-effect="non-scaling-stroke"/>
<path d="M41.64 1000 L52.58 975 L63.5 950 L74.42 925 L85.33 900 L97.52 875 L109.71 850 L121.91 825 L134.11 800 L143.92 775 L153.73 750 L163.54 725 L173.33 700 L180.81 675 L188.31 650 L195.83 625 L203.37 600 L209.28 575 L215.2 550 L221.14 525 L227.1 500 L232.36 475 L237.63 450 L242.92 425 L248.22 400 L253.06 375 L257.91 350 L262.75 325 L267.6 300 L272.1 275 L276.6 250 L281.11 225 L285.62 200 L289.48 175 L293.34 150 L297.2 125 L301.06 100 L304.39 75 L307.71 50 L311.04 25 L314.36 0" fill="none" stroke="#000" stroke-width="0.45" vector-effect="non-scaling-stroke"/>
<path d="M50 1000 L62.25 975 L74.5 950 L86.75 925 L99 900 L113.25 875 L127.5 850 L141.75 825 L156 800 L168 775 L180 750 L192 725 L204 700 L213.25 675 L222.5 650 L231.75 625 L241 600 L248 575 L255 550 L262 525 L269 500 L275 475 L281 450 L287 425 L293 400 L298.25 375 L303.5 350 L308.75 325 L314 300 L319.25 275 L324.5 250 L329.75 225 L335 200 L339 175 L343 150 L347 125 L351 100 L354.25 75 L357.5 50 L360.75 25 L364 0" fill="none" stroke="#000" stroke-width="0.45" vector-effect="non-scaling-stroke"/>
<path d="M59 1000 L72.5 975 L86 950 L99.5 925 L113 900 L128.25 875 L143.5 850 L158.75 825 L174 800 L188 775 L202 750 L216 725 L230 700 L242.25 675 L254.5 650 L266.75 625 L279 600 L288.75 575 L298.5 550 L308.25 525 L318 500 L326.75 475 L335.5 450 L344.25 425 L353 400 L358.75 375 L364.5 350 L370.25 325 L376 300 L380.75 275 L385.5 250 L390.25 225 L395 200 L399.5 175 L404 150 L408.5 125 L413 100 L416.25 75 L419.5 50 L422.75 25 L426 0" fill="none" stroke="#000" stroke-width="0.45" vector-effect="non-scaling-stroke"/>
<path d="M68 1000 L81 975 L94 950 L107 925 L120 900 L138.25 875 L156.5 850 L174.75 825 L193 800 L210.5 775 L228 750 L245.5 725 L263 700 L278.5 675 L294 650 L309.5 625 L325 600 L336.5 575 L348 550 L359.5 525 L371 500 L379.75 475 L388.5 450 L397.25 425 L406 400 L414.25 375 L422.5 350 L430.75 325 L439 300 L445.75 275 L452.5 250 L459.25 225 L466 200 L472 175 L478 150 L484 125 L490 100 L495.25 75 L500.5 50 L505.75 25 L511 0" fill="none" stroke="#000" stroke-width="0.45" vector-effect="non-scaling-stroke"/>
<path d="M83 1000 L98.5 975 L114 950 L129.5 925 L145 900 L163.75 875 L182.5 850 L201.25 825 L220 800 L241.25 775 L262.5 750 L283.75 725 L305 700 L325.75 675 L346.5 650 L367.25 625 L388 600 L407.75 575 L427.5 550 L447.25 525 L467 500 L485.25 475 L503.5 450 L521.75 425 L540 400 L554.5 375 L569 350 L583.5 325 L598 300 L609.75 275 L621.5 250 L633.25 225 L645 200 L655 175 L665 150 L675 125 L685 100 L694 75 L703 50 L712 25 L721 0" fill="none" stroke="#000" stroke-width="0.45" vector-effect="non-scaling-stroke"/>
<rect x="0" y="0" width="1000" height="1000" fill="none" stroke="#222" stroke-width="0.5" vector-effect="non-scaling-stroke"/>
</g>
<line x1="584.75" y1="44.6" x2="584.75" y2="261.6" stroke="#ff1a1a" stroke-width="0.95"/>
<line x1="461.5" y1="74.4" x2="466.5" y2="75.6" stroke="#444" stroke-width="0.5"/>
<text x="458.9" y="76.2" font-size="7.4" text-anchor="end" fill="#1a1a1a">1</text>
<line x1="461.5" y1="147.1" x2="466.5" y2="148.3" stroke="#444" stroke-width="0.5"/>
<text x="458.9" y="148.9" font-size="7.4" text-anchor="end" fill="#1a1a1a">0.833</text>
<line x1="461.5" y1="219.4" x2="466.5" y2="220.6" stroke="#444" stroke-width="0.5"/>
<text x="458.9" y="221.2" font-size="7.4" text-anchor="end" fill="#1a1a1a">0.667</text>
<line x1="461.5" y1="292.2" x2="466.5" y2="293.4" stroke="#444" stroke-width="0.5"/>
<text x="458.9" y="294" font-size="7.4" text-anchor="end" fill="#1a1a1a">0.5</text>
<line x1="466.5" y1="293.4" x2="462.3" y2="296.4" stroke="#333" stroke-width="0.55"/>
<text x="460.3" y="304.6" font-size="7" text-anchor="end" fill="#1a1a1a">0</text>
<line x1="491.55" y1="301.47" x2="487.35" y2="304.47" stroke="#333" stroke-width="0.55"/>
<text x="485.35" y="312.67" font-size="7" text-anchor="end" fill="#1a1a1a">0.25</text>
<line x1="516.6" y1="309.55" x2="512.4" y2="312.55" stroke="#333" stroke-width="0.55"/>
<text x="510.4" y="320.75" font-size="7" text-anchor="end" fill="#1a1a1a">0.5</text>
<line x1="541.65" y1="317.62" x2="537.45" y2="320.62" stroke="#333" stroke-width="0.55"/>
<text x="535.45" y="328.82" font-size="7" text-anchor="end" fill="#1a1a1a">0.75</text>
<line x1="566.7" y1="325.7" x2="562.5" y2="328.7" stroke="#333" stroke-width="0.55"/>
<text x="560.5" y="336.9" font-size="7" text-anchor="end" fill="#1a1a1a">1</text>
<line x1="566.7" y1="325.7" x2="571.4" y2="327.2" stroke="#333" stroke-width="0.55"/>
<text x="574.1" y="334.7" font-size="7" text-anchor="start" fill="#1a1a1a">0</text>
<line x1="583.55" y1="313.82" x2="588.25" y2="315.32" stroke="#333" stroke-width="0.55"/>
<text x="590.95" y="322.82" font-size="7" text-anchor="start" fill="#1a1a1a">0.25</text>
<line x1="600.4" y1="301.95" x2="605.1" y2="303.45" stroke="#333" stroke-width="0.55"/>
<text x="607.8" y="310.95" font-size="7" text-anchor="start" fill="#1a1a1a">0.5</text>
<line x1="617.25" y1="290.07" x2="621.95" y2="291.57" stroke="#333" stroke-width="0.55"/>
<text x="624.65" y="299.07" font-size="7" text-anchor="start" fill="#1a1a1a">0.75</text>
<line x1="634.1" y1="278.2" x2="638.8" y2="279.7" stroke="#333" stroke-width="0.55"/>
<text x="641.5" y="287.2" font-size="7" text-anchor="start" fill="#1a1a1a">1</text>
<text x="434.9" y="184.9" font-size="7" text-anchor="middle" fill="#1a1a1a" transform="rotate(-90 434.9 184.9)">Degree of Lethality (L)</text>
<text x="516.3" y="345.4" font-size="7" text-anchor="middle" fill="#1a1a1a" textLength="83.6" lengthAdjust="spacingAndGlyphs">Fitness Cost (1-<tspan font-style="italic">r</tspan><tspan font-size="5.95" dy="2.94">A</tspan><tspan dy="-2.94"> = 1-<tspan font-style="italic">r</tspan></tspan><tspan font-size="5.95" dy="2.94">B</tspan><tspan dy="-2.94">)</tspan></text>
<text x="600" y="354.9" font-size="7.1" text-anchor="middle" fill="#1a1a1a">Rate of Homing (&#934;)</text>
<line x1="529.1" y1="14.4" x2="541.5" y2="29.2" stroke="#111" stroke-width="0.8"/>
<text x="531.6" y="12.2" font-size="8.3" text-anchor="start" fill="#111" transform="rotate(-90 531.6 12.2)">0.1</text>
<line x1="548.2" y1="14.4" x2="552.6" y2="32" stroke="#111" stroke-width="0.8"/>
<text x="550.7" y="12.2" font-size="8.3" text-anchor="start" fill="#111" transform="rotate(-90 550.7 12.2)">0.3</text>
<line x1="566.8" y1="14.4" x2="561" y2="34.4" stroke="#111" stroke-width="0.8"/>
<text x="569.3" y="12.2" font-size="8.3" text-anchor="start" fill="#111" transform="rotate(-90 569.3 12.2)">0.5</text>
<line x1="585.4" y1="14.4" x2="571.6" y2="37.6" stroke="#111" stroke-width="0.8"/>
<text x="587.9" y="12.2" font-size="8.3" text-anchor="start" fill="#111" transform="rotate(-90 587.9 12.2)">0.7</text>
<line x1="604.7" y1="14.4" x2="586.2" y2="42" stroke="#111" stroke-width="0.8"/>
<text x="607.2" y="12.2" font-size="8.3" text-anchor="start" fill="#111" transform="rotate(-90 607.2 12.2)">0.9</text>
<rect x="646.9" y="27.7" width="7.1" height="297.8" fill="url(#cbg)"/>
<rect x="646.9" y="27.7" width="7.1" height="4.4" fill="#fb6a2a"/>
<rect x="646.9" y="27.7" width="7.1" height="297.8" fill="none" stroke="#262626" stroke-opacity="0.45" stroke-width="0.9"/>
<line x1="654" y1="325.5" x2="652.6" y2="325.5" stroke="#262626" stroke-opacity="0.55" stroke-width="0.8"/>
<text x="656.4" y="328.02" font-size="6.4" text-anchor="start" fill="#1a1a1a" stroke="#1a1a1a" stroke-width="0.18">0</text>
<line x1="654" y1="295.72" x2="652.6" y2="295.72" stroke="#262626" stroke-opacity="0.55" stroke-width="0.8"/>
<text x="656.4" y="298.24" font-size="6.4" text-anchor="start" fill="#1a1a1a" stroke="#1a1a1a" stroke-width="0.18">0.1</text>
<line x1="654" y1="265.94" x2="652.6" y2="265.94" stroke="#262626" stroke-opacity="0.55" stroke-width="0.8"/>
<text x="656.4" y="268.46" font-size="6.4" text-anchor="start" fill="#1a1a1a" stroke="#1a1a1a" stroke-width="0.18">0.2</text>
<line x1="654" y1="236.16" x2="652.6" y2="236.16" stroke="#262626" stroke-opacity="0.55" stroke-width="0.8"/>
<text x="656.4" y="238.68" font-size="6.4" text-anchor="start" fill="#1a1a1a" stroke="#1a1a1a" stroke-width="0.18">0.3</text>
<line x1="654" y1="206.38" x2="652.6" y2="206.38" stroke="#262626" stroke-opacity="0.55" stroke-width="0.8"/>
<text x="656.4" y="208.9" font-size="6.4" text-anchor="start" fill="#1a1a1a" stroke="#1a1a1a" stroke-width="0.18">0.4</text>
<line x1="654" y1="176.6" x2="652.6" y2="176.6" stroke="#262626" stroke-opacity="0.55" stroke-width="0.8"/>
<text x="656.4" y="179.12" font-size="6.4" text-anchor="start" fill="#1a1a1a" stroke="#1a1a1a" stroke-width="0.18">0.5</text>
<line x1="654" y1="146.82" x2="652.6" y2="146.82" stroke="#262626" stroke-opacity="0.55" stroke-width="0.8"/>
<text x="656.4" y="149.34" font-size="6.4" text-anchor="start" fill="#1a1a1a" stroke="#1a1a1a" stroke-width="0.18">0.6</text>
<line x1="654" y1="117.04" x2="652.6" y2="117.04" stroke="#262626" stroke-opacity="0.55" stroke-width="0.8"/>
<text x="656.4" y="119.56" font-size="6.4" text-anchor="start" fill="#1a1a1a" stroke="#1a1a1a" stroke-width="0.18">0.7</text>
<line x1="654" y1="87.26" x2="652.6" y2="87.26" stroke="#262626" stroke-opacity="0.55" stroke-width="0.8"/>
<text x="656.4" y="89.78" font-size="6.4" text-anchor="start" fill="#1a1a1a" stroke="#1a1a1a" stroke-width="0.18">0.8</text>
<line x1="654" y1="57.48" x2="652.6" y2="57.48" stroke="#262626" stroke-opacity="0.55" stroke-width="0.8"/>
<text x="656.4" y="60" font-size="6.4" text-anchor="start" fill="#1a1a1a" stroke="#1a1a1a" stroke-width="0.18">0.9</text>
<line x1="654" y1="27.7" x2="652.6" y2="27.7" stroke="#262626" stroke-opacity="0.55" stroke-width="0.8"/>
<text x="656.4" y="30.22" font-size="6.4" text-anchor="start" fill="#1a1a1a" stroke="#1a1a1a" stroke-width="0.18">1</text>
<text x="674.3" y="183.4" font-size="6.8" text-anchor="middle" fill="#1a1a1a" transform="rotate(-90 674.3 183.4)">Threshold Introduction Frequency</text>
</svg>
</body></html>
